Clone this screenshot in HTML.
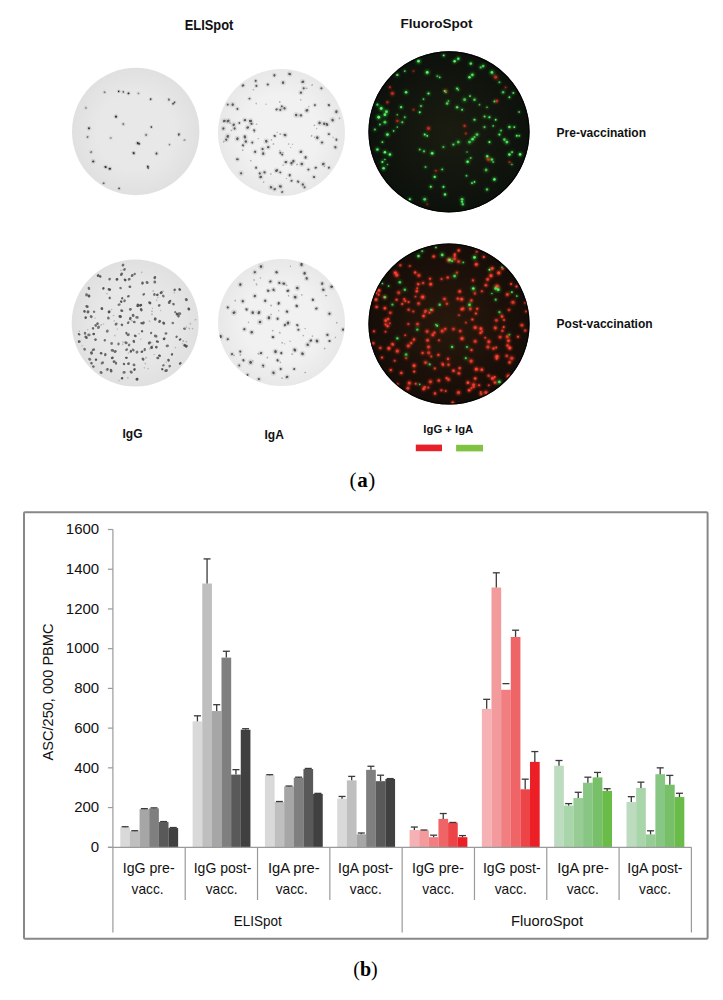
<!DOCTYPE html>
<html><head><meta charset="utf-8">
<style>
html,body{margin:0;padding:0;background:#fff;width:723px;height:1000px;overflow:hidden}
svg{position:absolute;left:0;top:0}
.t{font-family:"Liberation Sans",sans-serif;font-size:14px;fill:#111}
.b{font-family:"Liberation Sans",sans-serif;font-size:12px;font-weight:bold;fill:#111}
.s{font-family:"Liberation Serif",serif;font-size:20px;fill:#000}
</style></head><body>
<svg width="723" height="1000" viewBox="0 0 723 1000">
<defs>
<filter id="soft" x="-5%" y="-5%" width="110%" height="110%"><feGaussianBlur stdDeviation="0.5"/></filter>
<filter id="blur1" x="-5%" y="-5%" width="110%" height="110%"><feGaussianBlur stdDeviation="0.7"/></filter>
<filter id="blur2" x="-5%" y="-5%" width="110%" height="110%"><feGaussianBlur stdDeviation="0.8"/></filter>
</defs>
<clipPath id="c1"><circle cx="135.7" cy="131.5" r="63.7"/></clipPath>
<radialGradient id="g1"><stop offset="0" stop-color="#e8e8e8"/><stop offset="0.6" stop-color="#e8e8e8"/><stop offset="1" stop-color="#e0e0e0"/></radialGradient>
<circle cx="135.7" cy="131.5" r="63.7" fill="url(#g1)" filter="url(#soft)"/>
<g clip-path="url(#c1)"><g filter="url(#blur1)">
<circle cx="104.6" cy="92.3" r="2.03" fill="#2e2e2e" opacity="0.07"/>
<ellipse cx="104.6" cy="92.3" rx="1.04" ry="0.85" transform="rotate(27 104.6 92.3)" fill="#2e2e2e" opacity="0.55"/>
<circle cx="118.7" cy="91.3" r="1.85" fill="#2e2e2e" opacity="0.14"/>
<ellipse cx="118.7" cy="91.3" rx="0.87" ry="0.77" transform="rotate(96 118.7 91.3)" fill="#2e2e2e" opacity="1.00"/>
<circle cx="123.3" cy="91.9" r="1.84" fill="#2e2e2e" opacity="0.11"/>
<ellipse cx="123.3" cy="91.9" rx="0.78" ry="0.77" transform="rotate(91 123.3 91.9)" fill="#2e2e2e" opacity="0.82"/>
<circle cx="128.5" cy="93.4" r="2.11" fill="#2e2e2e" opacity="0.14"/>
<ellipse cx="128.5" cy="93.4" rx="0.91" ry="0.88" transform="rotate(13 128.5 93.4)" fill="#2e2e2e" opacity="1.00"/>
<circle cx="138.4" cy="93.4" r="2.11" fill="#2e2e2e" opacity="0.06"/>
<ellipse cx="138.4" cy="93.4" rx="0.92" ry="0.88" transform="rotate(149 138.4 93.4)" fill="#2e2e2e" opacity="0.46"/>
<circle cx="150.7" cy="99.2" r="1.96" fill="#2e2e2e" opacity="0.11"/>
<ellipse cx="150.7" cy="99.2" rx="1.09" ry="0.82" transform="rotate(113 150.7 99.2)" fill="#2e2e2e" opacity="0.82"/>
<circle cx="168.9" cy="99.6" r="2.22" fill="#2e2e2e" opacity="0.08"/>
<ellipse cx="168.9" cy="99.6" rx="1.24" ry="0.92" transform="rotate(71 168.9 99.6)" fill="#2e2e2e" opacity="0.64"/>
<circle cx="173.1" cy="103.8" r="1.83" fill="#2e2e2e" opacity="0.14"/>
<ellipse cx="173.1" cy="103.8" rx="0.84" ry="0.76" transform="rotate(155 173.1 103.8)" fill="#2e2e2e" opacity="1.00"/>
<circle cx="174.5" cy="102.3" r="1.90" fill="#2e2e2e" opacity="0.11"/>
<ellipse cx="174.5" cy="102.3" rx="0.88" ry="0.79" transform="rotate(21 174.5 102.3)" fill="#2e2e2e" opacity="0.82"/>
<circle cx="116.0" cy="116.6" r="2.39" fill="#2e2e2e" opacity="0.14"/>
<ellipse cx="116.0" cy="116.6" rx="1.20" ry="0.99" transform="rotate(33 116.0 116.6)" fill="#2e2e2e" opacity="1.00"/>
<circle cx="123.3" cy="124.1" r="2.26" fill="#2e2e2e" opacity="0.07"/>
<ellipse cx="123.3" cy="124.1" rx="1.12" ry="0.94" transform="rotate(67 123.3 124.1)" fill="#2e2e2e" opacity="0.55"/>
<circle cx="151.3" cy="127.0" r="1.85" fill="#2e2e2e" opacity="0.14"/>
<ellipse cx="151.3" cy="127.0" rx="0.82" ry="0.77" transform="rotate(11 151.3 127.0)" fill="#2e2e2e" opacity="1.00"/>
<circle cx="89.0" cy="128.2" r="2.29" fill="#2e2e2e" opacity="0.14"/>
<ellipse cx="89.0" cy="128.2" rx="1.06" ry="0.95" transform="rotate(77 89.0 128.2)" fill="#2e2e2e" opacity="1.00"/>
<circle cx="87.6" cy="137.0" r="2.22" fill="#2e2e2e" opacity="0.07"/>
<ellipse cx="87.6" cy="137.0" rx="1.02" ry="0.93" transform="rotate(82 87.6 137.0)" fill="#2e2e2e" opacity="0.55"/>
<circle cx="146.1" cy="134.9" r="2.37" fill="#2e2e2e" opacity="0.07"/>
<ellipse cx="146.1" cy="134.9" rx="1.07" ry="0.99" transform="rotate(126 146.1 134.9)" fill="#2e2e2e" opacity="0.55"/>
<circle cx="178.9" cy="134.5" r="2.21" fill="#2e2e2e" opacity="0.11"/>
<ellipse cx="178.9" cy="134.5" rx="1.20" ry="0.92" transform="rotate(95 178.9 134.5)" fill="#2e2e2e" opacity="0.82"/>
<circle cx="137.8" cy="143.2" r="2.33" fill="#2e2e2e" opacity="0.14"/>
<ellipse cx="137.8" cy="143.2" rx="1.30" ry="0.97" transform="rotate(52 137.8 143.2)" fill="#2e2e2e" opacity="1.00"/>
<circle cx="139.3" cy="143.8" r="1.89" fill="#2e2e2e" opacity="0.11"/>
<ellipse cx="139.3" cy="143.8" rx="0.99" ry="0.79" transform="rotate(75 139.3 143.8)" fill="#2e2e2e" opacity="0.82"/>
<circle cx="169.5" cy="144.6" r="1.91" fill="#2e2e2e" opacity="0.07"/>
<ellipse cx="169.5" cy="144.6" rx="0.81" ry="0.80" transform="rotate(88 169.5 144.6)" fill="#2e2e2e" opacity="0.55"/>
<circle cx="91.1" cy="152.1" r="2.28" fill="#2e2e2e" opacity="0.07"/>
<ellipse cx="91.1" cy="152.1" rx="1.14" ry="0.95" transform="rotate(138 91.1 152.1)" fill="#2e2e2e" opacity="0.55"/>
<circle cx="133.7" cy="153.1" r="2.43" fill="#2e2e2e" opacity="0.13"/>
<ellipse cx="133.7" cy="153.1" rx="1.26" ry="1.01" transform="rotate(56 133.7 153.1)" fill="#2e2e2e" opacity="0.91"/>
<circle cx="156.5" cy="153.5" r="2.23" fill="#2e2e2e" opacity="0.13"/>
<ellipse cx="156.5" cy="153.5" rx="1.08" ry="0.93" transform="rotate(104 156.5 153.5)" fill="#2e2e2e" opacity="0.91"/>
<circle cx="93.2" cy="161.4" r="2.40" fill="#2e2e2e" opacity="0.13"/>
<ellipse cx="93.2" cy="161.4" rx="1.17" ry="1.00" transform="rotate(170 93.2 161.4)" fill="#2e2e2e" opacity="0.91"/>
<circle cx="105.6" cy="167.0" r="2.28" fill="#2e2e2e" opacity="0.14"/>
<ellipse cx="105.6" cy="167.0" rx="1.18" ry="0.95" transform="rotate(11 105.6 167.0)" fill="#2e2e2e" opacity="1.00"/>
<circle cx="109.8" cy="168.7" r="2.27" fill="#2e2e2e" opacity="0.14"/>
<ellipse cx="109.8" cy="168.7" rx="1.22" ry="0.94" transform="rotate(179 109.8 168.7)" fill="#2e2e2e" opacity="1.00"/>
<circle cx="147.8" cy="166.6" r="2.00" fill="#2e2e2e" opacity="0.14"/>
<ellipse cx="147.8" cy="166.6" rx="1.03" ry="0.84" transform="rotate(69 147.8 166.6)" fill="#2e2e2e" opacity="1.00"/>
<circle cx="148.2" cy="168.1" r="1.82" fill="#2e2e2e" opacity="0.11"/>
<ellipse cx="148.2" cy="168.1" rx="0.80" ry="0.76" transform="rotate(83 148.2 168.1)" fill="#2e2e2e" opacity="0.82"/>
<circle cx="103.6" cy="183.2" r="1.88" fill="#2e2e2e" opacity="0.10"/>
<ellipse cx="103.6" cy="183.2" rx="1.00" ry="0.79" transform="rotate(11 103.6 183.2)" fill="#2e2e2e" opacity="0.73"/>
<circle cx="119.1" cy="188.4" r="1.89" fill="#2e2e2e" opacity="0.11"/>
<ellipse cx="119.1" cy="188.4" rx="0.90" ry="0.79" transform="rotate(45 119.1 188.4)" fill="#2e2e2e" opacity="0.82"/>
<circle cx="110.8" cy="138.0" r="2.43" fill="#2e2e2e" opacity="0.04"/>
<ellipse cx="110.8" cy="138.0" rx="1.17" ry="1.01" transform="rotate(15 110.8 138.0)" fill="#2e2e2e" opacity="0.37"/>
<circle cx="184.5" cy="140.1" r="2.20" fill="#2e2e2e" opacity="0.04"/>
<ellipse cx="184.5" cy="140.1" rx="1.18" ry="0.91" transform="rotate(159 184.5 140.1)" fill="#2e2e2e" opacity="0.37"/>
<circle cx="85.9" cy="107.9" r="2.42" fill="#2e2e2e" opacity="0.04"/>
<ellipse cx="85.9" cy="107.9" rx="1.16" ry="1.01" transform="rotate(50 85.9 107.9)" fill="#2e2e2e" opacity="0.37"/>
</g></g>
<clipPath id="c2"><circle cx="281.5" cy="132.5" r="63.5"/></clipPath>
<radialGradient id="g2"><stop offset="0" stop-color="#f1f1f1"/><stop offset="0.6" stop-color="#f1f1f1"/><stop offset="1" stop-color="#e8e8e8"/></radialGradient>
<circle cx="281.5" cy="132.5" r="63.5" fill="url(#g2)" filter="url(#soft)"/>
<g clip-path="url(#c2)"><g filter="url(#blur1)">
<circle cx="243.0" cy="85.5" r="2.46" fill="#5a5a5a" opacity="0.14"/>
<ellipse cx="243.0" cy="85.5" rx="1.37" ry="1.03" transform="rotate(159 243.0 85.5)" fill="#5a5a5a" opacity="1.00"/>
<circle cx="255.7" cy="80.9" r="2.29" fill="#5a5a5a" opacity="0.14"/>
<ellipse cx="255.7" cy="80.9" rx="1.03" ry="0.95" transform="rotate(32 255.7 80.9)" fill="#5a5a5a" opacity="1.00"/>
<circle cx="256.4" cy="85.9" r="2.36" fill="#5a5a5a" opacity="0.14"/>
<ellipse cx="256.4" cy="85.9" rx="1.18" ry="0.98" transform="rotate(87 256.4 85.9)" fill="#5a5a5a" opacity="1.00"/>
<circle cx="267.8" cy="84.6" r="2.38" fill="#5a5a5a" opacity="0.14"/>
<ellipse cx="267.8" cy="84.6" rx="1.14" ry="0.99" transform="rotate(1 267.8 84.6)" fill="#5a5a5a" opacity="1.00"/>
<circle cx="274.4" cy="75.3" r="2.47" fill="#5a5a5a" opacity="0.14"/>
<ellipse cx="274.4" cy="75.3" rx="1.37" ry="1.03" transform="rotate(102 274.4 75.3)" fill="#5a5a5a" opacity="1.00"/>
<circle cx="283.1" cy="82.7" r="2.74" fill="#5a5a5a" opacity="0.14"/>
<ellipse cx="283.1" cy="82.7" rx="1.39" ry="1.14" transform="rotate(93 283.1 82.7)" fill="#5a5a5a" opacity="1.00"/>
<circle cx="289.7" cy="74.0" r="2.73" fill="#5a5a5a" opacity="0.14"/>
<ellipse cx="289.7" cy="74.0" rx="1.49" ry="1.14" transform="rotate(10 289.7 74.0)" fill="#5a5a5a" opacity="1.00"/>
<circle cx="302.8" cy="81.8" r="2.82" fill="#5a5a5a" opacity="0.14"/>
<ellipse cx="302.8" cy="81.8" rx="1.50" ry="1.17" transform="rotate(157 302.8 81.8)" fill="#5a5a5a" opacity="1.00"/>
<circle cx="303.7" cy="88.3" r="2.49" fill="#5a5a5a" opacity="0.14"/>
<ellipse cx="303.7" cy="88.3" rx="1.07" ry="1.04" transform="rotate(72 303.7 88.3)" fill="#5a5a5a" opacity="1.00"/>
<circle cx="300.9" cy="92.6" r="2.69" fill="#5a5a5a" opacity="0.14"/>
<ellipse cx="300.9" cy="92.6" rx="1.15" ry="1.12" transform="rotate(11 300.9 92.6)" fill="#5a5a5a" opacity="1.00"/>
<circle cx="321.4" cy="88.3" r="2.34" fill="#5a5a5a" opacity="0.14"/>
<ellipse cx="321.4" cy="88.3" rx="1.09" ry="0.97" transform="rotate(29 321.4 88.3)" fill="#5a5a5a" opacity="1.00"/>
<circle cx="249.5" cy="98.6" r="2.20" fill="#5a5a5a" opacity="0.14"/>
<ellipse cx="249.5" cy="98.6" rx="0.97" ry="0.92" transform="rotate(0 249.5 98.6)" fill="#5a5a5a" opacity="1.00"/>
<circle cx="227.7" cy="104.6" r="2.25" fill="#5a5a5a" opacity="0.14"/>
<ellipse cx="227.7" cy="104.6" rx="0.94" ry="0.94" transform="rotate(65 227.7 104.6)" fill="#5a5a5a" opacity="1.00"/>
<circle cx="232.7" cy="104.6" r="2.89" fill="#5a5a5a" opacity="0.14"/>
<ellipse cx="232.7" cy="104.6" rx="1.27" ry="1.21" transform="rotate(111 232.7 104.6)" fill="#5a5a5a" opacity="1.00"/>
<circle cx="237.4" cy="108.9" r="2.37" fill="#5a5a5a" opacity="0.14"/>
<ellipse cx="237.4" cy="108.9" rx="1.11" ry="0.99" transform="rotate(63 237.4 108.9)" fill="#5a5a5a" opacity="1.00"/>
<circle cx="276.6" cy="109.4" r="2.26" fill="#5a5a5a" opacity="0.14"/>
<ellipse cx="276.6" cy="109.4" rx="1.27" ry="0.94" transform="rotate(153 276.6 109.4)" fill="#5a5a5a" opacity="1.00"/>
<circle cx="280.3" cy="109.8" r="2.55" fill="#5a5a5a" opacity="0.14"/>
<ellipse cx="280.3" cy="109.8" rx="1.10" ry="1.06" transform="rotate(87 280.3 109.8)" fill="#5a5a5a" opacity="1.00"/>
<circle cx="281.8" cy="106.4" r="2.25" fill="#5a5a5a" opacity="0.14"/>
<ellipse cx="281.8" cy="106.4" rx="1.02" ry="0.94" transform="rotate(62 281.8 106.4)" fill="#5a5a5a" opacity="1.00"/>
<circle cx="284.5" cy="108.3" r="2.86" fill="#5a5a5a" opacity="0.14"/>
<ellipse cx="284.5" cy="108.3" rx="1.20" ry="1.19" transform="rotate(29 284.5 108.3)" fill="#5a5a5a" opacity="1.00"/>
<circle cx="296.2" cy="115.0" r="2.96" fill="#5a5a5a" opacity="0.14"/>
<ellipse cx="296.2" cy="115.0" rx="1.30" ry="1.23" transform="rotate(95 296.2 115.0)" fill="#5a5a5a" opacity="1.00"/>
<circle cx="300.9" cy="115.4" r="2.62" fill="#5a5a5a" opacity="0.14"/>
<ellipse cx="300.9" cy="115.4" rx="1.29" ry="1.09" transform="rotate(5 300.9 115.4)" fill="#5a5a5a" opacity="1.00"/>
<circle cx="306.9" cy="110.4" r="2.98" fill="#5a5a5a" opacity="0.14"/>
<ellipse cx="306.9" cy="110.4" rx="1.55" ry="1.24" transform="rotate(155 306.9 110.4)" fill="#5a5a5a" opacity="1.00"/>
<circle cx="314.9" cy="105.1" r="2.38" fill="#5a5a5a" opacity="0.14"/>
<ellipse cx="314.9" cy="105.1" rx="1.05" ry="0.99" transform="rotate(66 314.9 105.1)" fill="#5a5a5a" opacity="1.00"/>
<circle cx="336.4" cy="111.7" r="2.81" fill="#5a5a5a" opacity="0.14"/>
<ellipse cx="336.4" cy="111.7" rx="1.49" ry="1.17" transform="rotate(96 336.4 111.7)" fill="#5a5a5a" opacity="1.00"/>
<circle cx="328.9" cy="105.1" r="2.44" fill="#5a5a5a" opacity="0.14"/>
<ellipse cx="328.9" cy="105.1" rx="1.30" ry="1.02" transform="rotate(40 328.9 105.1)" fill="#5a5a5a" opacity="1.00"/>
<circle cx="228.1" cy="121.0" r="2.99" fill="#5a5a5a" opacity="0.14"/>
<ellipse cx="228.1" cy="121.0" rx="1.60" ry="1.24" transform="rotate(153 228.1 121.0)" fill="#5a5a5a" opacity="1.00"/>
<circle cx="233.7" cy="124.7" r="2.85" fill="#5a5a5a" opacity="0.14"/>
<ellipse cx="233.7" cy="124.7" rx="1.28" ry="1.19" transform="rotate(133 233.7 124.7)" fill="#5a5a5a" opacity="1.00"/>
<circle cx="234.6" cy="128.5" r="2.59" fill="#5a5a5a" opacity="0.14"/>
<ellipse cx="234.6" cy="128.5" rx="1.09" ry="1.08" transform="rotate(64 234.6 128.5)" fill="#5a5a5a" opacity="1.00"/>
<circle cx="239.3" cy="122.9" r="2.18" fill="#5a5a5a" opacity="0.14"/>
<ellipse cx="239.3" cy="122.9" rx="0.99" ry="0.91" transform="rotate(50 239.3 122.9)" fill="#5a5a5a" opacity="1.00"/>
<circle cx="244.9" cy="120.1" r="2.74" fill="#5a5a5a" opacity="0.14"/>
<ellipse cx="244.9" cy="120.1" rx="1.32" ry="1.14" transform="rotate(172 244.9 120.1)" fill="#5a5a5a" opacity="1.00"/>
<circle cx="250.5" cy="121.0" r="2.95" fill="#5a5a5a" opacity="0.14"/>
<ellipse cx="250.5" cy="121.0" rx="1.64" ry="1.23" transform="rotate(178 250.5 121.0)" fill="#5a5a5a" opacity="1.00"/>
<circle cx="251.4" cy="123.8" r="2.47" fill="#5a5a5a" opacity="0.14"/>
<ellipse cx="251.4" cy="123.8" rx="1.11" ry="1.03" transform="rotate(40 251.4 123.8)" fill="#5a5a5a" opacity="1.00"/>
<circle cx="254.2" cy="130.3" r="2.33" fill="#5a5a5a" opacity="0.14"/>
<ellipse cx="254.2" cy="130.3" rx="1.18" ry="0.97" transform="rotate(37 254.2 130.3)" fill="#5a5a5a" opacity="1.00"/>
<circle cx="247.7" cy="127.5" r="2.92" fill="#5a5a5a" opacity="0.14"/>
<ellipse cx="247.7" cy="127.5" rx="1.42" ry="1.22" transform="rotate(151 247.7 127.5)" fill="#5a5a5a" opacity="1.00"/>
<circle cx="223.4" cy="128.5" r="2.71" fill="#5a5a5a" opacity="0.14"/>
<ellipse cx="223.4" cy="128.5" rx="1.16" ry="1.13" transform="rotate(144 223.4 128.5)" fill="#5a5a5a" opacity="1.00"/>
<circle cx="224.3" cy="121.0" r="2.71" fill="#5a5a5a" opacity="0.14"/>
<ellipse cx="224.3" cy="121.0" rx="1.44" ry="1.13" transform="rotate(164 224.3 121.0)" fill="#5a5a5a" opacity="1.00"/>
<circle cx="324.2" cy="123.8" r="2.79" fill="#5a5a5a" opacity="0.14"/>
<ellipse cx="324.2" cy="123.8" rx="1.24" ry="1.16" transform="rotate(86 324.2 123.8)" fill="#5a5a5a" opacity="1.00"/>
<circle cx="327.0" cy="124.4" r="2.82" fill="#5a5a5a" opacity="0.14"/>
<ellipse cx="327.0" cy="124.4" rx="1.51" ry="1.18" transform="rotate(60 327.0 124.4)" fill="#5a5a5a" opacity="1.00"/>
<circle cx="332.6" cy="120.1" r="2.98" fill="#5a5a5a" opacity="0.14"/>
<ellipse cx="332.6" cy="120.1" rx="1.41" ry="1.24" transform="rotate(71 332.6 120.1)" fill="#5a5a5a" opacity="1.00"/>
<circle cx="319.6" cy="122.9" r="2.96" fill="#5a5a5a" opacity="0.14"/>
<ellipse cx="319.6" cy="122.9" rx="1.30" ry="1.23" transform="rotate(130 319.6 122.9)" fill="#5a5a5a" opacity="1.00"/>
<circle cx="274.7" cy="135.9" r="2.27" fill="#5a5a5a" opacity="0.14"/>
<ellipse cx="274.7" cy="135.9" rx="1.24" ry="0.94" transform="rotate(27 274.7 135.9)" fill="#5a5a5a" opacity="1.00"/>
<circle cx="285.0" cy="135.0" r="2.84" fill="#5a5a5a" opacity="0.14"/>
<ellipse cx="285.0" cy="135.0" rx="1.52" ry="1.18" transform="rotate(26 285.0 135.0)" fill="#5a5a5a" opacity="1.00"/>
<circle cx="227.7" cy="136.3" r="2.98" fill="#5a5a5a" opacity="0.14"/>
<ellipse cx="227.7" cy="136.3" rx="1.40" ry="1.24" transform="rotate(118 227.7 136.3)" fill="#5a5a5a" opacity="1.00"/>
<circle cx="226.2" cy="139.7" r="2.62" fill="#5a5a5a" opacity="0.14"/>
<ellipse cx="226.2" cy="139.7" rx="1.10" ry="1.09" transform="rotate(24 226.2 139.7)" fill="#5a5a5a" opacity="1.00"/>
<circle cx="237.4" cy="138.7" r="2.98" fill="#5a5a5a" opacity="0.14"/>
<ellipse cx="237.4" cy="138.7" rx="1.47" ry="1.24" transform="rotate(117 237.4 138.7)" fill="#5a5a5a" opacity="1.00"/>
<circle cx="244.9" cy="136.9" r="2.94" fill="#5a5a5a" opacity="0.14"/>
<ellipse cx="244.9" cy="136.9" rx="1.60" ry="1.23" transform="rotate(78 244.9 136.9)" fill="#5a5a5a" opacity="1.00"/>
<circle cx="245.8" cy="141.5" r="2.85" fill="#5a5a5a" opacity="0.14"/>
<ellipse cx="245.8" cy="141.5" rx="1.29" ry="1.19" transform="rotate(38 245.8 141.5)" fill="#5a5a5a" opacity="1.00"/>
<circle cx="243.0" cy="145.3" r="2.41" fill="#5a5a5a" opacity="0.14"/>
<ellipse cx="243.0" cy="145.3" rx="1.21" ry="1.00" transform="rotate(43 243.0 145.3)" fill="#5a5a5a" opacity="1.00"/>
<circle cx="252.3" cy="142.5" r="2.38" fill="#5a5a5a" opacity="0.14"/>
<ellipse cx="252.3" cy="142.5" rx="1.04" ry="0.99" transform="rotate(75 252.3 142.5)" fill="#5a5a5a" opacity="1.00"/>
<circle cx="266.3" cy="141.2" r="2.92" fill="#5a5a5a" opacity="0.14"/>
<ellipse cx="266.3" cy="141.2" rx="1.41" ry="1.22" transform="rotate(64 266.3 141.2)" fill="#5a5a5a" opacity="1.00"/>
<circle cx="268.2" cy="147.2" r="2.65" fill="#5a5a5a" opacity="0.14"/>
<ellipse cx="268.2" cy="147.2" rx="1.27" ry="1.10" transform="rotate(163 268.2 147.2)" fill="#5a5a5a" opacity="1.00"/>
<circle cx="317.3" cy="137.8" r="2.93" fill="#5a5a5a" opacity="0.14"/>
<ellipse cx="317.3" cy="137.8" rx="1.45" ry="1.22" transform="rotate(90 317.3 137.8)" fill="#5a5a5a" opacity="1.00"/>
<circle cx="322.0" cy="142.5" r="2.60" fill="#5a5a5a" opacity="0.14"/>
<ellipse cx="322.0" cy="142.5" rx="1.25" ry="1.08" transform="rotate(3 322.0 142.5)" fill="#5a5a5a" opacity="1.00"/>
<circle cx="328.9" cy="134.1" r="2.31" fill="#5a5a5a" opacity="0.14"/>
<ellipse cx="328.9" cy="134.1" rx="1.23" ry="0.96" transform="rotate(1 328.9 134.1)" fill="#5a5a5a" opacity="1.00"/>
<circle cx="336.4" cy="139.7" r="2.30" fill="#5a5a5a" opacity="0.14"/>
<ellipse cx="336.4" cy="139.7" rx="1.20" ry="0.96" transform="rotate(85 336.4 139.7)" fill="#5a5a5a" opacity="1.00"/>
<circle cx="335.4" cy="147.2" r="2.63" fill="#5a5a5a" opacity="0.14"/>
<ellipse cx="335.4" cy="147.2" rx="1.29" ry="1.09" transform="rotate(59 335.4 147.2)" fill="#5a5a5a" opacity="1.00"/>
<circle cx="255.1" cy="151.8" r="2.63" fill="#5a5a5a" opacity="0.14"/>
<ellipse cx="255.1" cy="151.8" rx="1.14" ry="1.09" transform="rotate(141 255.1 151.8)" fill="#5a5a5a" opacity="1.00"/>
<circle cx="262.6" cy="149.0" r="2.63" fill="#5a5a5a" opacity="0.14"/>
<ellipse cx="262.6" cy="149.0" rx="1.20" ry="1.10" transform="rotate(45 262.6 149.0)" fill="#5a5a5a" opacity="1.00"/>
<circle cx="263.2" cy="153.7" r="2.81" fill="#5a5a5a" opacity="0.14"/>
<ellipse cx="263.2" cy="153.7" rx="1.40" ry="1.17" transform="rotate(91 263.2 153.7)" fill="#5a5a5a" opacity="1.00"/>
<circle cx="300.9" cy="151.8" r="2.80" fill="#5a5a5a" opacity="0.14"/>
<ellipse cx="300.9" cy="151.8" rx="1.35" ry="1.17" transform="rotate(164 300.9 151.8)" fill="#5a5a5a" opacity="1.00"/>
<circle cx="305.6" cy="157.4" r="2.67" fill="#5a5a5a" opacity="0.14"/>
<ellipse cx="305.6" cy="157.4" rx="1.31" ry="1.11" transform="rotate(91 305.6 157.4)" fill="#5a5a5a" opacity="1.00"/>
<circle cx="293.4" cy="161.2" r="2.74" fill="#5a5a5a" opacity="0.14"/>
<ellipse cx="293.4" cy="161.2" rx="1.36" ry="1.14" transform="rotate(81 293.4 161.2)" fill="#5a5a5a" opacity="1.00"/>
<circle cx="291.5" cy="163.0" r="2.56" fill="#5a5a5a" opacity="0.14"/>
<ellipse cx="291.5" cy="163.0" rx="1.33" ry="1.07" transform="rotate(169 291.5 163.0)" fill="#5a5a5a" opacity="1.00"/>
<circle cx="301.8" cy="164.0" r="2.90" fill="#5a5a5a" opacity="0.14"/>
<ellipse cx="301.8" cy="164.0" rx="1.32" ry="1.21" transform="rotate(170 301.8 164.0)" fill="#5a5a5a" opacity="1.00"/>
<circle cx="285.9" cy="162.1" r="2.63" fill="#5a5a5a" opacity="0.14"/>
<ellipse cx="285.9" cy="162.1" rx="1.42" ry="1.10" transform="rotate(170 285.9 162.1)" fill="#5a5a5a" opacity="1.00"/>
<circle cx="282.2" cy="154.6" r="2.28" fill="#5a5a5a" opacity="0.14"/>
<ellipse cx="282.2" cy="154.6" rx="1.09" ry="0.95" transform="rotate(22 282.2 154.6)" fill="#5a5a5a" opacity="1.00"/>
<circle cx="280.3" cy="152.8" r="2.22" fill="#5a5a5a" opacity="0.14"/>
<ellipse cx="280.3" cy="152.8" rx="0.95" ry="0.93" transform="rotate(43 280.3 152.8)" fill="#5a5a5a" opacity="1.00"/>
<circle cx="323.3" cy="164.0" r="2.72" fill="#5a5a5a" opacity="0.14"/>
<ellipse cx="323.3" cy="164.0" rx="1.49" ry="1.13" transform="rotate(141 323.3 164.0)" fill="#5a5a5a" opacity="1.00"/>
<circle cx="328.9" cy="167.7" r="2.29" fill="#5a5a5a" opacity="0.14"/>
<ellipse cx="328.9" cy="167.7" rx="1.17" ry="0.95" transform="rotate(129 328.9 167.7)" fill="#5a5a5a" opacity="1.00"/>
<circle cx="315.8" cy="167.7" r="2.28" fill="#5a5a5a" opacity="0.14"/>
<ellipse cx="315.8" cy="167.7" rx="1.27" ry="0.95" transform="rotate(159 315.8 167.7)" fill="#5a5a5a" opacity="1.00"/>
<circle cx="308.4" cy="169.6" r="2.34" fill="#5a5a5a" opacity="0.14"/>
<ellipse cx="308.4" cy="169.6" rx="1.11" ry="0.98" transform="rotate(171 308.4 169.6)" fill="#5a5a5a" opacity="1.00"/>
<circle cx="237.4" cy="159.3" r="2.57" fill="#5a5a5a" opacity="0.14"/>
<ellipse cx="237.4" cy="159.3" rx="1.38" ry="1.07" transform="rotate(178 237.4 159.3)" fill="#5a5a5a" opacity="1.00"/>
<circle cx="256.1" cy="167.7" r="2.30" fill="#5a5a5a" opacity="0.14"/>
<ellipse cx="256.1" cy="167.7" rx="1.13" ry="0.96" transform="rotate(78 256.1 167.7)" fill="#5a5a5a" opacity="1.00"/>
<circle cx="259.8" cy="173.3" r="2.44" fill="#5a5a5a" opacity="0.14"/>
<ellipse cx="259.8" cy="173.3" rx="1.13" ry="1.02" transform="rotate(35 259.8 173.3)" fill="#5a5a5a" opacity="1.00"/>
<circle cx="260.7" cy="177.0" r="2.77" fill="#5a5a5a" opacity="0.14"/>
<ellipse cx="260.7" cy="177.0" rx="1.38" ry="1.15" transform="rotate(4 260.7 177.0)" fill="#5a5a5a" opacity="1.00"/>
<circle cx="264.5" cy="172.4" r="2.53" fill="#5a5a5a" opacity="0.14"/>
<ellipse cx="264.5" cy="172.4" rx="1.18" ry="1.05" transform="rotate(3 264.5 172.4)" fill="#5a5a5a" opacity="1.00"/>
<circle cx="241.1" cy="173.3" r="2.68" fill="#5a5a5a" opacity="0.14"/>
<ellipse cx="241.1" cy="173.3" rx="1.14" ry="1.12" transform="rotate(92 241.1 173.3)" fill="#5a5a5a" opacity="1.00"/>
<circle cx="276.6" cy="170.5" r="2.99" fill="#5a5a5a" opacity="0.14"/>
<ellipse cx="276.6" cy="170.5" rx="1.67" ry="1.24" transform="rotate(142 276.6 170.5)" fill="#5a5a5a" opacity="1.00"/>
<circle cx="280.3" cy="172.4" r="2.25" fill="#5a5a5a" opacity="0.14"/>
<ellipse cx="280.3" cy="172.4" rx="0.95" ry="0.94" transform="rotate(48 280.3 172.4)" fill="#5a5a5a" opacity="1.00"/>
<circle cx="271.0" cy="187.3" r="2.81" fill="#5a5a5a" opacity="0.14"/>
<ellipse cx="271.0" cy="187.3" rx="1.23" ry="1.17" transform="rotate(49 271.0 187.3)" fill="#5a5a5a" opacity="1.00"/>
<circle cx="274.7" cy="189.2" r="2.51" fill="#5a5a5a" opacity="0.14"/>
<ellipse cx="274.7" cy="189.2" rx="1.35" ry="1.05" transform="rotate(164 274.7 189.2)" fill="#5a5a5a" opacity="1.00"/>
<circle cx="298.1" cy="181.7" r="2.38" fill="#5a5a5a" opacity="0.14"/>
<ellipse cx="298.1" cy="181.7" rx="1.31" ry="0.99" transform="rotate(27 298.1 181.7)" fill="#5a5a5a" opacity="1.00"/>
<circle cx="302.8" cy="184.5" r="2.64" fill="#5a5a5a" opacity="0.14"/>
<ellipse cx="302.8" cy="184.5" rx="1.13" ry="1.10" transform="rotate(126 302.8 184.5)" fill="#5a5a5a" opacity="1.00"/>
<circle cx="304.6" cy="187.3" r="2.21" fill="#5a5a5a" opacity="0.14"/>
<ellipse cx="304.6" cy="187.3" rx="1.06" ry="0.92" transform="rotate(124 304.6 187.3)" fill="#5a5a5a" opacity="1.00"/>
<circle cx="291.5" cy="180.8" r="2.22" fill="#5a5a5a" opacity="0.14"/>
<ellipse cx="291.5" cy="180.8" rx="1.13" ry="0.93" transform="rotate(169 291.5 180.8)" fill="#5a5a5a" opacity="1.00"/>
<circle cx="280.3" cy="186.4" r="2.83" fill="#5a5a5a" opacity="0.14"/>
<ellipse cx="280.3" cy="186.4" rx="1.53" ry="1.18" transform="rotate(15 280.3 186.4)" fill="#5a5a5a" opacity="1.00"/>
<circle cx="282.2" cy="192.0" r="2.22" fill="#5a5a5a" opacity="0.14"/>
<ellipse cx="282.2" cy="192.0" rx="1.07" ry="0.92" transform="rotate(155 282.2 192.0)" fill="#5a5a5a" opacity="1.00"/>
<circle cx="289.7" cy="175.2" r="2.44" fill="#5a5a5a" opacity="0.14"/>
<ellipse cx="289.7" cy="175.2" rx="1.35" ry="1.02" transform="rotate(100 289.7 175.2)" fill="#5a5a5a" opacity="1.00"/>
<circle cx="314.0" cy="177.0" r="2.39" fill="#5a5a5a" opacity="0.14"/>
<ellipse cx="314.0" cy="177.0" rx="1.18" ry="0.99" transform="rotate(23 314.0 177.0)" fill="#5a5a5a" opacity="1.00"/>
</g></g>
<g clip-path="url(#c2)"><g filter="url(#blur1)">
<ellipse cx="283.0" cy="152.5" rx="0.73" ry="0.70" transform="rotate(177 283.0 152.5)" fill="#555" opacity="0.42"/>
<ellipse cx="288.7" cy="144.0" rx="0.83" ry="0.82" transform="rotate(116 288.7 144.0)" fill="#555" opacity="0.42"/>
<ellipse cx="291.6" cy="164.8" rx="1.04" ry="0.85" transform="rotate(161 291.6 164.8)" fill="#555" opacity="0.42"/>
<ellipse cx="263.6" cy="182.1" rx="0.86" ry="0.82" transform="rotate(146 263.6 182.1)" fill="#555" opacity="0.42"/>
<ellipse cx="270.9" cy="173.9" rx="0.98" ry="0.76" transform="rotate(91 270.9 173.9)" fill="#555" opacity="0.42"/>
<ellipse cx="297.1" cy="164.5" rx="1.01" ry="0.84" transform="rotate(149 297.1 164.5)" fill="#555" opacity="0.42"/>
<ellipse cx="311.6" cy="135.9" rx="1.08" ry="0.87" transform="rotate(123 311.6 135.9)" fill="#555" opacity="0.42"/>
<ellipse cx="333.1" cy="137.5" rx="0.70" ry="0.67" transform="rotate(6 333.1 137.5)" fill="#555" opacity="0.42"/>
<ellipse cx="256.5" cy="124.2" rx="0.92" ry="0.71" transform="rotate(19 256.5 124.2)" fill="#555" opacity="0.42"/>
<ellipse cx="223.7" cy="141.7" rx="0.94" ry="0.77" transform="rotate(113 223.7 141.7)" fill="#555" opacity="0.42"/>
<ellipse cx="324.5" cy="166.4" rx="0.81" ry="0.80" transform="rotate(88 324.5 166.4)" fill="#555" opacity="0.42"/>
<ellipse cx="242.7" cy="150.1" rx="0.99" ry="0.84" transform="rotate(135 242.7 150.1)" fill="#555" opacity="0.42"/>
<ellipse cx="300.7" cy="99.8" rx="0.78" ry="0.76" transform="rotate(119 300.7 99.8)" fill="#555" opacity="0.42"/>
<ellipse cx="231.4" cy="130.4" rx="0.84" ry="0.82" transform="rotate(45 231.4 130.4)" fill="#555" opacity="0.42"/>
<ellipse cx="316.7" cy="128.6" rx="0.73" ry="0.68" transform="rotate(131 316.7 128.6)" fill="#555" opacity="0.42"/>
<ellipse cx="306.6" cy="88.3" rx="0.96" ry="0.82" transform="rotate(176 306.6 88.3)" fill="#555" opacity="0.42"/>
<ellipse cx="256.2" cy="103.5" rx="0.89" ry="0.71" transform="rotate(86 256.2 103.5)" fill="#555" opacity="0.42"/>
<ellipse cx="273.4" cy="144.0" rx="1.02" ry="0.83" transform="rotate(111 273.4 144.0)" fill="#555" opacity="0.42"/>
<ellipse cx="292.5" cy="144.2" rx="0.68" ry="0.62" transform="rotate(27 292.5 144.2)" fill="#555" opacity="0.42"/>
<ellipse cx="279.8" cy="102.0" rx="0.99" ry="0.82" transform="rotate(55 279.8 102.0)" fill="#555" opacity="0.42"/>
<ellipse cx="290.6" cy="147.5" rx="0.66" ry="0.60" transform="rotate(11 290.6 147.5)" fill="#555" opacity="0.42"/>
<ellipse cx="312.1" cy="85.1" rx="0.99" ry="0.80" transform="rotate(125 312.1 85.1)" fill="#555" opacity="0.42"/>
<ellipse cx="266.1" cy="104.3" rx="0.80" ry="0.69" transform="rotate(93 266.1 104.3)" fill="#555" opacity="0.42"/>
<ellipse cx="283.1" cy="165.2" rx="0.97" ry="0.74" transform="rotate(21 283.1 165.2)" fill="#555" opacity="0.42"/>
<ellipse cx="258.3" cy="138.6" rx="0.88" ry="0.66" transform="rotate(176 258.3 138.6)" fill="#555" opacity="0.42"/>
<ellipse cx="252.2" cy="142.9" rx="0.78" ry="0.61" transform="rotate(83 252.2 142.9)" fill="#555" opacity="0.42"/>
<ellipse cx="339.5" cy="118.3" rx="0.97" ry="0.89" transform="rotate(81 339.5 118.3)" fill="#555" opacity="0.42"/>
<ellipse cx="252.9" cy="123.8" rx="0.71" ry="0.66" transform="rotate(170 252.9 123.8)" fill="#555" opacity="0.42"/>
<ellipse cx="314.4" cy="125.3" rx="0.92" ry="0.77" transform="rotate(26 314.4 125.3)" fill="#555" opacity="0.42"/>
<ellipse cx="280.3" cy="134.1" rx="1.14" ry="0.89" transform="rotate(24 280.3 134.1)" fill="#555" opacity="0.42"/>
<ellipse cx="250.8" cy="160.7" rx="0.94" ry="0.75" transform="rotate(160 250.8 160.7)" fill="#555" opacity="0.42"/>
<ellipse cx="254.4" cy="132.0" rx="0.78" ry="0.67" transform="rotate(162 254.4 132.0)" fill="#555" opacity="0.42"/>
<ellipse cx="277.2" cy="132.4" rx="0.71" ry="0.61" transform="rotate(1 277.2 132.4)" fill="#555" opacity="0.42"/>
<ellipse cx="279.9" cy="150.6" rx="0.77" ry="0.74" transform="rotate(54 279.9 150.6)" fill="#555" opacity="0.42"/>
<ellipse cx="271.5" cy="139.8" rx="0.91" ry="0.70" transform="rotate(57 271.5 139.8)" fill="#555" opacity="0.42"/>
<ellipse cx="314.5" cy="137.2" rx="0.78" ry="0.60" transform="rotate(135 314.5 137.2)" fill="#555" opacity="0.42"/>
<ellipse cx="286.5" cy="178.5" rx="0.79" ry="0.64" transform="rotate(167 286.5 178.5)" fill="#555" opacity="0.42"/>
<ellipse cx="230.0" cy="122.9" rx="0.98" ry="0.87" transform="rotate(52 230.0 122.9)" fill="#555" opacity="0.42"/>
<ellipse cx="253.4" cy="89.7" rx="0.87" ry="0.72" transform="rotate(180 253.4 89.7)" fill="#555" opacity="0.42"/>
<ellipse cx="308.9" cy="106.5" rx="0.78" ry="0.71" transform="rotate(77 308.9 106.5)" fill="#555" opacity="0.42"/>
</g></g>
<clipPath id="c3"><circle cx="449" cy="131.8" r="80.5"/></clipPath>
<radialGradient id="h3"><stop offset="0" stop-color="#1a1c10"/><stop offset="1" stop-color="#0d110c"/></radialGradient>
<circle cx="449" cy="131.8" r="80.5" fill="url(#h3)"/>
<g clip-path="url(#c3)"><g filter="url(#blur2)">
<circle cx="413.5" cy="71.1" r="1.60" fill="#c02818" opacity="0.44"/>
<circle cx="389.9" cy="87.3" r="1.78" fill="#c02818" opacity="0.54"/>
<circle cx="392.4" cy="93.5" r="2.48" fill="#c02818" opacity="0.60"/>
<circle cx="387.4" cy="102.2" r="1.95" fill="#c02818" opacity="0.49"/>
<circle cx="397.3" cy="120.9" r="2.08" fill="#c02818" opacity="0.48"/>
<circle cx="413.5" cy="109.7" r="1.87" fill="#c02818" opacity="0.38"/>
<circle cx="464.6" cy="125.9" r="1.81" fill="#c02818" opacity="0.67"/>
<circle cx="465.8" cy="133.4" r="1.64" fill="#c02818" opacity="0.52"/>
<circle cx="488.2" cy="159.5" r="2.19" fill="#c02818" opacity="0.64"/>
<circle cx="509.4" cy="162.0" r="1.74" fill="#c02818" opacity="0.45"/>
<circle cx="435.9" cy="170.7" r="1.77" fill="#c02818" opacity="0.49"/>
<circle cx="496.9" cy="101.0" r="1.99" fill="#c02818" opacity="0.67"/>
<circle cx="495.7" cy="77.3" r="2.43" fill="#c02818" opacity="0.64"/>
<circle cx="427.2" cy="204.3" r="1.52" fill="#c02818" opacity="0.37"/>
<circle cx="428.5" cy="128.4" r="2.28" fill="#c02818" opacity="0.65"/>
<circle cx="445.9" cy="91.0" r="2.02" fill="#c02818" opacity="0.55"/>
<circle cx="505.6" cy="87.3" r="1.50" fill="#c02818" opacity="0.49"/>
<circle cx="418.5" cy="61.2" r="2.61" fill="#30e040" opacity="0.42"/>
<circle cx="427.2" cy="72.4" r="2.53" fill="#30e040" opacity="0.45"/>
<circle cx="437.2" cy="76.1" r="1.80" fill="#30e040" opacity="0.29"/>
<circle cx="439.7" cy="77.3" r="1.69" fill="#30e040" opacity="0.36"/>
<circle cx="454.6" cy="61.2" r="2.32" fill="#30e040" opacity="0.44"/>
<circle cx="458.3" cy="58.7" r="2.37" fill="#30e040" opacity="0.39"/>
<circle cx="470.8" cy="63.6" r="2.42" fill="#30e040" opacity="0.35"/>
<circle cx="480.7" cy="67.4" r="2.16" fill="#30e040" opacity="0.28"/>
<circle cx="483.2" cy="66.1" r="2.44" fill="#30e040" opacity="0.31"/>
<circle cx="491.9" cy="72.4" r="2.60" fill="#30e040" opacity="0.39"/>
<circle cx="499.4" cy="82.3" r="1.86" fill="#30e040" opacity="0.29"/>
<circle cx="509.4" cy="97.3" r="1.80" fill="#30e040" opacity="0.38"/>
<circle cx="503.1" cy="92.3" r="2.34" fill="#30e040" opacity="0.29"/>
<circle cx="404.8" cy="71.1" r="1.58" fill="#30e040" opacity="0.36"/>
<circle cx="397.3" cy="74.9" r="2.20" fill="#30e040" opacity="0.34"/>
<circle cx="444.6" cy="91.0" r="1.77" fill="#30e040" opacity="0.38"/>
<circle cx="445.9" cy="92.3" r="1.51" fill="#30e040" opacity="0.32"/>
<circle cx="428.5" cy="93.5" r="2.05" fill="#30e040" opacity="0.44"/>
<circle cx="406.1" cy="92.3" r="2.27" fill="#30e040" opacity="0.43"/>
<circle cx="421.0" cy="106.0" r="2.07" fill="#30e040" opacity="0.31"/>
<circle cx="419.7" cy="112.2" r="1.80" fill="#30e040" opacity="0.44"/>
<circle cx="447.1" cy="103.5" r="2.35" fill="#30e040" opacity="0.33"/>
<circle cx="448.4" cy="101.0" r="1.53" fill="#30e040" opacity="0.36"/>
<circle cx="457.1" cy="107.2" r="2.31" fill="#30e040" opacity="0.35"/>
<circle cx="462.1" cy="109.7" r="1.81" fill="#30e040" opacity="0.39"/>
<circle cx="464.6" cy="99.7" r="2.61" fill="#30e040" opacity="0.31"/>
<circle cx="487.0" cy="107.2" r="1.54" fill="#30e040" opacity="0.33"/>
<circle cx="489.4" cy="117.2" r="2.00" fill="#30e040" opacity="0.39"/>
<circle cx="495.7" cy="119.7" r="1.74" fill="#30e040" opacity="0.41"/>
<circle cx="509.4" cy="127.1" r="2.39" fill="#30e040" opacity="0.36"/>
<circle cx="514.3" cy="127.1" r="1.75" fill="#30e040" opacity="0.44"/>
<circle cx="516.8" cy="135.8" r="1.87" fill="#30e040" opacity="0.42"/>
<circle cx="519.3" cy="135.8" r="1.78" fill="#30e040" opacity="0.31"/>
<circle cx="504.4" cy="139.6" r="2.41" fill="#30e040" opacity="0.32"/>
<circle cx="506.9" cy="142.1" r="2.64" fill="#30e040" opacity="0.36"/>
<circle cx="493.2" cy="125.9" r="1.72" fill="#30e040" opacity="0.31"/>
<circle cx="474.5" cy="119.7" r="2.00" fill="#30e040" opacity="0.39"/>
<circle cx="477.0" cy="134.6" r="2.64" fill="#30e040" opacity="0.30"/>
<circle cx="474.5" cy="137.1" r="1.97" fill="#30e040" opacity="0.31"/>
<circle cx="469.5" cy="142.1" r="2.67" fill="#30e040" opacity="0.30"/>
<circle cx="467.0" cy="152.0" r="1.56" fill="#30e040" opacity="0.28"/>
<circle cx="489.4" cy="142.1" r="1.97" fill="#30e040" opacity="0.43"/>
<circle cx="384.9" cy="114.7" r="2.56" fill="#30e040" opacity="0.40"/>
<circle cx="378.7" cy="117.2" r="2.70" fill="#30e040" opacity="0.44"/>
<circle cx="379.9" cy="124.6" r="1.90" fill="#30e040" opacity="0.30"/>
<circle cx="387.4" cy="134.6" r="2.62" fill="#30e040" opacity="0.40"/>
<circle cx="393.6" cy="130.9" r="1.54" fill="#30e040" opacity="0.39"/>
<circle cx="402.3" cy="122.2" r="1.95" fill="#30e040" opacity="0.34"/>
<circle cx="404.8" cy="117.2" r="1.90" fill="#30e040" opacity="0.30"/>
<circle cx="397.3" cy="114.7" r="1.50" fill="#30e040" opacity="0.32"/>
<circle cx="424.7" cy="134.6" r="1.92" fill="#30e040" opacity="0.44"/>
<circle cx="427.2" cy="135.8" r="1.65" fill="#30e040" opacity="0.44"/>
<circle cx="419.7" cy="149.5" r="1.75" fill="#30e040" opacity="0.33"/>
<circle cx="432.2" cy="153.3" r="2.49" fill="#30e040" opacity="0.42"/>
<circle cx="443.4" cy="147.0" r="2.02" fill="#30e040" opacity="0.28"/>
<circle cx="453.4" cy="144.6" r="2.07" fill="#30e040" opacity="0.34"/>
<circle cx="458.3" cy="142.1" r="2.60" fill="#30e040" opacity="0.30"/>
<circle cx="382.4" cy="162.0" r="1.94" fill="#30e040" opacity="0.43"/>
<circle cx="384.9" cy="159.5" r="1.54" fill="#30e040" opacity="0.34"/>
<circle cx="383.6" cy="168.2" r="2.47" fill="#30e040" opacity="0.41"/>
<circle cx="387.4" cy="164.5" r="1.55" fill="#30e040" opacity="0.28"/>
<circle cx="474.5" cy="181.9" r="1.58" fill="#30e040" opacity="0.44"/>
<circle cx="472.0" cy="183.1" r="1.81" fill="#30e040" opacity="0.40"/>
<circle cx="462.1" cy="199.3" r="2.58" fill="#30e040" opacity="0.33"/>
<circle cx="462.1" cy="201.8" r="1.83" fill="#30e040" opacity="0.44"/>
<circle cx="487.0" cy="189.4" r="2.24" fill="#30e040" opacity="0.32"/>
<circle cx="491.9" cy="159.5" r="2.36" fill="#30e040" opacity="0.33"/>
<circle cx="493.2" cy="162.0" r="1.83" fill="#30e040" opacity="0.27"/>
<circle cx="494.4" cy="179.4" r="2.41" fill="#30e040" opacity="0.43"/>
<circle cx="509.4" cy="154.5" r="2.26" fill="#30e040" opacity="0.44"/>
<circle cx="511.9" cy="164.5" r="1.53" fill="#30e040" opacity="0.31"/>
<circle cx="409.8" cy="199.3" r="2.07" fill="#30e040" opacity="0.44"/>
<circle cx="424.7" cy="199.3" r="2.64" fill="#30e040" opacity="0.34"/>
<circle cx="442.2" cy="169.4" r="1.80" fill="#30e040" opacity="0.35"/>
<circle cx="434.7" cy="176.9" r="2.09" fill="#30e040" opacity="0.44"/>
<circle cx="382.4" cy="142.1" r="1.72" fill="#30e040" opacity="0.41"/>
<circle cx="389.9" cy="154.5" r="2.39" fill="#30e040" opacity="0.42"/>
<circle cx="377.4" cy="149.5" r="2.43" fill="#30e040" opacity="0.38"/>
<circle cx="374.9" cy="129.6" r="1.89" fill="#30e040" opacity="0.33"/>
<circle cx="457.1" cy="88.5" r="1.93" fill="#30e040" opacity="0.41"/>
<circle cx="458.3" cy="89.8" r="1.59" fill="#30e040" opacity="0.31"/>
<circle cx="474.5" cy="99.7" r="2.40" fill="#30e040" opacity="0.31"/>
<circle cx="479.5" cy="104.7" r="1.58" fill="#30e040" opacity="0.28"/>
<circle cx="377.4" cy="104.7" r="2.16" fill="#30e040" opacity="0.33"/>
<circle cx="381.2" cy="108.5" r="2.68" fill="#30e040" opacity="0.43"/>
<circle cx="384.9" cy="122.2" r="2.69" fill="#30e040" opacity="0.32"/>
<circle cx="397.3" cy="127.1" r="1.60" fill="#30e040" opacity="0.29"/>
<circle cx="401.1" cy="107.2" r="2.10" fill="#30e040" opacity="0.40"/>
<circle cx="484.5" cy="127.1" r="2.04" fill="#30e040" opacity="0.31"/>
<circle cx="499.4" cy="134.6" r="2.00" fill="#30e040" opacity="0.38"/>
<circle cx="469.5" cy="77.3" r="2.31" fill="#30e040" opacity="0.40"/>
<circle cx="472.6" cy="139.2" r="2.52" fill="#30e040" opacity="0.39"/>
<circle cx="470.0" cy="96.1" r="1.65" fill="#30e040" opacity="0.42"/>
<circle cx="484.6" cy="116.6" r="1.85" fill="#30e040" opacity="0.37"/>
<circle cx="443.5" cy="186.9" r="1.95" fill="#30e040" opacity="0.40"/>
<circle cx="466.5" cy="175.8" r="1.74" fill="#30e040" opacity="0.31"/>
<circle cx="519.1" cy="112.0" r="1.79" fill="#30e040" opacity="0.30"/>
<circle cx="472.4" cy="74.8" r="2.56" fill="#30e040" opacity="0.37"/>
<circle cx="513.3" cy="92.9" r="1.89" fill="#30e040" opacity="0.34"/>
<circle cx="386.4" cy="111.8" r="2.69" fill="#30e040" opacity="0.36"/>
<circle cx="512.1" cy="152.1" r="1.78" fill="#30e040" opacity="0.42"/>
<circle cx="384.9" cy="152.2" r="2.28" fill="#30e040" opacity="0.45"/>
<circle cx="423.5" cy="99.1" r="1.62" fill="#30e040" opacity="0.36"/>
<circle cx="520.1" cy="154.4" r="2.48" fill="#30e040" opacity="0.42"/>
<circle cx="486.1" cy="170.0" r="2.60" fill="#30e040" opacity="0.28"/>
<circle cx="425.5" cy="167.0" r="1.85" fill="#30e040" opacity="0.29"/>
<circle cx="443.7" cy="55.4" r="1.73" fill="#30e040" opacity="0.45"/>
<circle cx="445.0" cy="194.4" r="2.20" fill="#30e040" opacity="0.44"/>
<circle cx="430.8" cy="186.7" r="1.95" fill="#30e040" opacity="0.43"/>
<circle cx="424.0" cy="151.3" r="2.04" fill="#30e040" opacity="0.32"/>
<circle cx="467.6" cy="161.8" r="2.43" fill="#30e040" opacity="0.44"/>
<circle cx="494.4" cy="101.4" r="1.63" fill="#30e040" opacity="0.38"/>
<circle cx="462.8" cy="204.3" r="2.24" fill="#30e040" opacity="0.31"/>
<circle cx="501.0" cy="130.6" r="1.94" fill="#30e040" opacity="0.30"/>
<circle cx="470.7" cy="157.9" r="1.74" fill="#30e040" opacity="0.32"/>
<circle cx="487.2" cy="156.3" r="2.22" fill="#30e040" opacity="0.39"/>
</g><g filter="url(#blur1)">
<circle cx="413.5" cy="71.1" r="0.96" fill="#d83020" opacity="0.55"/>
<circle cx="389.9" cy="87.3" r="1.07" fill="#d83020" opacity="0.68"/>
<circle cx="392.4" cy="93.5" r="1.49" fill="#d83020" opacity="0.75"/>
<circle cx="387.4" cy="102.2" r="1.17" fill="#d83020" opacity="0.62"/>
<circle cx="397.3" cy="120.9" r="1.25" fill="#d83020" opacity="0.60"/>
<circle cx="413.5" cy="109.7" r="1.12" fill="#d83020" opacity="0.47"/>
<circle cx="464.6" cy="125.9" r="1.08" fill="#d83020" opacity="0.84"/>
<circle cx="465.8" cy="133.4" r="0.98" fill="#d83020" opacity="0.65"/>
<circle cx="488.2" cy="159.5" r="1.32" fill="#d83020" opacity="0.80"/>
<circle cx="509.4" cy="162.0" r="1.04" fill="#d83020" opacity="0.56"/>
<circle cx="435.9" cy="170.7" r="1.06" fill="#d83020" opacity="0.61"/>
<circle cx="496.9" cy="101.0" r="1.19" fill="#d83020" opacity="0.83"/>
<circle cx="495.7" cy="77.3" r="1.46" fill="#d83020" opacity="0.80"/>
<circle cx="427.2" cy="204.3" r="0.91" fill="#d83020" opacity="0.46"/>
<circle cx="428.5" cy="128.4" r="1.37" fill="#d83020" opacity="0.81"/>
<circle cx="445.9" cy="91.0" r="1.21" fill="#d83020" opacity="0.68"/>
<circle cx="505.6" cy="87.3" r="0.90" fill="#d83020" opacity="0.61"/>
<circle cx="418.5" cy="61.2" r="1.39" fill="#5aff6a" opacity="0.93"/>
<circle cx="427.2" cy="72.4" r="1.35" fill="#5aff6a" opacity="0.99"/>
<circle cx="437.2" cy="76.1" r="0.96" fill="#5aff6a" opacity="0.64"/>
<circle cx="439.7" cy="77.3" r="0.90" fill="#5aff6a" opacity="0.81"/>
<circle cx="454.6" cy="61.2" r="1.24" fill="#5aff6a" opacity="0.98"/>
<circle cx="458.3" cy="58.7" r="1.26" fill="#5aff6a" opacity="0.86"/>
<circle cx="470.8" cy="63.6" r="1.29" fill="#5aff6a" opacity="0.78"/>
<circle cx="480.7" cy="67.4" r="1.15" fill="#5aff6a" opacity="0.62"/>
<circle cx="483.2" cy="66.1" r="1.30" fill="#5aff6a" opacity="0.69"/>
<circle cx="491.9" cy="72.4" r="1.39" fill="#5aff6a" opacity="0.86"/>
<circle cx="499.4" cy="82.3" r="0.99" fill="#5aff6a" opacity="0.65"/>
<circle cx="509.4" cy="97.3" r="0.96" fill="#5aff6a" opacity="0.85"/>
<circle cx="503.1" cy="92.3" r="1.25" fill="#5aff6a" opacity="0.64"/>
<circle cx="404.8" cy="71.1" r="0.85" fill="#5aff6a" opacity="0.81"/>
<circle cx="397.3" cy="74.9" r="1.17" fill="#5aff6a" opacity="0.76"/>
<circle cx="444.6" cy="91.0" r="0.94" fill="#5aff6a" opacity="0.84"/>
<circle cx="445.9" cy="92.3" r="0.81" fill="#5aff6a" opacity="0.72"/>
<circle cx="428.5" cy="93.5" r="1.09" fill="#5aff6a" opacity="0.98"/>
<circle cx="406.1" cy="92.3" r="1.21" fill="#5aff6a" opacity="0.95"/>
<circle cx="421.0" cy="106.0" r="1.10" fill="#5aff6a" opacity="0.69"/>
<circle cx="419.7" cy="112.2" r="0.96" fill="#5aff6a" opacity="0.98"/>
<circle cx="447.1" cy="103.5" r="1.25" fill="#5aff6a" opacity="0.72"/>
<circle cx="448.4" cy="101.0" r="0.81" fill="#5aff6a" opacity="0.80"/>
<circle cx="457.1" cy="107.2" r="1.23" fill="#5aff6a" opacity="0.77"/>
<circle cx="462.1" cy="109.7" r="0.96" fill="#5aff6a" opacity="0.87"/>
<circle cx="464.6" cy="99.7" r="1.39" fill="#5aff6a" opacity="0.69"/>
<circle cx="487.0" cy="107.2" r="0.82" fill="#5aff6a" opacity="0.74"/>
<circle cx="489.4" cy="117.2" r="1.07" fill="#5aff6a" opacity="0.87"/>
<circle cx="495.7" cy="119.7" r="0.93" fill="#5aff6a" opacity="0.92"/>
<circle cx="509.4" cy="127.1" r="1.27" fill="#5aff6a" opacity="0.80"/>
<circle cx="514.3" cy="127.1" r="0.93" fill="#5aff6a" opacity="0.99"/>
<circle cx="516.8" cy="135.8" r="1.00" fill="#5aff6a" opacity="0.93"/>
<circle cx="519.3" cy="135.8" r="0.95" fill="#5aff6a" opacity="0.69"/>
<circle cx="504.4" cy="139.6" r="1.29" fill="#5aff6a" opacity="0.72"/>
<circle cx="506.9" cy="142.1" r="1.41" fill="#5aff6a" opacity="0.80"/>
<circle cx="493.2" cy="125.9" r="0.92" fill="#5aff6a" opacity="0.69"/>
<circle cx="474.5" cy="119.7" r="1.07" fill="#5aff6a" opacity="0.87"/>
<circle cx="477.0" cy="134.6" r="1.41" fill="#5aff6a" opacity="0.66"/>
<circle cx="474.5" cy="137.1" r="1.05" fill="#5aff6a" opacity="0.69"/>
<circle cx="469.5" cy="142.1" r="1.42" fill="#5aff6a" opacity="0.66"/>
<circle cx="467.0" cy="152.0" r="0.83" fill="#5aff6a" opacity="0.62"/>
<circle cx="489.4" cy="142.1" r="1.05" fill="#5aff6a" opacity="0.96"/>
<circle cx="384.9" cy="114.7" r="1.37" fill="#5aff6a" opacity="0.89"/>
<circle cx="378.7" cy="117.2" r="1.44" fill="#5aff6a" opacity="0.97"/>
<circle cx="379.9" cy="124.6" r="1.01" fill="#5aff6a" opacity="0.67"/>
<circle cx="387.4" cy="134.6" r="1.40" fill="#5aff6a" opacity="0.90"/>
<circle cx="393.6" cy="130.9" r="0.82" fill="#5aff6a" opacity="0.87"/>
<circle cx="402.3" cy="122.2" r="1.04" fill="#5aff6a" opacity="0.75"/>
<circle cx="404.8" cy="117.2" r="1.01" fill="#5aff6a" opacity="0.67"/>
<circle cx="397.3" cy="114.7" r="0.80" fill="#5aff6a" opacity="0.71"/>
<circle cx="424.7" cy="134.6" r="1.02" fill="#5aff6a" opacity="0.98"/>
<circle cx="427.2" cy="135.8" r="0.88" fill="#5aff6a" opacity="0.99"/>
<circle cx="419.7" cy="149.5" r="0.93" fill="#5aff6a" opacity="0.74"/>
<circle cx="432.2" cy="153.3" r="1.33" fill="#5aff6a" opacity="0.93"/>
<circle cx="443.4" cy="147.0" r="1.08" fill="#5aff6a" opacity="0.62"/>
<circle cx="453.4" cy="144.6" r="1.10" fill="#5aff6a" opacity="0.75"/>
<circle cx="458.3" cy="142.1" r="1.39" fill="#5aff6a" opacity="0.68"/>
<circle cx="382.4" cy="162.0" r="1.03" fill="#5aff6a" opacity="0.96"/>
<circle cx="384.9" cy="159.5" r="0.82" fill="#5aff6a" opacity="0.76"/>
<circle cx="383.6" cy="168.2" r="1.32" fill="#5aff6a" opacity="0.91"/>
<circle cx="387.4" cy="164.5" r="0.83" fill="#5aff6a" opacity="0.61"/>
<circle cx="474.5" cy="181.9" r="0.84" fill="#5aff6a" opacity="0.97"/>
<circle cx="472.0" cy="183.1" r="0.96" fill="#5aff6a" opacity="0.90"/>
<circle cx="462.1" cy="199.3" r="1.38" fill="#5aff6a" opacity="0.74"/>
<circle cx="462.1" cy="201.8" r="0.97" fill="#5aff6a" opacity="0.98"/>
<circle cx="487.0" cy="189.4" r="1.19" fill="#5aff6a" opacity="0.70"/>
<circle cx="491.9" cy="159.5" r="1.26" fill="#5aff6a" opacity="0.73"/>
<circle cx="493.2" cy="162.0" r="0.98" fill="#5aff6a" opacity="0.60"/>
<circle cx="494.4" cy="179.4" r="1.28" fill="#5aff6a" opacity="0.97"/>
<circle cx="509.4" cy="154.5" r="1.21" fill="#5aff6a" opacity="0.98"/>
<circle cx="511.9" cy="164.5" r="0.82" fill="#5aff6a" opacity="0.69"/>
<circle cx="409.8" cy="199.3" r="1.10" fill="#5aff6a" opacity="0.98"/>
<circle cx="424.7" cy="199.3" r="1.41" fill="#5aff6a" opacity="0.75"/>
<circle cx="442.2" cy="169.4" r="0.96" fill="#5aff6a" opacity="0.77"/>
<circle cx="434.7" cy="176.9" r="1.12" fill="#5aff6a" opacity="0.97"/>
<circle cx="382.4" cy="142.1" r="0.92" fill="#5aff6a" opacity="0.92"/>
<circle cx="389.9" cy="154.5" r="1.27" fill="#5aff6a" opacity="0.93"/>
<circle cx="377.4" cy="149.5" r="1.29" fill="#5aff6a" opacity="0.84"/>
<circle cx="374.9" cy="129.6" r="1.01" fill="#5aff6a" opacity="0.73"/>
<circle cx="457.1" cy="88.5" r="1.03" fill="#5aff6a" opacity="0.91"/>
<circle cx="458.3" cy="89.8" r="0.85" fill="#5aff6a" opacity="0.68"/>
<circle cx="474.5" cy="99.7" r="1.28" fill="#5aff6a" opacity="0.70"/>
<circle cx="479.5" cy="104.7" r="0.84" fill="#5aff6a" opacity="0.61"/>
<circle cx="377.4" cy="104.7" r="1.15" fill="#5aff6a" opacity="0.73"/>
<circle cx="381.2" cy="108.5" r="1.43" fill="#5aff6a" opacity="0.95"/>
<circle cx="384.9" cy="122.2" r="1.43" fill="#5aff6a" opacity="0.71"/>
<circle cx="397.3" cy="127.1" r="0.85" fill="#5aff6a" opacity="0.64"/>
<circle cx="401.1" cy="107.2" r="1.12" fill="#5aff6a" opacity="0.88"/>
<circle cx="484.5" cy="127.1" r="1.09" fill="#5aff6a" opacity="0.69"/>
<circle cx="499.4" cy="134.6" r="1.07" fill="#5aff6a" opacity="0.85"/>
<circle cx="469.5" cy="77.3" r="1.23" fill="#5aff6a" opacity="0.90"/>
<circle cx="472.6" cy="139.2" r="1.34" fill="#5aff6a" opacity="0.87"/>
<circle cx="470.0" cy="96.1" r="0.88" fill="#5aff6a" opacity="0.94"/>
<circle cx="484.6" cy="116.6" r="0.99" fill="#5aff6a" opacity="0.83"/>
<circle cx="443.5" cy="186.9" r="1.04" fill="#5aff6a" opacity="0.90"/>
<circle cx="466.5" cy="175.8" r="0.93" fill="#5aff6a" opacity="0.70"/>
<circle cx="519.1" cy="112.0" r="0.96" fill="#5aff6a" opacity="0.66"/>
<circle cx="472.4" cy="74.8" r="1.37" fill="#5aff6a" opacity="0.83"/>
<circle cx="513.3" cy="92.9" r="1.01" fill="#5aff6a" opacity="0.76"/>
<circle cx="386.4" cy="111.8" r="1.44" fill="#5aff6a" opacity="0.80"/>
<circle cx="512.1" cy="152.1" r="0.95" fill="#5aff6a" opacity="0.92"/>
<circle cx="384.9" cy="152.2" r="1.22" fill="#5aff6a" opacity="1.00"/>
<circle cx="423.5" cy="99.1" r="0.87" fill="#5aff6a" opacity="0.79"/>
<circle cx="520.1" cy="154.4" r="1.32" fill="#5aff6a" opacity="0.94"/>
<circle cx="486.1" cy="170.0" r="1.39" fill="#5aff6a" opacity="0.62"/>
<circle cx="425.5" cy="167.0" r="0.99" fill="#5aff6a" opacity="0.65"/>
<circle cx="443.7" cy="55.4" r="0.92" fill="#5aff6a" opacity="0.99"/>
<circle cx="445.0" cy="194.4" r="1.17" fill="#5aff6a" opacity="0.97"/>
<circle cx="430.8" cy="186.7" r="1.04" fill="#5aff6a" opacity="0.95"/>
<circle cx="424.0" cy="151.3" r="1.09" fill="#5aff6a" opacity="0.70"/>
<circle cx="467.6" cy="161.8" r="1.30" fill="#5aff6a" opacity="0.98"/>
<circle cx="494.4" cy="101.4" r="0.87" fill="#5aff6a" opacity="0.84"/>
<circle cx="462.8" cy="204.3" r="1.20" fill="#5aff6a" opacity="0.69"/>
<circle cx="501.0" cy="130.6" r="1.04" fill="#5aff6a" opacity="0.66"/>
<circle cx="470.7" cy="157.9" r="0.93" fill="#5aff6a" opacity="0.70"/>
<circle cx="487.2" cy="156.3" r="1.18" fill="#5aff6a" opacity="0.86"/>
</g></g>
<circle cx="449" cy="131.8" r="80.0" fill="none" stroke="#050505" stroke-width="1.2"/>
<clipPath id="c4"><circle cx="135.2" cy="323" r="63.5"/></clipPath>
<radialGradient id="g4"><stop offset="0" stop-color="#e7e7e7"/><stop offset="0.6" stop-color="#e7e7e7"/><stop offset="1" stop-color="#e0e0e0"/></radialGradient>
<circle cx="135.2" cy="323" r="63.5" fill="url(#g4)" filter="url(#soft)"/>
<g clip-path="url(#c4)"><g filter="url(#blur1)">
<ellipse cx="123.0" cy="265.1" rx="1.49" ry="1.30" transform="rotate(135 123.0 265.1)" fill="#505050" opacity="0.82"/>
<ellipse cx="124.5" cy="269.4" rx="1.54" ry="1.18" transform="rotate(130 124.5 269.4)" fill="#505050" opacity="0.81"/>
<ellipse cx="121.5" cy="274.2" rx="1.78" ry="1.37" transform="rotate(126 121.5 274.2)" fill="#505050" opacity="0.88"/>
<ellipse cx="132.2" cy="275.5" rx="1.55" ry="1.34" transform="rotate(115 132.2 275.5)" fill="#505050" opacity="0.84"/>
<ellipse cx="134.7" cy="274.0" rx="1.25" ry="1.21" transform="rotate(113 134.7 274.0)" fill="#505050" opacity="0.75"/>
<ellipse cx="129.2" cy="279.2" rx="1.56" ry="1.25" transform="rotate(141 129.2 279.2)" fill="#505050" opacity="0.84"/>
<ellipse cx="125.1" cy="279.9" rx="1.52" ry="1.32" transform="rotate(45 125.1 279.9)" fill="#505050" opacity="0.99"/>
<ellipse cx="109.6" cy="279.1" rx="1.44" ry="1.26" transform="rotate(112 109.6 279.1)" fill="#505050" opacity="0.83"/>
<ellipse cx="117.0" cy="279.4" rx="1.42" ry="1.34" transform="rotate(167 117.0 279.4)" fill="#505050" opacity="1.00"/>
<ellipse cx="98.2" cy="275.6" rx="1.51" ry="1.33" transform="rotate(140 98.2 275.6)" fill="#505050" opacity="0.93"/>
<ellipse cx="100.2" cy="276.5" rx="1.29" ry="1.27" transform="rotate(175 100.2 276.5)" fill="#505050" opacity="0.97"/>
<ellipse cx="147.1" cy="282.5" rx="1.64" ry="1.29" transform="rotate(29 147.1 282.5)" fill="#505050" opacity="0.84"/>
<ellipse cx="154.8" cy="282.1" rx="1.48" ry="1.43" transform="rotate(93 154.8 282.1)" fill="#505050" opacity="0.77"/>
<ellipse cx="142.5" cy="283.2" rx="1.63" ry="1.30" transform="rotate(97 142.5 283.2)" fill="#505050" opacity="0.90"/>
<ellipse cx="154.8" cy="277.6" rx="1.65" ry="1.28" transform="rotate(115 154.8 277.6)" fill="#505050" opacity="0.90"/>
<ellipse cx="88.9" cy="288.4" rx="1.71" ry="1.28" transform="rotate(74 88.9 288.4)" fill="#505050" opacity="0.77"/>
<ellipse cx="103.4" cy="288.4" rx="1.33" ry="1.17" transform="rotate(123 103.4 288.4)" fill="#505050" opacity="0.98"/>
<ellipse cx="109.4" cy="289.4" rx="1.84" ry="1.37" transform="rotate(22 109.4 289.4)" fill="#505050" opacity="0.95"/>
<ellipse cx="120.6" cy="288.1" rx="1.34" ry="1.22" transform="rotate(10 120.6 288.1)" fill="#505050" opacity="0.76"/>
<ellipse cx="129.9" cy="286.8" rx="1.42" ry="1.24" transform="rotate(2 129.9 286.8)" fill="#505050" opacity="0.86"/>
<ellipse cx="174.7" cy="289.8" rx="1.40" ry="1.25" transform="rotate(126 174.7 289.8)" fill="#505050" opacity="0.83"/>
<ellipse cx="179.7" cy="289.5" rx="1.50" ry="1.19" transform="rotate(40 179.7 289.5)" fill="#505050" opacity="0.95"/>
<ellipse cx="86.6" cy="294.9" rx="1.54" ry="1.43" transform="rotate(95 86.6 294.9)" fill="#505050" opacity="0.79"/>
<ellipse cx="89.0" cy="296.0" rx="1.48" ry="1.38" transform="rotate(71 89.0 296.0)" fill="#505050" opacity="0.95"/>
<ellipse cx="143.7" cy="294.3" rx="1.47" ry="1.15" transform="rotate(140 143.7 294.3)" fill="#505050" opacity="0.84"/>
<ellipse cx="154.4" cy="294.5" rx="1.58" ry="1.32" transform="rotate(84 154.4 294.5)" fill="#505050" opacity="0.76"/>
<ellipse cx="157.3" cy="294.8" rx="1.32" ry="1.18" transform="rotate(173 157.3 294.8)" fill="#505050" opacity="0.97"/>
<ellipse cx="161.2" cy="292.6" rx="1.70" ry="1.32" transform="rotate(147 161.2 292.6)" fill="#505050" opacity="0.93"/>
<ellipse cx="163.3" cy="296.0" rx="1.51" ry="1.26" transform="rotate(53 163.3 296.0)" fill="#505050" opacity="0.76"/>
<ellipse cx="170.1" cy="300.9" rx="1.29" ry="1.14" transform="rotate(150 170.1 300.9)" fill="#505050" opacity="0.90"/>
<ellipse cx="186.4" cy="299.7" rx="1.58" ry="1.40" transform="rotate(48 186.4 299.7)" fill="#505050" opacity="0.89"/>
<ellipse cx="109.7" cy="297.9" rx="1.27" ry="1.19" transform="rotate(77 109.7 297.9)" fill="#505050" opacity="0.85"/>
<ellipse cx="122.2" cy="298.3" rx="1.21" ry="1.10" transform="rotate(130 122.2 298.3)" fill="#505050" opacity="0.90"/>
<ellipse cx="121.2" cy="301.6" rx="1.38" ry="1.19" transform="rotate(54 121.2 301.6)" fill="#505050" opacity="0.94"/>
<ellipse cx="124.6" cy="300.8" rx="1.54" ry="1.25" transform="rotate(115 124.6 300.8)" fill="#505050" opacity="0.78"/>
<ellipse cx="119.1" cy="304.6" rx="1.59" ry="1.23" transform="rotate(167 119.1 304.6)" fill="#505050" opacity="0.76"/>
<ellipse cx="128.4" cy="296.3" rx="1.48" ry="1.12" transform="rotate(149 128.4 296.3)" fill="#505050" opacity="0.85"/>
<ellipse cx="87.0" cy="306.6" rx="1.77" ry="1.37" transform="rotate(25 87.0 306.6)" fill="#505050" opacity="0.90"/>
<ellipse cx="84.5" cy="311.4" rx="1.33" ry="1.32" transform="rotate(3 84.5 311.4)" fill="#505050" opacity="0.94"/>
<ellipse cx="88.0" cy="311.8" rx="1.56" ry="1.43" transform="rotate(118 88.0 311.8)" fill="#505050" opacity="0.87"/>
<ellipse cx="94.1" cy="311.7" rx="1.23" ry="1.14" transform="rotate(26 94.1 311.7)" fill="#505050" opacity="0.77"/>
<ellipse cx="101.9" cy="308.6" rx="1.45" ry="1.37" transform="rotate(62 101.9 308.6)" fill="#505050" opacity="0.93"/>
<ellipse cx="109.1" cy="311.9" rx="1.50" ry="1.42" transform="rotate(143 109.1 311.9)" fill="#505050" opacity="1.00"/>
<ellipse cx="137.8" cy="305.4" rx="1.80" ry="1.41" transform="rotate(110 137.8 305.4)" fill="#505050" opacity="0.98"/>
<ellipse cx="140.6" cy="305.3" rx="1.70" ry="1.33" transform="rotate(161 140.6 305.3)" fill="#505050" opacity="0.98"/>
<ellipse cx="149.8" cy="302.8" rx="1.73" ry="1.39" transform="rotate(36 149.8 302.8)" fill="#505050" opacity="0.93"/>
<ellipse cx="159.2" cy="305.4" rx="1.48" ry="1.29" transform="rotate(134 159.2 305.4)" fill="#505050" opacity="0.80"/>
<ellipse cx="169.2" cy="302.5" rx="1.54" ry="1.41" transform="rotate(100 169.2 302.5)" fill="#505050" opacity="0.87"/>
<ellipse cx="173.5" cy="304.1" rx="1.39" ry="1.18" transform="rotate(25 173.5 304.1)" fill="#505050" opacity="0.80"/>
<ellipse cx="175.2" cy="312.1" rx="1.18" ry="1.12" transform="rotate(84 175.2 312.1)" fill="#505050" opacity="0.74"/>
<ellipse cx="176.9" cy="314.0" rx="1.51" ry="1.27" transform="rotate(90 176.9 314.0)" fill="#505050" opacity="0.98"/>
<ellipse cx="179.5" cy="313.7" rx="1.81" ry="1.40" transform="rotate(1 179.5 313.7)" fill="#505050" opacity="0.78"/>
<ellipse cx="178.5" cy="316.0" rx="1.56" ry="1.26" transform="rotate(101 178.5 316.0)" fill="#505050" opacity="0.87"/>
<ellipse cx="188.8" cy="309.0" rx="1.60" ry="1.39" transform="rotate(67 188.8 309.0)" fill="#505050" opacity="0.97"/>
<ellipse cx="120.2" cy="316.5" rx="1.76" ry="1.44" transform="rotate(14 120.2 316.5)" fill="#505050" opacity="0.97"/>
<ellipse cx="121.8" cy="310.7" rx="1.60" ry="1.32" transform="rotate(5 121.8 310.7)" fill="#505050" opacity="0.90"/>
<ellipse cx="130.4" cy="309.4" rx="1.49" ry="1.34" transform="rotate(168 130.4 309.4)" fill="#505050" opacity="0.80"/>
<ellipse cx="133.1" cy="315.4" rx="1.69" ry="1.44" transform="rotate(92 133.1 315.4)" fill="#505050" opacity="0.83"/>
<ellipse cx="137.0" cy="317.4" rx="1.77" ry="1.41" transform="rotate(6 137.0 317.4)" fill="#505050" opacity="0.78"/>
<ellipse cx="141.2" cy="309.7" rx="1.72" ry="1.32" transform="rotate(61 141.2 309.7)" fill="#505050" opacity="0.95"/>
<ellipse cx="85.7" cy="317.6" rx="1.45" ry="1.23" transform="rotate(85 85.7 317.6)" fill="#505050" opacity="1.00"/>
<ellipse cx="91.2" cy="316.6" rx="1.58" ry="1.37" transform="rotate(38 91.2 316.6)" fill="#505050" opacity="0.81"/>
<ellipse cx="108.3" cy="318.0" rx="1.61" ry="1.25" transform="rotate(100 108.3 318.0)" fill="#505050" opacity="0.77"/>
<ellipse cx="97.5" cy="323.6" rx="1.37" ry="1.20" transform="rotate(149 97.5 323.6)" fill="#505050" opacity="0.87"/>
<ellipse cx="95.7" cy="325.4" rx="1.50" ry="1.28" transform="rotate(49 95.7 325.4)" fill="#505050" opacity="0.79"/>
<ellipse cx="98.5" cy="327.3" rx="1.84" ry="1.44" transform="rotate(118 98.5 327.3)" fill="#505050" opacity="0.73"/>
<ellipse cx="93.0" cy="328.4" rx="1.34" ry="1.22" transform="rotate(57 93.0 328.4)" fill="#505050" opacity="0.83"/>
<ellipse cx="130.3" cy="318.5" rx="1.66" ry="1.31" transform="rotate(114 130.3 318.5)" fill="#505050" opacity="0.89"/>
<ellipse cx="128.2" cy="322.7" rx="1.46" ry="1.11" transform="rotate(130 128.2 322.7)" fill="#505050" opacity="0.86"/>
<ellipse cx="134.3" cy="322.0" rx="1.43" ry="1.29" transform="rotate(9 134.3 322.0)" fill="#505050" opacity="0.80"/>
<ellipse cx="141.6" cy="323.2" rx="1.46" ry="1.10" transform="rotate(34 141.6 323.2)" fill="#505050" opacity="0.90"/>
<ellipse cx="143.4" cy="322.9" rx="1.68" ry="1.31" transform="rotate(118 143.4 322.9)" fill="#505050" opacity="0.84"/>
<ellipse cx="155.2" cy="319.0" rx="1.72" ry="1.42" transform="rotate(110 155.2 319.0)" fill="#505050" opacity="0.90"/>
<ellipse cx="159.6" cy="321.4" rx="1.59" ry="1.32" transform="rotate(125 159.6 321.4)" fill="#505050" opacity="0.90"/>
<ellipse cx="163.7" cy="323.1" rx="1.65" ry="1.34" transform="rotate(38 163.7 323.1)" fill="#505050" opacity="0.93"/>
<ellipse cx="172.8" cy="323.0" rx="1.30" ry="1.26" transform="rotate(137 172.8 323.0)" fill="#505050" opacity="0.74"/>
<ellipse cx="184.5" cy="328.7" rx="1.48" ry="1.16" transform="rotate(7 184.5 328.7)" fill="#505050" opacity="0.79"/>
<ellipse cx="107.3" cy="331.2" rx="1.60" ry="1.42" transform="rotate(118 107.3 331.2)" fill="#505050" opacity="0.73"/>
<ellipse cx="116.1" cy="324.1" rx="1.66" ry="1.39" transform="rotate(142 116.1 324.1)" fill="#505050" opacity="0.77"/>
<ellipse cx="121.9" cy="324.8" rx="1.37" ry="1.19" transform="rotate(54 121.9 324.8)" fill="#505050" opacity="0.87"/>
<ellipse cx="85.0" cy="333.3" rx="1.48" ry="1.21" transform="rotate(78 85.0 333.3)" fill="#505050" opacity="0.78"/>
<ellipse cx="88.9" cy="334.9" rx="1.71" ry="1.43" transform="rotate(10 88.9 334.9)" fill="#505050" opacity="0.74"/>
<ellipse cx="79.1" cy="334.3" rx="1.43" ry="1.11" transform="rotate(21 79.1 334.3)" fill="#505050" opacity="0.92"/>
<ellipse cx="79.2" cy="341.6" rx="1.50" ry="1.30" transform="rotate(165 79.2 341.6)" fill="#505050" opacity="0.93"/>
<ellipse cx="126.4" cy="333.2" rx="1.33" ry="1.10" transform="rotate(70 126.4 333.2)" fill="#505050" opacity="0.85"/>
<ellipse cx="128.2" cy="334.7" rx="1.67" ry="1.43" transform="rotate(177 128.2 334.7)" fill="#505050" opacity="0.79"/>
<ellipse cx="135.3" cy="335.9" rx="1.53" ry="1.24" transform="rotate(18 135.3 335.9)" fill="#505050" opacity="0.93"/>
<ellipse cx="142.1" cy="331.3" rx="1.18" ry="1.17" transform="rotate(27 142.1 331.3)" fill="#505050" opacity="0.92"/>
<ellipse cx="151.1" cy="333.0" rx="1.15" ry="1.10" transform="rotate(123 151.1 333.0)" fill="#505050" opacity="0.85"/>
<ellipse cx="155.7" cy="336.1" rx="1.88" ry="1.44" transform="rotate(16 155.7 336.1)" fill="#505050" opacity="0.80"/>
<ellipse cx="166.0" cy="333.5" rx="1.43" ry="1.15" transform="rotate(3 166.0 333.5)" fill="#505050" opacity="0.79"/>
<ellipse cx="176.6" cy="336.7" rx="1.26" ry="1.18" transform="rotate(132 176.6 336.7)" fill="#505050" opacity="0.80"/>
<ellipse cx="180.1" cy="339.5" rx="1.40" ry="1.12" transform="rotate(139 180.1 339.5)" fill="#505050" opacity="0.99"/>
<ellipse cx="184.7" cy="345.3" rx="1.44" ry="1.40" transform="rotate(131 184.7 345.3)" fill="#505050" opacity="0.97"/>
<ellipse cx="186.4" cy="346.2" rx="1.53" ry="1.32" transform="rotate(128 186.4 346.2)" fill="#505050" opacity="0.98"/>
<ellipse cx="86.1" cy="337.3" rx="1.91" ry="1.43" transform="rotate(46 86.1 337.3)" fill="#505050" opacity="0.91"/>
<ellipse cx="93.7" cy="334.0" rx="1.36" ry="1.35" transform="rotate(2 93.7 334.0)" fill="#505050" opacity="0.96"/>
<ellipse cx="95.5" cy="339.6" rx="1.36" ry="1.33" transform="rotate(147 95.5 339.6)" fill="#505050" opacity="0.85"/>
<ellipse cx="104.8" cy="340.3" rx="1.28" ry="1.21" transform="rotate(131 104.8 340.3)" fill="#505050" opacity="0.81"/>
<ellipse cx="111.6" cy="343.5" rx="1.43" ry="1.40" transform="rotate(88 111.6 343.5)" fill="#505050" opacity="0.75"/>
<ellipse cx="118.5" cy="344.0" rx="1.42" ry="1.23" transform="rotate(103 118.5 344.0)" fill="#505050" opacity="0.74"/>
<ellipse cx="126.0" cy="342.8" rx="1.71" ry="1.34" transform="rotate(26 126.0 342.8)" fill="#505050" opacity="0.82"/>
<ellipse cx="129.1" cy="345.0" rx="1.50" ry="1.23" transform="rotate(116 129.1 345.0)" fill="#505050" opacity="0.74"/>
<ellipse cx="133.8" cy="341.4" rx="1.59" ry="1.25" transform="rotate(69 133.8 341.4)" fill="#505050" opacity="0.92"/>
<ellipse cx="149.4" cy="342.9" rx="1.71" ry="1.43" transform="rotate(141 149.4 342.9)" fill="#505050" opacity="0.89"/>
<ellipse cx="157.4" cy="341.6" rx="1.61" ry="1.20" transform="rotate(11 157.4 341.6)" fill="#505050" opacity="0.95"/>
<ellipse cx="164.1" cy="338.8" rx="1.50" ry="1.35" transform="rotate(149 164.1 338.8)" fill="#505050" opacity="0.96"/>
<ellipse cx="167.3" cy="345.9" rx="1.69" ry="1.31" transform="rotate(176 167.3 345.9)" fill="#505050" opacity="0.76"/>
<ellipse cx="84.6" cy="349.2" rx="1.51" ry="1.31" transform="rotate(56 84.6 349.2)" fill="#505050" opacity="0.74"/>
<ellipse cx="91.5" cy="353.0" rx="1.75" ry="1.41" transform="rotate(68 91.5 353.0)" fill="#505050" opacity="0.90"/>
<ellipse cx="93.5" cy="349.7" rx="1.68" ry="1.31" transform="rotate(161 93.5 349.7)" fill="#505050" opacity="0.81"/>
<ellipse cx="101.1" cy="353.3" rx="1.31" ry="1.20" transform="rotate(0 101.1 353.3)" fill="#505050" opacity="0.93"/>
<ellipse cx="105.3" cy="354.6" rx="1.60" ry="1.25" transform="rotate(106 105.3 354.6)" fill="#505050" opacity="0.84"/>
<ellipse cx="112.4" cy="350.4" rx="1.82" ry="1.41" transform="rotate(8 112.4 350.4)" fill="#505050" opacity="0.81"/>
<ellipse cx="115.2" cy="351.5" rx="1.66" ry="1.38" transform="rotate(156 115.2 351.5)" fill="#505050" opacity="0.82"/>
<ellipse cx="112.3" cy="357.9" rx="1.53" ry="1.20" transform="rotate(153 112.3 357.9)" fill="#505050" opacity="0.96"/>
<ellipse cx="114.1" cy="361.6" rx="1.50" ry="1.34" transform="rotate(164 114.1 361.6)" fill="#505050" opacity="0.84"/>
<ellipse cx="116.0" cy="363.3" rx="1.45" ry="1.13" transform="rotate(100 116.0 363.3)" fill="#505050" opacity="0.82"/>
<ellipse cx="126.6" cy="349.6" rx="1.55" ry="1.17" transform="rotate(135 126.6 349.6)" fill="#505050" opacity="0.79"/>
<ellipse cx="130.9" cy="351.3" rx="1.46" ry="1.18" transform="rotate(109 130.9 351.3)" fill="#505050" opacity="0.95"/>
<ellipse cx="133.3" cy="350.1" rx="1.38" ry="1.26" transform="rotate(37 133.3 350.1)" fill="#505050" opacity="0.78"/>
<ellipse cx="137.0" cy="352.1" rx="1.58" ry="1.36" transform="rotate(142 137.0 352.1)" fill="#505050" opacity="0.73"/>
<ellipse cx="141.9" cy="351.7" rx="1.44" ry="1.13" transform="rotate(145 141.9 351.7)" fill="#505050" opacity="0.95"/>
<ellipse cx="144.7" cy="349.6" rx="1.55" ry="1.18" transform="rotate(104 144.7 349.6)" fill="#505050" opacity="0.82"/>
<ellipse cx="151.6" cy="347.3" rx="1.64" ry="1.41" transform="rotate(94 151.6 347.3)" fill="#505050" opacity="0.98"/>
<ellipse cx="156.3" cy="347.2" rx="1.39" ry="1.31" transform="rotate(34 156.3 347.2)" fill="#505050" opacity="0.92"/>
<ellipse cx="172.0" cy="354.4" rx="1.31" ry="1.16" transform="rotate(126 172.0 354.4)" fill="#505050" opacity="0.90"/>
<ellipse cx="168.5" cy="360.2" rx="1.53" ry="1.30" transform="rotate(72 168.5 360.2)" fill="#505050" opacity="0.92"/>
<ellipse cx="157.8" cy="358.0" rx="1.55" ry="1.15" transform="rotate(8 157.8 358.0)" fill="#505050" opacity="0.83"/>
<ellipse cx="159.5" cy="355.7" rx="1.50" ry="1.23" transform="rotate(19 159.5 355.7)" fill="#505050" opacity="0.97"/>
<ellipse cx="89.7" cy="359.3" rx="1.66" ry="1.38" transform="rotate(28 89.7 359.3)" fill="#505050" opacity="0.74"/>
<ellipse cx="96.0" cy="359.7" rx="1.23" ry="1.22" transform="rotate(94 96.0 359.7)" fill="#505050" opacity="0.97"/>
<ellipse cx="126.4" cy="357.8" rx="1.45" ry="1.11" transform="rotate(178 126.4 357.8)" fill="#505050" opacity="0.97"/>
<ellipse cx="107.5" cy="369.3" rx="1.39" ry="1.27" transform="rotate(102 107.5 369.3)" fill="#505050" opacity="0.87"/>
<ellipse cx="111.1" cy="370.6" rx="1.83" ry="1.37" transform="rotate(77 111.1 370.6)" fill="#505050" opacity="0.90"/>
<ellipse cx="102.4" cy="362.9" rx="1.83" ry="1.37" transform="rotate(147 102.4 362.9)" fill="#505050" opacity="0.77"/>
<ellipse cx="91.5" cy="363.2" rx="1.27" ry="1.19" transform="rotate(7 91.5 363.2)" fill="#505050" opacity="0.93"/>
<ellipse cx="124.0" cy="364.0" rx="1.18" ry="1.16" transform="rotate(15 124.0 364.0)" fill="#505050" opacity="0.94"/>
<ellipse cx="128.5" cy="363.7" rx="1.50" ry="1.30" transform="rotate(157 128.5 363.7)" fill="#505050" opacity="0.85"/>
<ellipse cx="134.0" cy="364.9" rx="1.46" ry="1.43" transform="rotate(164 134.0 364.9)" fill="#505050" opacity="0.78"/>
<ellipse cx="134.5" cy="369.5" rx="1.36" ry="1.31" transform="rotate(72 134.5 369.5)" fill="#505050" opacity="0.96"/>
<ellipse cx="131.2" cy="372.1" rx="1.72" ry="1.44" transform="rotate(46 131.2 372.1)" fill="#505050" opacity="0.80"/>
<ellipse cx="124.1" cy="372.4" rx="1.63" ry="1.32" transform="rotate(172 124.1 372.4)" fill="#505050" opacity="0.77"/>
<ellipse cx="122.1" cy="378.3" rx="1.31" ry="1.24" transform="rotate(81 122.1 378.3)" fill="#505050" opacity="0.99"/>
<ellipse cx="137.0" cy="379.3" rx="1.55" ry="1.44" transform="rotate(179 137.0 379.3)" fill="#505050" opacity="0.99"/>
<ellipse cx="162.3" cy="369.2" rx="1.25" ry="1.11" transform="rotate(46 162.3 369.2)" fill="#505050" opacity="1.00"/>
<ellipse cx="166.1" cy="370.6" rx="1.83" ry="1.42" transform="rotate(163 166.1 370.6)" fill="#505050" opacity="0.85"/>
<ellipse cx="163.4" cy="365.3" rx="1.39" ry="1.12" transform="rotate(142 163.4 365.3)" fill="#505050" opacity="0.76"/>
<ellipse cx="169.7" cy="366.1" rx="1.35" ry="1.33" transform="rotate(177 169.7 366.1)" fill="#505050" opacity="0.74"/>
<ellipse cx="180.2" cy="363.4" rx="1.53" ry="1.15" transform="rotate(136 180.2 363.4)" fill="#505050" opacity="0.92"/>
<ellipse cx="143.0" cy="359.1" rx="1.61" ry="1.34" transform="rotate(54 143.0 359.1)" fill="#505050" opacity="0.86"/>
<ellipse cx="101.1" cy="372.5" rx="1.52" ry="1.37" transform="rotate(19 101.1 372.5)" fill="#505050" opacity="0.84"/>
<ellipse cx="93.4" cy="366.6" rx="1.39" ry="1.19" transform="rotate(22 93.4 366.6)" fill="#505050" opacity="0.85"/>
</g></g>
<g clip-path="url(#c4)"><g filter="url(#blur1)">
<ellipse cx="149.7" cy="348.8" rx="1.03" ry="0.81" transform="rotate(69 149.7 348.8)" fill="#666" opacity="0.37"/>
<ellipse cx="166.2" cy="362.0" rx="0.82" ry="0.62" transform="rotate(157 166.2 362.0)" fill="#666" opacity="0.37"/>
<ellipse cx="186.3" cy="327.1" rx="0.89" ry="0.75" transform="rotate(92 186.3 327.1)" fill="#666" opacity="0.37"/>
<ellipse cx="139.1" cy="333.8" rx="1.02" ry="0.76" transform="rotate(4 139.1 333.8)" fill="#666" opacity="0.37"/>
<ellipse cx="160.7" cy="310.5" rx="0.69" ry="0.67" transform="rotate(33 160.7 310.5)" fill="#666" opacity="0.37"/>
<ellipse cx="186.7" cy="300.3" rx="0.68" ry="0.68" transform="rotate(147 186.7 300.3)" fill="#666" opacity="0.37"/>
<ellipse cx="152.5" cy="308.4" rx="0.67" ry="0.63" transform="rotate(126 152.5 308.4)" fill="#666" opacity="0.37"/>
<ellipse cx="117.4" cy="329.1" rx="0.73" ry="0.61" transform="rotate(108 117.4 329.1)" fill="#666" opacity="0.37"/>
<ellipse cx="185.3" cy="299.0" rx="0.78" ry="0.76" transform="rotate(126 185.3 299.0)" fill="#666" opacity="0.37"/>
<ellipse cx="107.0" cy="293.6" rx="0.87" ry="0.86" transform="rotate(129 107.0 293.6)" fill="#666" opacity="0.37"/>
<ellipse cx="105.9" cy="369.4" rx="0.75" ry="0.64" transform="rotate(89 105.9 369.4)" fill="#666" opacity="0.37"/>
<ellipse cx="87.7" cy="329.7" rx="0.78" ry="0.68" transform="rotate(22 87.7 329.7)" fill="#666" opacity="0.37"/>
<ellipse cx="153.0" cy="345.3" rx="0.83" ry="0.64" transform="rotate(107 153.0 345.3)" fill="#666" opacity="0.37"/>
<ellipse cx="183.1" cy="340.8" rx="0.81" ry="0.64" transform="rotate(103 183.1 340.8)" fill="#666" opacity="0.37"/>
<ellipse cx="113.5" cy="315.4" rx="0.86" ry="0.65" transform="rotate(149 113.5 315.4)" fill="#666" opacity="0.37"/>
<ellipse cx="156.7" cy="300.3" rx="0.93" ry="0.72" transform="rotate(76 156.7 300.3)" fill="#666" opacity="0.37"/>
<ellipse cx="114.9" cy="335.6" rx="1.01" ry="0.76" transform="rotate(71 114.9 335.6)" fill="#666" opacity="0.37"/>
<ellipse cx="127.9" cy="377.9" rx="0.90" ry="0.83" transform="rotate(61 127.9 377.9)" fill="#666" opacity="0.37"/>
<ellipse cx="122.7" cy="344.4" rx="0.94" ry="0.70" transform="rotate(78 122.7 344.4)" fill="#666" opacity="0.37"/>
<ellipse cx="101.1" cy="324.9" rx="1.08" ry="0.84" transform="rotate(164 101.1 324.9)" fill="#666" opacity="0.37"/>
<ellipse cx="152.0" cy="311.3" rx="1.01" ry="0.85" transform="rotate(10 152.0 311.3)" fill="#666" opacity="0.37"/>
<ellipse cx="149.5" cy="321.1" rx="0.96" ry="0.89" transform="rotate(168 149.5 321.1)" fill="#666" opacity="0.37"/>
<ellipse cx="174.3" cy="292.7" rx="0.82" ry="0.73" transform="rotate(114 174.3 292.7)" fill="#666" opacity="0.37"/>
<ellipse cx="145.3" cy="363.6" rx="0.87" ry="0.76" transform="rotate(12 145.3 363.6)" fill="#666" opacity="0.37"/>
<ellipse cx="128.3" cy="352.9" rx="0.79" ry="0.75" transform="rotate(4 128.3 352.9)" fill="#666" opacity="0.37"/>
<ellipse cx="146.1" cy="357.8" rx="1.18" ry="0.89" transform="rotate(140 146.1 357.8)" fill="#666" opacity="0.37"/>
<ellipse cx="195.5" cy="319.6" rx="1.03" ry="0.79" transform="rotate(146 195.5 319.6)" fill="#666" opacity="0.37"/>
<ellipse cx="152.0" cy="314.4" rx="1.06" ry="0.87" transform="rotate(6 152.0 314.4)" fill="#666" opacity="0.37"/>
<ellipse cx="121.2" cy="378.5" rx="0.74" ry="0.68" transform="rotate(122 121.2 378.5)" fill="#666" opacity="0.37"/>
<ellipse cx="183.4" cy="341.2" rx="0.93" ry="0.76" transform="rotate(166 183.4 341.2)" fill="#666" opacity="0.37"/>
<ellipse cx="119.0" cy="380.6" rx="0.78" ry="0.68" transform="rotate(94 119.0 380.6)" fill="#666" opacity="0.37"/>
<ellipse cx="189.3" cy="328.5" rx="0.98" ry="0.89" transform="rotate(52 189.3 328.5)" fill="#666" opacity="0.37"/>
<ellipse cx="123.0" cy="342.1" rx="0.96" ry="0.79" transform="rotate(22 123.0 342.1)" fill="#666" opacity="0.37"/>
<ellipse cx="190.4" cy="323.7" rx="0.97" ry="0.89" transform="rotate(92 190.4 323.7)" fill="#666" opacity="0.37"/>
<ellipse cx="109.5" cy="318.7" rx="0.78" ry="0.74" transform="rotate(96 109.5 318.7)" fill="#666" opacity="0.37"/>
<ellipse cx="82.1" cy="345.9" rx="0.70" ry="0.64" transform="rotate(24 82.1 345.9)" fill="#666" opacity="0.37"/>
<ellipse cx="144.3" cy="367.8" rx="0.78" ry="0.72" transform="rotate(52 144.3 367.8)" fill="#666" opacity="0.37"/>
<ellipse cx="151.8" cy="342.6" rx="0.81" ry="0.63" transform="rotate(98 151.8 342.6)" fill="#666" opacity="0.37"/>
<ellipse cx="141.7" cy="272.4" rx="0.96" ry="0.78" transform="rotate(103 141.7 272.4)" fill="#666" opacity="0.37"/>
<ellipse cx="140.8" cy="339.1" rx="0.77" ry="0.66" transform="rotate(128 140.8 339.1)" fill="#666" opacity="0.37"/>
<ellipse cx="175.5" cy="347.6" rx="0.89" ry="0.76" transform="rotate(110 175.5 347.6)" fill="#666" opacity="0.37"/>
<ellipse cx="103.6" cy="323.9" rx="0.75" ry="0.69" transform="rotate(44 103.6 323.9)" fill="#666" opacity="0.37"/>
<ellipse cx="148.1" cy="368.6" rx="0.91" ry="0.75" transform="rotate(69 148.1 368.6)" fill="#666" opacity="0.37"/>
<ellipse cx="120.9" cy="270.4" rx="0.79" ry="0.60" transform="rotate(63 120.9 270.4)" fill="#666" opacity="0.37"/>
<ellipse cx="111.6" cy="309.5" rx="0.79" ry="0.67" transform="rotate(100 111.6 309.5)" fill="#666" opacity="0.37"/>
<ellipse cx="182.6" cy="343.8" rx="0.76" ry="0.69" transform="rotate(178 182.6 343.8)" fill="#666" opacity="0.37"/>
<ellipse cx="92.1" cy="351.0" rx="0.85" ry="0.83" transform="rotate(29 92.1 351.0)" fill="#666" opacity="0.37"/>
<ellipse cx="186.4" cy="341.6" rx="0.88" ry="0.86" transform="rotate(79 186.4 341.6)" fill="#666" opacity="0.37"/>
<ellipse cx="106.9" cy="370.7" rx="0.90" ry="0.72" transform="rotate(79 106.9 370.7)" fill="#666" opacity="0.37"/>
<ellipse cx="163.2" cy="291.0" rx="0.85" ry="0.63" transform="rotate(41 163.2 291.0)" fill="#666" opacity="0.37"/>
<ellipse cx="192.6" cy="328.6" rx="0.92" ry="0.82" transform="rotate(28 192.6 328.6)" fill="#666" opacity="0.37"/>
<ellipse cx="79.3" cy="331.3" rx="0.86" ry="0.71" transform="rotate(122 79.3 331.3)" fill="#666" opacity="0.37"/>
<ellipse cx="132.5" cy="349.0" rx="1.01" ry="0.85" transform="rotate(148 132.5 349.0)" fill="#666" opacity="0.37"/>
<ellipse cx="153.2" cy="291.1" rx="1.04" ry="0.82" transform="rotate(134 153.2 291.1)" fill="#666" opacity="0.37"/>
<ellipse cx="154.3" cy="354.5" rx="0.93" ry="0.74" transform="rotate(141 154.3 354.5)" fill="#666" opacity="0.37"/>
<ellipse cx="131.8" cy="320.7" rx="1.14" ry="0.87" transform="rotate(23 131.8 320.7)" fill="#666" opacity="0.37"/>
<ellipse cx="95.1" cy="318.0" rx="0.72" ry="0.60" transform="rotate(138 95.1 318.0)" fill="#666" opacity="0.37"/>
<ellipse cx="114.3" cy="320.9" rx="0.90" ry="0.75" transform="rotate(173 114.3 320.9)" fill="#666" opacity="0.37"/>
<ellipse cx="123.1" cy="269.7" rx="0.95" ry="0.73" transform="rotate(141 123.1 269.7)" fill="#666" opacity="0.37"/>
<ellipse cx="157.9" cy="297.4" rx="0.91" ry="0.78" transform="rotate(68 157.9 297.4)" fill="#666" opacity="0.37"/>
</g></g>
<clipPath id="c5"><circle cx="281.5" cy="322.5" r="63.5"/></clipPath>
<radialGradient id="g5"><stop offset="0" stop-color="#f1f1f1"/><stop offset="0.6" stop-color="#f1f1f1"/><stop offset="1" stop-color="#e8e8e8"/></radialGradient>
<circle cx="281.5" cy="322.5" r="63.5" fill="url(#g5)" filter="url(#soft)"/>
<g clip-path="url(#c5)"><g filter="url(#blur1)">
<circle cx="254.8" cy="296.0" r="2.66" fill="#555555" opacity="0.14"/>
<ellipse cx="254.8" cy="296.0" rx="1.22" ry="1.11" transform="rotate(130 254.8 296.0)" fill="#555555" opacity="1.00"/>
<circle cx="265.2" cy="300.8" r="2.61" fill="#555555" opacity="0.14"/>
<ellipse cx="265.2" cy="300.8" rx="1.23" ry="1.09" transform="rotate(100 265.2 300.8)" fill="#555555" opacity="1.00"/>
<circle cx="270.4" cy="281.5" r="2.55" fill="#555555" opacity="0.14"/>
<ellipse cx="270.4" cy="281.5" rx="1.38" ry="1.06" transform="rotate(142 270.4 281.5)" fill="#555555" opacity="1.00"/>
<circle cx="273.5" cy="289.8" r="2.70" fill="#555555" opacity="0.14"/>
<ellipse cx="273.5" cy="289.8" rx="1.20" ry="1.12" transform="rotate(80 273.5 289.8)" fill="#555555" opacity="1.00"/>
<circle cx="279.3" cy="282.9" r="2.54" fill="#555555" opacity="0.14"/>
<ellipse cx="279.3" cy="282.9" rx="1.27" ry="1.06" transform="rotate(26 279.3 282.9)" fill="#555555" opacity="1.00"/>
<circle cx="283.8" cy="283.6" r="2.77" fill="#555555" opacity="0.14"/>
<ellipse cx="283.8" cy="283.6" rx="1.53" ry="1.15" transform="rotate(16 283.8 283.6)" fill="#555555" opacity="1.00"/>
<circle cx="288.0" cy="290.8" r="2.55" fill="#555555" opacity="0.14"/>
<ellipse cx="288.0" cy="290.8" rx="1.38" ry="1.06" transform="rotate(152 288.0 290.8)" fill="#555555" opacity="1.00"/>
<circle cx="295.2" cy="297.1" r="3.09" fill="#555555" opacity="0.14"/>
<ellipse cx="295.2" cy="297.1" rx="1.48" ry="1.29" transform="rotate(37 295.2 297.1)" fill="#555555" opacity="1.00"/>
<circle cx="297.3" cy="288.1" r="3.04" fill="#555555" opacity="0.14"/>
<ellipse cx="297.3" cy="288.1" rx="1.29" ry="1.27" transform="rotate(2 297.3 288.1)" fill="#555555" opacity="1.00"/>
<circle cx="304.6" cy="273.2" r="2.75" fill="#555555" opacity="0.14"/>
<ellipse cx="304.6" cy="273.2" rx="1.52" ry="1.15" transform="rotate(90 304.6 273.2)" fill="#555555" opacity="1.00"/>
<circle cx="301.5" cy="264.5" r="2.93" fill="#555555" opacity="0.14"/>
<ellipse cx="301.5" cy="264.5" rx="1.65" ry="1.22" transform="rotate(97 301.5 264.5)" fill="#555555" opacity="1.00"/>
<circle cx="306.7" cy="278.4" r="2.71" fill="#555555" opacity="0.14"/>
<ellipse cx="306.7" cy="278.4" rx="1.40" ry="1.13" transform="rotate(93 306.7 278.4)" fill="#555555" opacity="1.00"/>
<circle cx="312.9" cy="299.8" r="2.61" fill="#555555" opacity="0.14"/>
<ellipse cx="312.9" cy="299.8" rx="1.31" ry="1.09" transform="rotate(64 312.9 299.8)" fill="#555555" opacity="1.00"/>
<circle cx="316.4" cy="308.5" r="2.57" fill="#555555" opacity="0.14"/>
<ellipse cx="316.4" cy="308.5" rx="1.33" ry="1.07" transform="rotate(171 316.4 308.5)" fill="#555555" opacity="1.00"/>
<circle cx="323.3" cy="289.8" r="2.72" fill="#555555" opacity="0.14"/>
<ellipse cx="323.3" cy="289.8" rx="1.28" ry="1.13" transform="rotate(18 323.3 289.8)" fill="#555555" opacity="1.00"/>
<circle cx="322.2" cy="283.6" r="2.62" fill="#555555" opacity="0.14"/>
<ellipse cx="322.2" cy="283.6" rx="1.31" ry="1.09" transform="rotate(101 322.2 283.6)" fill="#555555" opacity="1.00"/>
<circle cx="331.6" cy="286.7" r="3.02" fill="#555555" opacity="0.14"/>
<ellipse cx="331.6" cy="286.7" rx="1.47" ry="1.26" transform="rotate(174 331.6 286.7)" fill="#555555" opacity="1.00"/>
<circle cx="278.7" cy="303.3" r="2.65" fill="#555555" opacity="0.14"/>
<ellipse cx="278.7" cy="303.3" rx="1.49" ry="1.10" transform="rotate(112 278.7 303.3)" fill="#555555" opacity="1.00"/>
<circle cx="296.9" cy="306.0" r="2.57" fill="#555555" opacity="0.14"/>
<ellipse cx="296.9" cy="306.0" rx="1.38" ry="1.07" transform="rotate(95 296.9 306.0)" fill="#555555" opacity="1.00"/>
<circle cx="246.5" cy="309.5" r="2.42" fill="#555555" opacity="0.14"/>
<ellipse cx="246.5" cy="309.5" rx="1.36" ry="1.01" transform="rotate(57 246.5 309.5)" fill="#555555" opacity="1.00"/>
<circle cx="252.7" cy="312.6" r="2.97" fill="#555555" opacity="0.14"/>
<ellipse cx="252.7" cy="312.6" rx="1.29" ry="1.24" transform="rotate(92 252.7 312.6)" fill="#555555" opacity="1.00"/>
<circle cx="258.9" cy="312.6" r="3.03" fill="#555555" opacity="0.14"/>
<ellipse cx="258.9" cy="312.6" rx="1.63" ry="1.26" transform="rotate(124 258.9 312.6)" fill="#555555" opacity="1.00"/>
<circle cx="234.0" cy="312.6" r="3.11" fill="#555555" opacity="0.14"/>
<ellipse cx="234.0" cy="312.6" rx="1.49" ry="1.30" transform="rotate(160 234.0 312.6)" fill="#555555" opacity="1.00"/>
<circle cx="227.8" cy="307.4" r="2.41" fill="#555555" opacity="0.14"/>
<ellipse cx="227.8" cy="307.4" rx="1.18" ry="1.00" transform="rotate(52 227.8 307.4)" fill="#555555" opacity="1.00"/>
<circle cx="242.8" cy="301.2" r="2.70" fill="#555555" opacity="0.14"/>
<ellipse cx="242.8" cy="301.2" rx="1.20" ry="1.13" transform="rotate(34 242.8 301.2)" fill="#555555" opacity="1.00"/>
<circle cx="240.3" cy="284.6" r="2.81" fill="#555555" opacity="0.14"/>
<ellipse cx="240.3" cy="284.6" rx="1.32" ry="1.17" transform="rotate(109 240.3 284.6)" fill="#555555" opacity="1.00"/>
<circle cx="260.0" cy="322.0" r="3.11" fill="#555555" opacity="0.14"/>
<ellipse cx="260.0" cy="322.0" rx="1.32" ry="1.30" transform="rotate(115 260.0 322.0)" fill="#555555" opacity="1.00"/>
<circle cx="244.4" cy="329.2" r="2.63" fill="#555555" opacity="0.14"/>
<ellipse cx="244.4" cy="329.2" rx="1.21" ry="1.09" transform="rotate(142 244.4 329.2)" fill="#555555" opacity="1.00"/>
<circle cx="251.7" cy="332.3" r="2.86" fill="#555555" opacity="0.14"/>
<ellipse cx="251.7" cy="332.3" rx="1.32" ry="1.19" transform="rotate(1 251.7 332.3)" fill="#555555" opacity="1.00"/>
<circle cx="268.9" cy="317.8" r="2.99" fill="#555555" opacity="0.14"/>
<ellipse cx="268.9" cy="317.8" rx="1.54" ry="1.24" transform="rotate(106 268.9 317.8)" fill="#555555" opacity="1.00"/>
<circle cx="277.6" cy="318.8" r="2.45" fill="#555555" opacity="0.14"/>
<ellipse cx="277.6" cy="318.8" rx="1.22" ry="1.02" transform="rotate(90 277.6 318.8)" fill="#555555" opacity="1.00"/>
<circle cx="284.9" cy="325.1" r="2.50" fill="#555555" opacity="0.14"/>
<ellipse cx="284.9" cy="325.1" rx="1.24" ry="1.04" transform="rotate(116 284.9 325.1)" fill="#555555" opacity="1.00"/>
<circle cx="288.0" cy="323.0" r="3.12" fill="#555555" opacity="0.14"/>
<ellipse cx="288.0" cy="323.0" rx="1.49" ry="1.30" transform="rotate(103 288.0 323.0)" fill="#555555" opacity="1.00"/>
<circle cx="297.3" cy="325.1" r="2.38" fill="#555555" opacity="0.14"/>
<ellipse cx="297.3" cy="325.1" rx="1.26" ry="0.99" transform="rotate(28 297.3 325.1)" fill="#555555" opacity="1.00"/>
<circle cx="298.4" cy="329.8" r="2.37" fill="#555555" opacity="0.14"/>
<ellipse cx="298.4" cy="329.8" rx="1.05" ry="0.99" transform="rotate(18 298.4 329.8)" fill="#555555" opacity="1.00"/>
<circle cx="310.8" cy="340.6" r="2.72" fill="#555555" opacity="0.14"/>
<ellipse cx="310.8" cy="340.6" rx="1.38" ry="1.13" transform="rotate(148 310.8 340.6)" fill="#555555" opacity="1.00"/>
<circle cx="307.7" cy="344.8" r="2.96" fill="#555555" opacity="0.14"/>
<ellipse cx="307.7" cy="344.8" rx="1.24" ry="1.23" transform="rotate(11 307.7 344.8)" fill="#555555" opacity="1.00"/>
<circle cx="317.0" cy="341.0" r="2.93" fill="#555555" opacity="0.14"/>
<ellipse cx="317.0" cy="341.0" rx="1.53" ry="1.22" transform="rotate(58 317.0 341.0)" fill="#555555" opacity="1.00"/>
<circle cx="327.4" cy="334.8" r="2.58" fill="#555555" opacity="0.14"/>
<ellipse cx="327.4" cy="334.8" rx="1.17" ry="1.07" transform="rotate(30 327.4 334.8)" fill="#555555" opacity="1.00"/>
<circle cx="329.5" cy="341.0" r="2.36" fill="#555555" opacity="0.14"/>
<ellipse cx="329.5" cy="341.0" rx="1.19" ry="0.98" transform="rotate(163 329.5 341.0)" fill="#555555" opacity="1.00"/>
<circle cx="343.0" cy="329.6" r="2.57" fill="#555555" opacity="0.14"/>
<ellipse cx="343.0" cy="329.6" rx="1.22" ry="1.07" transform="rotate(81 343.0 329.6)" fill="#555555" opacity="1.00"/>
<circle cx="227.8" cy="339.2" r="2.33" fill="#555555" opacity="0.14"/>
<ellipse cx="227.8" cy="339.2" rx="1.17" ry="0.97" transform="rotate(160 227.8 339.2)" fill="#555555" opacity="1.00"/>
<circle cx="220.6" cy="336.5" r="3.09" fill="#555555" opacity="0.14"/>
<ellipse cx="220.6" cy="336.5" rx="1.56" ry="1.29" transform="rotate(79 220.6 336.5)" fill="#555555" opacity="1.00"/>
<circle cx="273.0" cy="337.1" r="2.49" fill="#555555" opacity="0.14"/>
<ellipse cx="273.0" cy="337.1" rx="1.38" ry="1.04" transform="rotate(8 273.0 337.1)" fill="#555555" opacity="1.00"/>
<circle cx="294.8" cy="350.0" r="3.00" fill="#555555" opacity="0.14"/>
<ellipse cx="294.8" cy="350.0" rx="1.64" ry="1.25" transform="rotate(57 294.8 350.0)" fill="#555555" opacity="1.00"/>
<circle cx="302.5" cy="353.7" r="2.97" fill="#555555" opacity="0.14"/>
<ellipse cx="302.5" cy="353.7" rx="1.50" ry="1.24" transform="rotate(55 302.5 353.7)" fill="#555555" opacity="1.00"/>
<circle cx="275.5" cy="351.6" r="3.09" fill="#555555" opacity="0.14"/>
<ellipse cx="275.5" cy="351.6" rx="1.71" ry="1.29" transform="rotate(89 275.5 351.6)" fill="#555555" opacity="1.00"/>
<circle cx="281.3" cy="353.1" r="2.48" fill="#555555" opacity="0.14"/>
<ellipse cx="281.3" cy="353.1" rx="1.30" ry="1.04" transform="rotate(70 281.3 353.1)" fill="#555555" opacity="1.00"/>
<circle cx="277.6" cy="360.3" r="2.47" fill="#555555" opacity="0.14"/>
<ellipse cx="277.6" cy="360.3" rx="1.34" ry="1.03" transform="rotate(56 277.6 360.3)" fill="#555555" opacity="1.00"/>
<circle cx="261.0" cy="353.1" r="2.69" fill="#555555" opacity="0.14"/>
<ellipse cx="261.0" cy="353.1" rx="1.21" ry="1.12" transform="rotate(143 261.0 353.1)" fill="#555555" opacity="1.00"/>
<circle cx="240.3" cy="351.6" r="2.43" fill="#555555" opacity="0.14"/>
<ellipse cx="240.3" cy="351.6" rx="1.08" ry="1.01" transform="rotate(65 240.3 351.6)" fill="#555555" opacity="1.00"/>
<circle cx="250.6" cy="362.4" r="3.10" fill="#555555" opacity="0.14"/>
<ellipse cx="250.6" cy="362.4" rx="1.54" ry="1.29" transform="rotate(52 250.6 362.4)" fill="#555555" opacity="1.00"/>
<circle cx="239.2" cy="365.5" r="2.38" fill="#555555" opacity="0.14"/>
<ellipse cx="239.2" cy="365.5" rx="1.12" ry="0.99" transform="rotate(96 239.2 365.5)" fill="#555555" opacity="1.00"/>
<circle cx="263.1" cy="365.5" r="2.62" fill="#555555" opacity="0.14"/>
<ellipse cx="263.1" cy="365.5" rx="1.14" ry="1.09" transform="rotate(12 263.1 365.5)" fill="#555555" opacity="1.00"/>
<circle cx="273.5" cy="372.8" r="2.97" fill="#555555" opacity="0.14"/>
<ellipse cx="273.5" cy="372.8" rx="1.35" ry="1.24" transform="rotate(63 273.5 372.8)" fill="#555555" opacity="1.00"/>
<circle cx="280.7" cy="369.0" r="2.44" fill="#555555" opacity="0.14"/>
<ellipse cx="280.7" cy="369.0" rx="1.10" ry="1.02" transform="rotate(51 280.7 369.0)" fill="#555555" opacity="1.00"/>
<circle cx="294.2" cy="369.0" r="2.31" fill="#555555" opacity="0.14"/>
<ellipse cx="294.2" cy="369.0" rx="1.08" ry="0.96" transform="rotate(120 294.2 369.0)" fill="#555555" opacity="1.00"/>
<circle cx="247.5" cy="374.9" r="2.41" fill="#555555" opacity="0.14"/>
<ellipse cx="247.5" cy="374.9" rx="1.04" ry="1.00" transform="rotate(127 247.5 374.9)" fill="#555555" opacity="1.00"/>
<circle cx="258.9" cy="379.0" r="2.51" fill="#555555" opacity="0.14"/>
<ellipse cx="258.9" cy="379.0" rx="1.09" ry="1.04" transform="rotate(150 258.9 379.0)" fill="#555555" opacity="1.00"/>
<circle cx="287.0" cy="376.9" r="2.65" fill="#555555" opacity="0.14"/>
<ellipse cx="287.0" cy="376.9" rx="1.42" ry="1.11" transform="rotate(151 287.0 376.9)" fill="#555555" opacity="1.00"/>
<circle cx="243.4" cy="360.3" r="2.41" fill="#555555" opacity="0.14"/>
<ellipse cx="243.4" cy="360.3" rx="1.26" ry="1.01" transform="rotate(64 243.4 360.3)" fill="#555555" opacity="1.00"/>
<circle cx="254.8" cy="272.2" r="2.60" fill="#555555" opacity="0.14"/>
<ellipse cx="254.8" cy="272.2" rx="1.16" ry="1.08" transform="rotate(173 254.8 272.2)" fill="#555555" opacity="1.00"/>
<circle cx="261.0" cy="266.6" r="3.08" fill="#555555" opacity="0.14"/>
<ellipse cx="261.0" cy="266.6" rx="1.38" ry="1.28" transform="rotate(91 261.0 266.6)" fill="#555555" opacity="1.00"/>
<circle cx="276.6" cy="272.2" r="2.66" fill="#555555" opacity="0.14"/>
<ellipse cx="276.6" cy="272.2" rx="1.38" ry="1.11" transform="rotate(24 276.6 272.2)" fill="#555555" opacity="1.00"/>
<circle cx="268.3" cy="290.8" r="2.50" fill="#555555" opacity="0.14"/>
<ellipse cx="268.3" cy="290.8" rx="1.26" ry="1.04" transform="rotate(162 268.3 290.8)" fill="#555555" opacity="1.00"/>
<circle cx="287.0" cy="311.6" r="2.59" fill="#555555" opacity="0.14"/>
<ellipse cx="287.0" cy="311.6" rx="1.31" ry="1.08" transform="rotate(44 287.0 311.6)" fill="#555555" opacity="1.00"/>
<circle cx="232.0" cy="354.1" r="2.46" fill="#555555" opacity="0.14"/>
<ellipse cx="232.0" cy="354.1" rx="1.07" ry="1.02" transform="rotate(157 232.0 354.1)" fill="#555555" opacity="1.00"/>
<circle cx="329.5" cy="313.7" r="2.71" fill="#555555" opacity="0.14"/>
<ellipse cx="329.5" cy="313.7" rx="1.24" ry="1.13" transform="rotate(98 329.5 313.7)" fill="#555555" opacity="1.00"/>
</g></g>
<g clip-path="url(#c5)"><g filter="url(#blur1)">
<ellipse cx="286.6" cy="285.3" rx="0.88" ry="0.85" transform="rotate(51 286.6 285.3)" fill="#555" opacity="0.42"/>
<ellipse cx="256.5" cy="284.4" rx="1.17" ry="0.88" transform="rotate(76 256.5 284.4)" fill="#555" opacity="0.42"/>
<ellipse cx="267.4" cy="357.6" rx="1.04" ry="0.81" transform="rotate(133 267.4 357.6)" fill="#555" opacity="0.42"/>
<ellipse cx="303.3" cy="335.6" rx="0.80" ry="0.79" transform="rotate(82 303.3 335.6)" fill="#555" opacity="0.42"/>
<ellipse cx="301.8" cy="294.9" rx="0.95" ry="0.81" transform="rotate(77 301.8 294.9)" fill="#555" opacity="0.42"/>
<ellipse cx="271.1" cy="305.5" rx="1.11" ry="0.88" transform="rotate(23 271.1 305.5)" fill="#555" opacity="0.42"/>
<ellipse cx="247.8" cy="308.7" rx="0.79" ry="0.61" transform="rotate(126 247.8 308.7)" fill="#555" opacity="0.42"/>
<ellipse cx="248.5" cy="322.4" rx="0.91" ry="0.68" transform="rotate(98 248.5 322.4)" fill="#555" opacity="0.42"/>
<ellipse cx="312.4" cy="336.1" rx="0.86" ry="0.79" transform="rotate(98 312.4 336.1)" fill="#555" opacity="0.42"/>
<ellipse cx="284.7" cy="343.8" rx="0.71" ry="0.62" transform="rotate(64 284.7 343.8)" fill="#555" opacity="0.42"/>
<ellipse cx="274.8" cy="291.1" rx="0.69" ry="0.66" transform="rotate(56 274.8 291.1)" fill="#555" opacity="0.42"/>
<ellipse cx="234.1" cy="355.4" rx="0.88" ry="0.81" transform="rotate(121 234.1 355.4)" fill="#555" opacity="0.42"/>
<ellipse cx="290.4" cy="266.4" rx="0.78" ry="0.67" transform="rotate(93 290.4 266.4)" fill="#555" opacity="0.42"/>
<ellipse cx="295.7" cy="305.7" rx="0.97" ry="0.88" transform="rotate(63 295.7 305.7)" fill="#555" opacity="0.42"/>
<ellipse cx="279.8" cy="332.8" rx="1.04" ry="0.87" transform="rotate(26 279.8 332.8)" fill="#555" opacity="0.42"/>
<ellipse cx="260.4" cy="278.0" rx="0.83" ry="0.70" transform="rotate(147 260.4 278.0)" fill="#555" opacity="0.42"/>
<ellipse cx="258.4" cy="353.7" rx="1.02" ry="0.83" transform="rotate(30 258.4 353.7)" fill="#555" opacity="0.42"/>
<ellipse cx="254.1" cy="279.9" rx="0.99" ry="0.78" transform="rotate(83 254.1 279.9)" fill="#555" opacity="0.42"/>
<ellipse cx="282.1" cy="378.2" rx="0.94" ry="0.85" transform="rotate(21 282.1 378.2)" fill="#555" opacity="0.42"/>
<ellipse cx="252.8" cy="360.9" rx="0.72" ry="0.71" transform="rotate(37 252.8 360.9)" fill="#555" opacity="0.42"/>
<ellipse cx="290.1" cy="341.2" rx="0.85" ry="0.68" transform="rotate(35 290.1 341.2)" fill="#555" opacity="0.42"/>
<ellipse cx="325.7" cy="295.5" rx="0.82" ry="0.73" transform="rotate(20 325.7 295.5)" fill="#555" opacity="0.42"/>
<ellipse cx="278.7" cy="310.7" rx="0.78" ry="0.74" transform="rotate(65 278.7 310.7)" fill="#555" opacity="0.42"/>
<ellipse cx="305.1" cy="328.6" rx="0.84" ry="0.62" transform="rotate(2 305.1 328.6)" fill="#555" opacity="0.42"/>
<ellipse cx="292.2" cy="354.1" rx="1.03" ry="0.83" transform="rotate(15 292.2 354.1)" fill="#555" opacity="0.42"/>
<ellipse cx="272.7" cy="330.7" rx="0.93" ry="0.89" transform="rotate(101 272.7 330.7)" fill="#555" opacity="0.42"/>
<ellipse cx="263.4" cy="367.3" rx="0.80" ry="0.75" transform="rotate(78 263.4 367.3)" fill="#555" opacity="0.42"/>
<ellipse cx="305.2" cy="372.6" rx="1.01" ry="0.76" transform="rotate(1 305.2 372.6)" fill="#555" opacity="0.42"/>
<ellipse cx="235.2" cy="300.6" rx="1.05" ry="0.79" transform="rotate(113 235.2 300.6)" fill="#555" opacity="0.42"/>
<ellipse cx="280.3" cy="362.4" rx="0.86" ry="0.80" transform="rotate(45 280.3 362.4)" fill="#555" opacity="0.42"/>
<ellipse cx="267.2" cy="289.8" rx="0.82" ry="0.64" transform="rotate(5 267.2 289.8)" fill="#555" opacity="0.42"/>
<ellipse cx="336.8" cy="322.8" rx="0.91" ry="0.85" transform="rotate(53 336.8 322.8)" fill="#555" opacity="0.42"/>
<ellipse cx="286.9" cy="290.6" rx="1.05" ry="0.79" transform="rotate(152 286.9 290.6)" fill="#555" opacity="0.42"/>
<ellipse cx="335.4" cy="337.4" rx="0.84" ry="0.65" transform="rotate(141 335.4 337.4)" fill="#555" opacity="0.42"/>
<ellipse cx="271.2" cy="314.3" rx="0.88" ry="0.82" transform="rotate(59 271.2 314.3)" fill="#555" opacity="0.42"/>
<ellipse cx="282.2" cy="342.7" rx="0.96" ry="0.85" transform="rotate(58 282.2 342.7)" fill="#555" opacity="0.42"/>
<ellipse cx="288.6" cy="295.7" rx="0.99" ry="0.77" transform="rotate(66 288.6 295.7)" fill="#555" opacity="0.42"/>
<ellipse cx="326.5" cy="295.7" rx="0.81" ry="0.67" transform="rotate(7 326.5 295.7)" fill="#555" opacity="0.42"/>
<ellipse cx="324.7" cy="348.5" rx="0.98" ry="0.79" transform="rotate(148 324.7 348.5)" fill="#555" opacity="0.42"/>
<ellipse cx="240.4" cy="354.9" rx="1.02" ry="0.87" transform="rotate(170 240.4 354.9)" fill="#555" opacity="0.42"/>
</g></g>
<clipPath id="c6"><circle cx="449" cy="324" r="80.5"/></clipPath>
<radialGradient id="h6"><stop offset="0" stop-color="#28180c"/><stop offset="1" stop-color="#150d08"/></radialGradient>
<circle cx="449" cy="324" r="80.5" fill="url(#h6)"/>
<g clip-path="url(#c6)"><g filter="url(#blur2)">
<circle cx="417.5" cy="324.1" r="2.21" fill="#f03020" opacity="0.58"/>
<circle cx="430.4" cy="381.7" r="2.59" fill="#f03020" opacity="0.55"/>
<circle cx="506.7" cy="355.9" r="2.13" fill="#f03020" opacity="0.53"/>
<circle cx="476.3" cy="369.3" r="2.45" fill="#f03020" opacity="0.76"/>
<circle cx="472.4" cy="319.5" r="1.79" fill="#f03020" opacity="0.72"/>
<circle cx="500.1" cy="337.1" r="2.41" fill="#f03020" opacity="0.57"/>
<circle cx="473.6" cy="387.0" r="1.86" fill="#f03020" opacity="0.64"/>
<circle cx="521.9" cy="325.3" r="2.48" fill="#f03020" opacity="0.53"/>
<circle cx="492.3" cy="268.4" r="2.25" fill="#f03020" opacity="0.67"/>
<circle cx="411.2" cy="343.1" r="2.00" fill="#f03020" opacity="0.67"/>
<circle cx="418.9" cy="275.5" r="2.47" fill="#f03020" opacity="0.55"/>
<circle cx="408.3" cy="346.0" r="2.47" fill="#f03020" opacity="0.60"/>
<circle cx="388.9" cy="348.4" r="2.36" fill="#f03020" opacity="0.76"/>
<circle cx="483.8" cy="256.9" r="1.70" fill="#f03020" opacity="0.76"/>
<circle cx="471.1" cy="361.1" r="2.59" fill="#f03020" opacity="0.58"/>
<circle cx="393.1" cy="344.9" r="1.53" fill="#f03020" opacity="0.52"/>
<circle cx="428.7" cy="352.7" r="2.57" fill="#f03020" opacity="0.48"/>
<circle cx="487.9" cy="347.0" r="2.50" fill="#f03020" opacity="0.53"/>
<circle cx="373.1" cy="343.3" r="2.31" fill="#f03020" opacity="0.51"/>
<circle cx="511.1" cy="283.9" r="1.69" fill="#f03020" opacity="0.70"/>
<circle cx="526.0" cy="311.5" r="1.60" fill="#f03020" opacity="0.59"/>
<circle cx="396.8" cy="275.0" r="2.51" fill="#f03020" opacity="0.71"/>
<circle cx="509.8" cy="348.1" r="2.47" fill="#f03020" opacity="0.79"/>
<circle cx="415.5" cy="296.6" r="1.54" fill="#f03020" opacity="0.56"/>
<circle cx="379.0" cy="290.5" r="2.37" fill="#f03020" opacity="0.70"/>
<circle cx="385.5" cy="331.7" r="1.54" fill="#f03020" opacity="0.64"/>
<circle cx="434.8" cy="368.4" r="1.75" fill="#f03020" opacity="0.62"/>
<circle cx="459.0" cy="315.2" r="1.62" fill="#f03020" opacity="0.49"/>
<circle cx="473.6" cy="384.7" r="2.59" fill="#f03020" opacity="0.58"/>
<circle cx="427.1" cy="331.5" r="2.47" fill="#f03020" opacity="0.52"/>
<circle cx="423.1" cy="283.0" r="2.04" fill="#f03020" opacity="0.52"/>
<circle cx="404.2" cy="299.1" r="1.97" fill="#f03020" opacity="0.54"/>
<circle cx="390.3" cy="312.8" r="2.25" fill="#f03020" opacity="0.53"/>
<circle cx="427.6" cy="340.3" r="2.31" fill="#f03020" opacity="0.64"/>
<circle cx="480.7" cy="392.0" r="1.62" fill="#f03020" opacity="0.59"/>
<circle cx="423.6" cy="316.1" r="2.05" fill="#f03020" opacity="0.77"/>
<circle cx="474.9" cy="293.5" r="1.88" fill="#f03020" opacity="0.55"/>
<circle cx="496.9" cy="356.5" r="2.56" fill="#f03020" opacity="0.76"/>
<circle cx="448.5" cy="379.6" r="2.30" fill="#f03020" opacity="0.57"/>
<circle cx="413.3" cy="311.4" r="1.69" fill="#f03020" opacity="0.56"/>
<circle cx="425.0" cy="312.2" r="1.58" fill="#f03020" opacity="0.49"/>
<circle cx="388.2" cy="319.0" r="2.06" fill="#f03020" opacity="0.61"/>
<circle cx="493.5" cy="348.5" r="2.11" fill="#f03020" opacity="0.60"/>
<circle cx="496.2" cy="347.5" r="1.51" fill="#f03020" opacity="0.70"/>
<circle cx="487.6" cy="279.4" r="2.22" fill="#f03020" opacity="0.65"/>
<circle cx="433.7" cy="256.5" r="2.10" fill="#f03020" opacity="0.70"/>
<circle cx="508.5" cy="376.2" r="2.58" fill="#f03020" opacity="0.76"/>
<circle cx="444.5" cy="299.0" r="2.29" fill="#f03020" opacity="0.61"/>
<circle cx="473.0" cy="280.4" r="1.85" fill="#f03020" opacity="0.61"/>
<circle cx="486.0" cy="392.6" r="2.57" fill="#f03020" opacity="0.60"/>
<circle cx="384.4" cy="297.0" r="1.92" fill="#f03020" opacity="0.61"/>
<circle cx="494.7" cy="377.1" r="1.66" fill="#f03020" opacity="0.80"/>
<circle cx="485.2" cy="337.7" r="1.51" fill="#f03020" opacity="0.67"/>
<circle cx="442.2" cy="331.0" r="2.52" fill="#f03020" opacity="0.56"/>
<circle cx="418.6" cy="303.5" r="2.17" fill="#f03020" opacity="0.60"/>
<circle cx="428.4" cy="387.6" r="1.76" fill="#f03020" opacity="0.54"/>
<circle cx="382.0" cy="357.6" r="1.63" fill="#f03020" opacity="0.75"/>
<circle cx="395.3" cy="272.8" r="2.36" fill="#f03020" opacity="0.77"/>
<circle cx="378.7" cy="294.7" r="1.55" fill="#f03020" opacity="0.70"/>
<circle cx="471.4" cy="300.4" r="1.86" fill="#f03020" opacity="0.69"/>
<circle cx="447.7" cy="277.6" r="2.10" fill="#f03020" opacity="0.58"/>
<circle cx="454.6" cy="258.7" r="2.57" fill="#f03020" opacity="0.48"/>
<circle cx="461.7" cy="299.2" r="2.32" fill="#f03020" opacity="0.75"/>
<circle cx="401.3" cy="372.9" r="2.06" fill="#f03020" opacity="0.67"/>
<circle cx="513.0" cy="302.3" r="2.59" fill="#f03020" opacity="0.56"/>
<circle cx="508.5" cy="340.7" r="2.19" fill="#f03020" opacity="0.72"/>
<circle cx="496.7" cy="358.5" r="1.92" fill="#f03020" opacity="0.71"/>
<circle cx="457.7" cy="298.7" r="1.93" fill="#f03020" opacity="0.65"/>
<circle cx="507.3" cy="294.5" r="2.17" fill="#f03020" opacity="0.70"/>
<circle cx="448.0" cy="358.9" r="1.85" fill="#f03020" opacity="0.68"/>
<circle cx="380.3" cy="347.9" r="2.10" fill="#f03020" opacity="0.55"/>
<circle cx="425.6" cy="310.9" r="2.17" fill="#f03020" opacity="0.56"/>
<circle cx="475.2" cy="327.5" r="2.50" fill="#f03020" opacity="0.63"/>
<circle cx="459.7" cy="291.5" r="2.29" fill="#f03020" opacity="0.65"/>
<circle cx="408.6" cy="309.7" r="2.02" fill="#f03020" opacity="0.55"/>
<circle cx="430.1" cy="278.7" r="1.66" fill="#f03020" opacity="0.78"/>
<circle cx="494.9" cy="382.6" r="2.08" fill="#f03020" opacity="0.65"/>
<circle cx="384.9" cy="308.2" r="2.08" fill="#f03020" opacity="0.74"/>
<circle cx="476.7" cy="251.7" r="1.76" fill="#f03020" opacity="0.54"/>
<circle cx="495.3" cy="328.0" r="2.40" fill="#f03020" opacity="0.63"/>
<circle cx="481.8" cy="369.8" r="2.20" fill="#f03020" opacity="0.74"/>
<circle cx="498.7" cy="273.1" r="2.48" fill="#f03020" opacity="0.76"/>
<circle cx="482.1" cy="331.5" r="1.55" fill="#f03020" opacity="0.60"/>
<circle cx="476.3" cy="264.4" r="2.42" fill="#f03020" opacity="0.74"/>
<circle cx="406.2" cy="358.3" r="1.64" fill="#f03020" opacity="0.53"/>
<circle cx="488.8" cy="385.3" r="1.78" fill="#f03020" opacity="0.51"/>
<circle cx="390.8" cy="370.1" r="1.89" fill="#f03020" opacity="0.74"/>
<circle cx="432.2" cy="310.0" r="2.07" fill="#f03020" opacity="0.62"/>
<circle cx="431.3" cy="356.5" r="1.60" fill="#f03020" opacity="0.61"/>
<circle cx="497.0" cy="286.3" r="2.60" fill="#f03020" opacity="0.70"/>
<circle cx="480.5" cy="332.9" r="1.99" fill="#f03020" opacity="0.63"/>
<circle cx="414.1" cy="365.7" r="2.38" fill="#f03020" opacity="0.72"/>
<circle cx="405.2" cy="301.0" r="1.66" fill="#f03020" opacity="0.70"/>
<circle cx="445.3" cy="328.9" r="1.90" fill="#f03020" opacity="0.65"/>
<circle cx="408.6" cy="302.1" r="1.76" fill="#f03020" opacity="0.60"/>
<circle cx="502.4" cy="330.9" r="1.87" fill="#f03020" opacity="0.60"/>
<circle cx="465.9" cy="322.6" r="1.52" fill="#f03020" opacity="0.54"/>
<circle cx="488.6" cy="375.7" r="2.13" fill="#f03020" opacity="0.50"/>
<circle cx="443.1" cy="365.1" r="1.70" fill="#f03020" opacity="0.71"/>
<circle cx="408.3" cy="324.0" r="1.80" fill="#f03020" opacity="0.58"/>
<circle cx="396.6" cy="299.7" r="1.77" fill="#f03020" opacity="0.75"/>
<circle cx="525.3" cy="302.8" r="1.60" fill="#f03020" opacity="0.68"/>
<circle cx="507.2" cy="336.7" r="2.44" fill="#f03020" opacity="0.54"/>
<circle cx="458.7" cy="250.4" r="1.97" fill="#f03020" opacity="0.73"/>
<circle cx="458.6" cy="261.5" r="2.18" fill="#f03020" opacity="0.60"/>
<circle cx="417.2" cy="288.2" r="1.55" fill="#f03020" opacity="0.62"/>
<circle cx="435.0" cy="393.5" r="1.90" fill="#f03020" opacity="0.71"/>
<circle cx="502.7" cy="268.8" r="1.82" fill="#f03020" opacity="0.61"/>
<circle cx="430.7" cy="284.2" r="2.21" fill="#f03020" opacity="0.74"/>
<circle cx="454.7" cy="255.9" r="1.89" fill="#f03020" opacity="0.60"/>
<circle cx="385.7" cy="320.5" r="2.14" fill="#f03020" opacity="0.78"/>
<circle cx="414.2" cy="371.6" r="1.71" fill="#f03020" opacity="0.79"/>
<circle cx="432.8" cy="334.9" r="2.28" fill="#f03020" opacity="0.60"/>
<circle cx="425.5" cy="362.6" r="2.23" fill="#f03020" opacity="0.59"/>
<circle cx="504.0" cy="320.0" r="1.58" fill="#f03020" opacity="0.72"/>
<circle cx="422.6" cy="353.0" r="1.92" fill="#f03020" opacity="0.65"/>
<circle cx="453.5" cy="370.8" r="2.05" fill="#f03020" opacity="0.77"/>
<circle cx="453.5" cy="329.1" r="2.33" fill="#f03020" opacity="0.49"/>
<circle cx="485.9" cy="285.2" r="2.15" fill="#f03020" opacity="0.63"/>
<circle cx="392.5" cy="344.1" r="2.01" fill="#f03020" opacity="0.75"/>
<circle cx="438.4" cy="354.9" r="1.96" fill="#f03020" opacity="0.63"/>
<circle cx="488.9" cy="341.7" r="2.48" fill="#f03020" opacity="0.62"/>
<circle cx="424.6" cy="387.2" r="2.04" fill="#f03020" opacity="0.64"/>
<circle cx="376.0" cy="299.6" r="2.41" fill="#f03020" opacity="0.69"/>
<circle cx="407.9" cy="388.3" r="2.31" fill="#f03020" opacity="0.61"/>
<circle cx="429.5" cy="312.8" r="1.54" fill="#f03020" opacity="0.70"/>
<circle cx="475.2" cy="378.6" r="2.11" fill="#f03020" opacity="0.73"/>
<circle cx="496.4" cy="320.3" r="2.35" fill="#f03020" opacity="0.52"/>
<circle cx="457.0" cy="272.6" r="1.74" fill="#f03020" opacity="0.50"/>
<circle cx="463.0" cy="308.8" r="2.40" fill="#f03020" opacity="0.51"/>
<circle cx="374.0" cy="331.3" r="1.60" fill="#f03020" opacity="0.72"/>
<circle cx="442.5" cy="363.8" r="2.12" fill="#f03020" opacity="0.50"/>
<circle cx="480.9" cy="328.7" r="2.25" fill="#f03020" opacity="0.71"/>
<circle cx="441.4" cy="390.3" r="2.03" fill="#f03020" opacity="0.50"/>
<circle cx="458.9" cy="373.3" r="2.26" fill="#f03020" opacity="0.61"/>
<circle cx="467.9" cy="382.7" r="2.14" fill="#f03020" opacity="0.80"/>
<circle cx="491.0" cy="275.7" r="2.40" fill="#f03020" opacity="0.76"/>
<circle cx="471.4" cy="388.3" r="1.66" fill="#f03020" opacity="0.59"/>
<circle cx="509.0" cy="309.9" r="2.07" fill="#f03020" opacity="0.48"/>
<circle cx="511.8" cy="358.2" r="2.59" fill="#f03020" opacity="0.57"/>
<circle cx="481.9" cy="291.3" r="1.79" fill="#f03020" opacity="0.58"/>
<circle cx="471.5" cy="350.1" r="1.78" fill="#f03020" opacity="0.75"/>
<circle cx="376.6" cy="306.9" r="2.11" fill="#f03020" opacity="0.64"/>
<circle cx="400.3" cy="265.2" r="1.96" fill="#f03020" opacity="0.50"/>
<circle cx="459.7" cy="368.2" r="1.83" fill="#f03020" opacity="0.76"/>
<circle cx="448.7" cy="260.0" r="2.38" fill="#f03020" opacity="0.75"/>
<circle cx="394.7" cy="360.7" r="1.78" fill="#f03020" opacity="0.54"/>
<circle cx="439.0" cy="340.2" r="1.56" fill="#f03020" opacity="0.65"/>
<circle cx="434.4" cy="332.7" r="1.91" fill="#f03020" opacity="0.63"/>
<circle cx="416.8" cy="291.2" r="2.04" fill="#f03020" opacity="0.67"/>
<circle cx="387.6" cy="326.2" r="1.90" fill="#f03020" opacity="0.74"/>
<circle cx="446.6" cy="378.1" r="1.72" fill="#f03020" opacity="0.77"/>
<circle cx="525.2" cy="330.5" r="2.11" fill="#f03020" opacity="0.50"/>
<circle cx="376.3" cy="293.0" r="1.85" fill="#f03020" opacity="0.65"/>
<circle cx="507.5" cy="345.5" r="1.95" fill="#f03020" opacity="0.66"/>
<circle cx="441.6" cy="279.0" r="1.86" fill="#f03020" opacity="0.57"/>
<circle cx="475.2" cy="341.4" r="2.38" fill="#f03020" opacity="0.57"/>
<circle cx="492.5" cy="378.4" r="2.28" fill="#f03020" opacity="0.74"/>
<circle cx="509.6" cy="362.4" r="2.15" fill="#f03020" opacity="0.63"/>
<circle cx="397.3" cy="351.1" r="2.53" fill="#f03020" opacity="0.62"/>
<circle cx="398.7" cy="292.7" r="2.47" fill="#f03020" opacity="0.50"/>
<circle cx="415.1" cy="272.5" r="1.98" fill="#f03020" opacity="0.68"/>
<circle cx="415.7" cy="383.8" r="1.55" fill="#f03020" opacity="0.76"/>
<circle cx="445.7" cy="391.0" r="1.58" fill="#f03020" opacity="0.67"/>
<circle cx="454.8" cy="254.2" r="1.70" fill="#f03020" opacity="0.78"/>
<circle cx="423.6" cy="389.1" r="2.12" fill="#f03020" opacity="0.74"/>
<circle cx="502.0" cy="316.4" r="2.05" fill="#f03020" opacity="0.70"/>
<circle cx="438.8" cy="380.6" r="2.24" fill="#f03020" opacity="0.57"/>
<circle cx="475.9" cy="313.5" r="1.73" fill="#f03020" opacity="0.75"/>
<circle cx="503.7" cy="327.1" r="1.66" fill="#f03020" opacity="0.77"/>
<circle cx="409.8" cy="266.1" r="1.73" fill="#f03020" opacity="0.51"/>
<circle cx="397.6" cy="384.1" r="1.60" fill="#f03020" opacity="0.73"/>
<circle cx="458.5" cy="392.5" r="2.55" fill="#f03020" opacity="0.61"/>
<circle cx="460.2" cy="331.1" r="2.22" fill="#f03020" opacity="0.56"/>
<circle cx="462.0" cy="338.6" r="2.50" fill="#f03020" opacity="0.70"/>
<circle cx="389.8" cy="323.3" r="1.67" fill="#f03020" opacity="0.50"/>
<circle cx="481.0" cy="394.1" r="2.27" fill="#f03020" opacity="0.49"/>
<circle cx="428.6" cy="347.0" r="2.42" fill="#f03020" opacity="0.57"/>
<circle cx="479.1" cy="385.3" r="1.76" fill="#f03020" opacity="0.67"/>
<circle cx="477.2" cy="308.8" r="1.85" fill="#f03020" opacity="0.66"/>
<circle cx="518.0" cy="336.7" r="1.67" fill="#f03020" opacity="0.77"/>
<circle cx="452.7" cy="402.7" r="1.86" fill="#f03020" opacity="0.75"/>
<circle cx="385.6" cy="324.4" r="1.67" fill="#f03020" opacity="0.74"/>
<circle cx="409.3" cy="383.0" r="2.58" fill="#f03020" opacity="0.61"/>
<circle cx="405.2" cy="335.2" r="1.54" fill="#f03020" opacity="0.60"/>
<circle cx="470.4" cy="309.1" r="2.20" fill="#f03020" opacity="0.55"/>
<circle cx="446.9" cy="303.8" r="2.10" fill="#f03020" opacity="0.51"/>
<circle cx="418.2" cy="284.1" r="2.01" fill="#f03020" opacity="0.71"/>
<circle cx="461.8" cy="309.3" r="1.97" fill="#f03020" opacity="0.70"/>
<circle cx="402.2" cy="304.0" r="1.63" fill="#f03020" opacity="0.75"/>
<circle cx="516.5" cy="286.4" r="1.63" fill="#f03020" opacity="0.78"/>
<circle cx="422.7" cy="297.0" r="2.60" fill="#f03020" opacity="0.78"/>
<circle cx="448.5" cy="364.7" r="2.08" fill="#f03020" opacity="0.57"/>
<circle cx="414.0" cy="339.5" r="1.88" fill="#f03020" opacity="0.72"/>
<circle cx="469.1" cy="390.3" r="2.05" fill="#f03020" opacity="0.78"/>
<circle cx="435.9" cy="247.4" r="1.61" fill="#30e040" opacity="0.36"/>
<circle cx="449.6" cy="259.9" r="2.54" fill="#30e040" opacity="0.38"/>
<circle cx="452.1" cy="261.1" r="2.15" fill="#30e040" opacity="0.29"/>
<circle cx="463.3" cy="262.4" r="1.67" fill="#30e040" opacity="0.32"/>
<circle cx="474.5" cy="257.4" r="2.57" fill="#30e040" opacity="0.42"/>
<circle cx="489.4" cy="269.8" r="1.77" fill="#30e040" opacity="0.44"/>
<circle cx="501.9" cy="267.3" r="1.54" fill="#30e040" opacity="0.38"/>
<circle cx="495.7" cy="288.5" r="2.66" fill="#30e040" opacity="0.33"/>
<circle cx="498.2" cy="289.7" r="2.63" fill="#30e040" opacity="0.39"/>
<circle cx="491.9" cy="293.5" r="1.56" fill="#30e040" opacity="0.33"/>
<circle cx="495.7" cy="299.7" r="2.04" fill="#30e040" opacity="0.31"/>
<circle cx="404.8" cy="289.7" r="2.39" fill="#30e040" opacity="0.30"/>
<circle cx="399.8" cy="282.3" r="2.45" fill="#30e040" opacity="0.32"/>
<circle cx="388.6" cy="286.0" r="1.58" fill="#30e040" opacity="0.37"/>
<circle cx="382.4" cy="283.5" r="1.61" fill="#30e040" opacity="0.37"/>
<circle cx="418.5" cy="256.1" r="2.45" fill="#30e040" opacity="0.38"/>
<circle cx="422.2" cy="251.2" r="2.05" fill="#30e040" opacity="0.28"/>
<circle cx="392.4" cy="304.7" r="2.12" fill="#30e040" opacity="0.29"/>
<circle cx="417.3" cy="329.6" r="2.28" fill="#30e040" opacity="0.29"/>
<circle cx="397.3" cy="338.3" r="2.19" fill="#30e040" opacity="0.33"/>
<circle cx="437.2" cy="325.8" r="1.95" fill="#30e040" opacity="0.39"/>
<circle cx="435.9" cy="324.6" r="1.70" fill="#30e040" opacity="0.30"/>
<circle cx="454.6" cy="276.1" r="2.63" fill="#30e040" opacity="0.33"/>
<circle cx="473.3" cy="288.5" r="2.51" fill="#30e040" opacity="0.43"/>
<circle cx="499.4" cy="312.2" r="2.08" fill="#30e040" opacity="0.30"/>
<circle cx="511.9" cy="292.2" r="1.61" fill="#30e040" opacity="0.43"/>
<circle cx="516.8" cy="296.0" r="1.64" fill="#30e040" opacity="0.36"/>
<circle cx="465.8" cy="358.2" r="2.14" fill="#30e040" opacity="0.29"/>
<circle cx="467.0" cy="347.0" r="2.06" fill="#30e040" opacity="0.30"/>
<circle cx="452.1" cy="347.0" r="2.14" fill="#30e040" opacity="0.36"/>
<circle cx="430.9" cy="309.7" r="1.94" fill="#30e040" opacity="0.31"/>
<circle cx="429.7" cy="364.4" r="1.98" fill="#30e040" opacity="0.31"/>
<circle cx="419.7" cy="384.3" r="1.65" fill="#30e040" opacity="0.31"/>
<circle cx="499.4" cy="381.9" r="2.55" fill="#30e040" opacity="0.36"/>
<circle cx="406.1" cy="354.5" r="2.57" fill="#30e040" opacity="0.27"/>
<circle cx="442.2" cy="254.9" r="2.63" fill="#30e040" opacity="0.36"/>
<circle cx="469.5" cy="304.7" r="2.45" fill="#30e040" opacity="0.37"/>
<circle cx="439.7" cy="304.7" r="2.33" fill="#30e040" opacity="0.31"/>
<circle cx="384.9" cy="297.2" r="2.40" fill="#30e040" opacity="0.30"/>
<circle cx="509.4" cy="334.6" r="1.82" fill="#30e040" opacity="0.28"/>
</g><g filter="url(#blur1)">
<circle cx="417.5" cy="324.1" r="1.32" fill="#ff4434" opacity="0.72"/>
<circle cx="430.4" cy="381.7" r="1.56" fill="#ff4434" opacity="0.69"/>
<circle cx="506.7" cy="355.9" r="1.28" fill="#ff4434" opacity="0.66"/>
<circle cx="476.3" cy="369.3" r="1.47" fill="#ff4434" opacity="0.95"/>
<circle cx="472.4" cy="319.5" r="1.08" fill="#ff4434" opacity="0.90"/>
<circle cx="500.1" cy="337.1" r="1.44" fill="#ff4434" opacity="0.71"/>
<circle cx="473.6" cy="387.0" r="1.12" fill="#ff4434" opacity="0.79"/>
<circle cx="521.9" cy="325.3" r="1.49" fill="#ff4434" opacity="0.66"/>
<circle cx="492.3" cy="268.4" r="1.35" fill="#ff4434" opacity="0.84"/>
<circle cx="411.2" cy="343.1" r="1.20" fill="#ff4434" opacity="0.83"/>
<circle cx="418.9" cy="275.5" r="1.48" fill="#ff4434" opacity="0.68"/>
<circle cx="408.3" cy="346.0" r="1.48" fill="#ff4434" opacity="0.74"/>
<circle cx="388.9" cy="348.4" r="1.41" fill="#ff4434" opacity="0.95"/>
<circle cx="483.8" cy="256.9" r="1.02" fill="#ff4434" opacity="0.95"/>
<circle cx="471.1" cy="361.1" r="1.56" fill="#ff4434" opacity="0.72"/>
<circle cx="393.1" cy="344.9" r="0.92" fill="#ff4434" opacity="0.64"/>
<circle cx="428.7" cy="352.7" r="1.54" fill="#ff4434" opacity="0.60"/>
<circle cx="487.9" cy="347.0" r="1.50" fill="#ff4434" opacity="0.66"/>
<circle cx="373.1" cy="343.3" r="1.39" fill="#ff4434" opacity="0.64"/>
<circle cx="511.1" cy="283.9" r="1.01" fill="#ff4434" opacity="0.87"/>
<circle cx="526.0" cy="311.5" r="0.96" fill="#ff4434" opacity="0.74"/>
<circle cx="396.8" cy="275.0" r="1.51" fill="#ff4434" opacity="0.89"/>
<circle cx="509.8" cy="348.1" r="1.48" fill="#ff4434" opacity="0.99"/>
<circle cx="415.5" cy="296.6" r="0.92" fill="#ff4434" opacity="0.69"/>
<circle cx="379.0" cy="290.5" r="1.42" fill="#ff4434" opacity="0.88"/>
<circle cx="385.5" cy="331.7" r="0.92" fill="#ff4434" opacity="0.80"/>
<circle cx="434.8" cy="368.4" r="1.05" fill="#ff4434" opacity="0.77"/>
<circle cx="459.0" cy="315.2" r="0.97" fill="#ff4434" opacity="0.61"/>
<circle cx="473.6" cy="384.7" r="1.55" fill="#ff4434" opacity="0.73"/>
<circle cx="427.1" cy="331.5" r="1.48" fill="#ff4434" opacity="0.65"/>
<circle cx="423.1" cy="283.0" r="1.22" fill="#ff4434" opacity="0.65"/>
<circle cx="404.2" cy="299.1" r="1.18" fill="#ff4434" opacity="0.67"/>
<circle cx="390.3" cy="312.8" r="1.35" fill="#ff4434" opacity="0.66"/>
<circle cx="427.6" cy="340.3" r="1.39" fill="#ff4434" opacity="0.80"/>
<circle cx="480.7" cy="392.0" r="0.97" fill="#ff4434" opacity="0.74"/>
<circle cx="423.6" cy="316.1" r="1.23" fill="#ff4434" opacity="0.97"/>
<circle cx="474.9" cy="293.5" r="1.13" fill="#ff4434" opacity="0.69"/>
<circle cx="496.9" cy="356.5" r="1.54" fill="#ff4434" opacity="0.95"/>
<circle cx="448.5" cy="379.6" r="1.38" fill="#ff4434" opacity="0.71"/>
<circle cx="413.3" cy="311.4" r="1.02" fill="#ff4434" opacity="0.71"/>
<circle cx="425.0" cy="312.2" r="0.95" fill="#ff4434" opacity="0.62"/>
<circle cx="388.2" cy="319.0" r="1.24" fill="#ff4434" opacity="0.76"/>
<circle cx="493.5" cy="348.5" r="1.27" fill="#ff4434" opacity="0.75"/>
<circle cx="496.2" cy="347.5" r="0.91" fill="#ff4434" opacity="0.88"/>
<circle cx="487.6" cy="279.4" r="1.33" fill="#ff4434" opacity="0.82"/>
<circle cx="433.7" cy="256.5" r="1.26" fill="#ff4434" opacity="0.88"/>
<circle cx="508.5" cy="376.2" r="1.55" fill="#ff4434" opacity="0.95"/>
<circle cx="444.5" cy="299.0" r="1.37" fill="#ff4434" opacity="0.76"/>
<circle cx="473.0" cy="280.4" r="1.11" fill="#ff4434" opacity="0.77"/>
<circle cx="486.0" cy="392.6" r="1.54" fill="#ff4434" opacity="0.75"/>
<circle cx="384.4" cy="297.0" r="1.15" fill="#ff4434" opacity="0.76"/>
<circle cx="494.7" cy="377.1" r="0.99" fill="#ff4434" opacity="1.00"/>
<circle cx="485.2" cy="337.7" r="0.90" fill="#ff4434" opacity="0.84"/>
<circle cx="442.2" cy="331.0" r="1.51" fill="#ff4434" opacity="0.70"/>
<circle cx="418.6" cy="303.5" r="1.30" fill="#ff4434" opacity="0.75"/>
<circle cx="428.4" cy="387.6" r="1.06" fill="#ff4434" opacity="0.68"/>
<circle cx="382.0" cy="357.6" r="0.98" fill="#ff4434" opacity="0.94"/>
<circle cx="395.3" cy="272.8" r="1.42" fill="#ff4434" opacity="0.96"/>
<circle cx="378.7" cy="294.7" r="0.93" fill="#ff4434" opacity="0.88"/>
<circle cx="471.4" cy="300.4" r="1.11" fill="#ff4434" opacity="0.86"/>
<circle cx="447.7" cy="277.6" r="1.26" fill="#ff4434" opacity="0.73"/>
<circle cx="454.6" cy="258.7" r="1.54" fill="#ff4434" opacity="0.60"/>
<circle cx="461.7" cy="299.2" r="1.39" fill="#ff4434" opacity="0.94"/>
<circle cx="401.3" cy="372.9" r="1.24" fill="#ff4434" opacity="0.84"/>
<circle cx="513.0" cy="302.3" r="1.56" fill="#ff4434" opacity="0.69"/>
<circle cx="508.5" cy="340.7" r="1.32" fill="#ff4434" opacity="0.90"/>
<circle cx="496.7" cy="358.5" r="1.15" fill="#ff4434" opacity="0.88"/>
<circle cx="457.7" cy="298.7" r="1.16" fill="#ff4434" opacity="0.81"/>
<circle cx="507.3" cy="294.5" r="1.30" fill="#ff4434" opacity="0.87"/>
<circle cx="448.0" cy="358.9" r="1.11" fill="#ff4434" opacity="0.85"/>
<circle cx="380.3" cy="347.9" r="1.26" fill="#ff4434" opacity="0.69"/>
<circle cx="425.6" cy="310.9" r="1.30" fill="#ff4434" opacity="0.71"/>
<circle cx="475.2" cy="327.5" r="1.50" fill="#ff4434" opacity="0.79"/>
<circle cx="459.7" cy="291.5" r="1.38" fill="#ff4434" opacity="0.81"/>
<circle cx="408.6" cy="309.7" r="1.21" fill="#ff4434" opacity="0.69"/>
<circle cx="430.1" cy="278.7" r="0.99" fill="#ff4434" opacity="0.97"/>
<circle cx="494.9" cy="382.6" r="1.25" fill="#ff4434" opacity="0.81"/>
<circle cx="384.9" cy="308.2" r="1.25" fill="#ff4434" opacity="0.93"/>
<circle cx="476.7" cy="251.7" r="1.06" fill="#ff4434" opacity="0.67"/>
<circle cx="495.3" cy="328.0" r="1.44" fill="#ff4434" opacity="0.78"/>
<circle cx="481.8" cy="369.8" r="1.32" fill="#ff4434" opacity="0.93"/>
<circle cx="498.7" cy="273.1" r="1.49" fill="#ff4434" opacity="0.95"/>
<circle cx="482.1" cy="331.5" r="0.93" fill="#ff4434" opacity="0.75"/>
<circle cx="476.3" cy="264.4" r="1.45" fill="#ff4434" opacity="0.93"/>
<circle cx="406.2" cy="358.3" r="0.98" fill="#ff4434" opacity="0.66"/>
<circle cx="488.8" cy="385.3" r="1.07" fill="#ff4434" opacity="0.64"/>
<circle cx="390.8" cy="370.1" r="1.14" fill="#ff4434" opacity="0.92"/>
<circle cx="432.2" cy="310.0" r="1.24" fill="#ff4434" opacity="0.78"/>
<circle cx="431.3" cy="356.5" r="0.96" fill="#ff4434" opacity="0.76"/>
<circle cx="497.0" cy="286.3" r="1.56" fill="#ff4434" opacity="0.88"/>
<circle cx="480.5" cy="332.9" r="1.20" fill="#ff4434" opacity="0.79"/>
<circle cx="414.1" cy="365.7" r="1.43" fill="#ff4434" opacity="0.90"/>
<circle cx="405.2" cy="301.0" r="1.00" fill="#ff4434" opacity="0.87"/>
<circle cx="445.3" cy="328.9" r="1.14" fill="#ff4434" opacity="0.81"/>
<circle cx="408.6" cy="302.1" r="1.06" fill="#ff4434" opacity="0.75"/>
<circle cx="502.4" cy="330.9" r="1.12" fill="#ff4434" opacity="0.75"/>
<circle cx="465.9" cy="322.6" r="0.91" fill="#ff4434" opacity="0.68"/>
<circle cx="488.6" cy="375.7" r="1.28" fill="#ff4434" opacity="0.62"/>
<circle cx="443.1" cy="365.1" r="1.02" fill="#ff4434" opacity="0.89"/>
<circle cx="408.3" cy="324.0" r="1.08" fill="#ff4434" opacity="0.73"/>
<circle cx="396.6" cy="299.7" r="1.06" fill="#ff4434" opacity="0.93"/>
<circle cx="525.3" cy="302.8" r="0.96" fill="#ff4434" opacity="0.85"/>
<circle cx="507.2" cy="336.7" r="1.47" fill="#ff4434" opacity="0.68"/>
<circle cx="458.7" cy="250.4" r="1.18" fill="#ff4434" opacity="0.92"/>
<circle cx="458.6" cy="261.5" r="1.31" fill="#ff4434" opacity="0.75"/>
<circle cx="417.2" cy="288.2" r="0.93" fill="#ff4434" opacity="0.78"/>
<circle cx="435.0" cy="393.5" r="1.14" fill="#ff4434" opacity="0.89"/>
<circle cx="502.7" cy="268.8" r="1.09" fill="#ff4434" opacity="0.76"/>
<circle cx="430.7" cy="284.2" r="1.33" fill="#ff4434" opacity="0.92"/>
<circle cx="454.7" cy="255.9" r="1.13" fill="#ff4434" opacity="0.75"/>
<circle cx="385.7" cy="320.5" r="1.28" fill="#ff4434" opacity="0.97"/>
<circle cx="414.2" cy="371.6" r="1.03" fill="#ff4434" opacity="0.99"/>
<circle cx="432.8" cy="334.9" r="1.37" fill="#ff4434" opacity="0.75"/>
<circle cx="425.5" cy="362.6" r="1.34" fill="#ff4434" opacity="0.73"/>
<circle cx="504.0" cy="320.0" r="0.95" fill="#ff4434" opacity="0.90"/>
<circle cx="422.6" cy="353.0" r="1.15" fill="#ff4434" opacity="0.81"/>
<circle cx="453.5" cy="370.8" r="1.23" fill="#ff4434" opacity="0.96"/>
<circle cx="453.5" cy="329.1" r="1.40" fill="#ff4434" opacity="0.61"/>
<circle cx="485.9" cy="285.2" r="1.29" fill="#ff4434" opacity="0.79"/>
<circle cx="392.5" cy="344.1" r="1.21" fill="#ff4434" opacity="0.94"/>
<circle cx="438.4" cy="354.9" r="1.17" fill="#ff4434" opacity="0.79"/>
<circle cx="488.9" cy="341.7" r="1.49" fill="#ff4434" opacity="0.78"/>
<circle cx="424.6" cy="387.2" r="1.22" fill="#ff4434" opacity="0.80"/>
<circle cx="376.0" cy="299.6" r="1.44" fill="#ff4434" opacity="0.87"/>
<circle cx="407.9" cy="388.3" r="1.39" fill="#ff4434" opacity="0.76"/>
<circle cx="429.5" cy="312.8" r="0.93" fill="#ff4434" opacity="0.87"/>
<circle cx="475.2" cy="378.6" r="1.27" fill="#ff4434" opacity="0.91"/>
<circle cx="496.4" cy="320.3" r="1.41" fill="#ff4434" opacity="0.65"/>
<circle cx="457.0" cy="272.6" r="1.05" fill="#ff4434" opacity="0.63"/>
<circle cx="463.0" cy="308.8" r="1.44" fill="#ff4434" opacity="0.64"/>
<circle cx="374.0" cy="331.3" r="0.96" fill="#ff4434" opacity="0.90"/>
<circle cx="442.5" cy="363.8" r="1.27" fill="#ff4434" opacity="0.62"/>
<circle cx="480.9" cy="328.7" r="1.35" fill="#ff4434" opacity="0.88"/>
<circle cx="441.4" cy="390.3" r="1.22" fill="#ff4434" opacity="0.62"/>
<circle cx="458.9" cy="373.3" r="1.36" fill="#ff4434" opacity="0.77"/>
<circle cx="467.9" cy="382.7" r="1.29" fill="#ff4434" opacity="1.00"/>
<circle cx="491.0" cy="275.7" r="1.44" fill="#ff4434" opacity="0.95"/>
<circle cx="471.4" cy="388.3" r="1.00" fill="#ff4434" opacity="0.73"/>
<circle cx="509.0" cy="309.9" r="1.24" fill="#ff4434" opacity="0.60"/>
<circle cx="511.8" cy="358.2" r="1.55" fill="#ff4434" opacity="0.71"/>
<circle cx="481.9" cy="291.3" r="1.07" fill="#ff4434" opacity="0.73"/>
<circle cx="471.5" cy="350.1" r="1.07" fill="#ff4434" opacity="0.94"/>
<circle cx="376.6" cy="306.9" r="1.27" fill="#ff4434" opacity="0.80"/>
<circle cx="400.3" cy="265.2" r="1.18" fill="#ff4434" opacity="0.62"/>
<circle cx="459.7" cy="368.2" r="1.10" fill="#ff4434" opacity="0.95"/>
<circle cx="448.7" cy="260.0" r="1.43" fill="#ff4434" opacity="0.94"/>
<circle cx="394.7" cy="360.7" r="1.07" fill="#ff4434" opacity="0.68"/>
<circle cx="439.0" cy="340.2" r="0.93" fill="#ff4434" opacity="0.81"/>
<circle cx="434.4" cy="332.7" r="1.15" fill="#ff4434" opacity="0.79"/>
<circle cx="416.8" cy="291.2" r="1.22" fill="#ff4434" opacity="0.83"/>
<circle cx="387.6" cy="326.2" r="1.14" fill="#ff4434" opacity="0.92"/>
<circle cx="446.6" cy="378.1" r="1.03" fill="#ff4434" opacity="0.97"/>
<circle cx="525.2" cy="330.5" r="1.27" fill="#ff4434" opacity="0.62"/>
<circle cx="376.3" cy="293.0" r="1.11" fill="#ff4434" opacity="0.81"/>
<circle cx="507.5" cy="345.5" r="1.17" fill="#ff4434" opacity="0.83"/>
<circle cx="441.6" cy="279.0" r="1.11" fill="#ff4434" opacity="0.71"/>
<circle cx="475.2" cy="341.4" r="1.43" fill="#ff4434" opacity="0.72"/>
<circle cx="492.5" cy="378.4" r="1.37" fill="#ff4434" opacity="0.92"/>
<circle cx="509.6" cy="362.4" r="1.29" fill="#ff4434" opacity="0.78"/>
<circle cx="397.3" cy="351.1" r="1.52" fill="#ff4434" opacity="0.78"/>
<circle cx="398.7" cy="292.7" r="1.48" fill="#ff4434" opacity="0.62"/>
<circle cx="415.1" cy="272.5" r="1.19" fill="#ff4434" opacity="0.86"/>
<circle cx="415.7" cy="383.8" r="0.93" fill="#ff4434" opacity="0.95"/>
<circle cx="445.7" cy="391.0" r="0.95" fill="#ff4434" opacity="0.84"/>
<circle cx="454.8" cy="254.2" r="1.02" fill="#ff4434" opacity="0.97"/>
<circle cx="423.6" cy="389.1" r="1.27" fill="#ff4434" opacity="0.92"/>
<circle cx="502.0" cy="316.4" r="1.23" fill="#ff4434" opacity="0.87"/>
<circle cx="438.8" cy="380.6" r="1.35" fill="#ff4434" opacity="0.72"/>
<circle cx="475.9" cy="313.5" r="1.04" fill="#ff4434" opacity="0.94"/>
<circle cx="503.7" cy="327.1" r="1.00" fill="#ff4434" opacity="0.97"/>
<circle cx="409.8" cy="266.1" r="1.04" fill="#ff4434" opacity="0.64"/>
<circle cx="397.6" cy="384.1" r="0.96" fill="#ff4434" opacity="0.91"/>
<circle cx="458.5" cy="392.5" r="1.53" fill="#ff4434" opacity="0.77"/>
<circle cx="460.2" cy="331.1" r="1.33" fill="#ff4434" opacity="0.70"/>
<circle cx="462.0" cy="338.6" r="1.50" fill="#ff4434" opacity="0.87"/>
<circle cx="389.8" cy="323.3" r="1.00" fill="#ff4434" opacity="0.62"/>
<circle cx="481.0" cy="394.1" r="1.36" fill="#ff4434" opacity="0.62"/>
<circle cx="428.6" cy="347.0" r="1.45" fill="#ff4434" opacity="0.72"/>
<circle cx="479.1" cy="385.3" r="1.05" fill="#ff4434" opacity="0.83"/>
<circle cx="477.2" cy="308.8" r="1.11" fill="#ff4434" opacity="0.82"/>
<circle cx="518.0" cy="336.7" r="1.00" fill="#ff4434" opacity="0.96"/>
<circle cx="452.7" cy="402.7" r="1.11" fill="#ff4434" opacity="0.94"/>
<circle cx="385.6" cy="324.4" r="1.00" fill="#ff4434" opacity="0.92"/>
<circle cx="409.3" cy="383.0" r="1.55" fill="#ff4434" opacity="0.76"/>
<circle cx="405.2" cy="335.2" r="0.92" fill="#ff4434" opacity="0.75"/>
<circle cx="470.4" cy="309.1" r="1.32" fill="#ff4434" opacity="0.69"/>
<circle cx="446.9" cy="303.8" r="1.26" fill="#ff4434" opacity="0.64"/>
<circle cx="418.2" cy="284.1" r="1.21" fill="#ff4434" opacity="0.89"/>
<circle cx="461.8" cy="309.3" r="1.18" fill="#ff4434" opacity="0.87"/>
<circle cx="402.2" cy="304.0" r="0.98" fill="#ff4434" opacity="0.93"/>
<circle cx="516.5" cy="286.4" r="0.98" fill="#ff4434" opacity="0.97"/>
<circle cx="422.7" cy="297.0" r="1.56" fill="#ff4434" opacity="0.98"/>
<circle cx="448.5" cy="364.7" r="1.25" fill="#ff4434" opacity="0.72"/>
<circle cx="414.0" cy="339.5" r="1.13" fill="#ff4434" opacity="0.90"/>
<circle cx="469.1" cy="390.3" r="1.23" fill="#ff4434" opacity="0.97"/>
<circle cx="435.9" cy="247.4" r="0.86" fill="#5aff6a" opacity="0.79"/>
<circle cx="449.6" cy="259.9" r="1.35" fill="#5aff6a" opacity="0.84"/>
<circle cx="452.1" cy="261.1" r="1.15" fill="#5aff6a" opacity="0.64"/>
<circle cx="463.3" cy="262.4" r="0.89" fill="#5aff6a" opacity="0.71"/>
<circle cx="474.5" cy="257.4" r="1.37" fill="#5aff6a" opacity="0.94"/>
<circle cx="489.4" cy="269.8" r="0.95" fill="#5aff6a" opacity="0.97"/>
<circle cx="501.9" cy="267.3" r="0.82" fill="#5aff6a" opacity="0.84"/>
<circle cx="495.7" cy="288.5" r="1.42" fill="#5aff6a" opacity="0.74"/>
<circle cx="498.2" cy="289.7" r="1.40" fill="#5aff6a" opacity="0.86"/>
<circle cx="491.9" cy="293.5" r="0.83" fill="#5aff6a" opacity="0.73"/>
<circle cx="495.7" cy="299.7" r="1.09" fill="#5aff6a" opacity="0.70"/>
<circle cx="404.8" cy="289.7" r="1.28" fill="#5aff6a" opacity="0.67"/>
<circle cx="399.8" cy="282.3" r="1.30" fill="#5aff6a" opacity="0.72"/>
<circle cx="388.6" cy="286.0" r="0.84" fill="#5aff6a" opacity="0.82"/>
<circle cx="382.4" cy="283.5" r="0.86" fill="#5aff6a" opacity="0.82"/>
<circle cx="418.5" cy="256.1" r="1.30" fill="#5aff6a" opacity="0.84"/>
<circle cx="422.2" cy="251.2" r="1.10" fill="#5aff6a" opacity="0.61"/>
<circle cx="392.4" cy="304.7" r="1.13" fill="#5aff6a" opacity="0.64"/>
<circle cx="417.3" cy="329.6" r="1.21" fill="#5aff6a" opacity="0.65"/>
<circle cx="397.3" cy="338.3" r="1.17" fill="#5aff6a" opacity="0.74"/>
<circle cx="437.2" cy="325.8" r="1.04" fill="#5aff6a" opacity="0.87"/>
<circle cx="435.9" cy="324.6" r="0.90" fill="#5aff6a" opacity="0.67"/>
<circle cx="454.6" cy="276.1" r="1.40" fill="#5aff6a" opacity="0.73"/>
<circle cx="473.3" cy="288.5" r="1.34" fill="#5aff6a" opacity="0.95"/>
<circle cx="499.4" cy="312.2" r="1.11" fill="#5aff6a" opacity="0.66"/>
<circle cx="511.9" cy="292.2" r="0.86" fill="#5aff6a" opacity="0.95"/>
<circle cx="516.8" cy="296.0" r="0.87" fill="#5aff6a" opacity="0.80"/>
<circle cx="465.8" cy="358.2" r="1.14" fill="#5aff6a" opacity="0.65"/>
<circle cx="467.0" cy="347.0" r="1.10" fill="#5aff6a" opacity="0.67"/>
<circle cx="452.1" cy="347.0" r="1.14" fill="#5aff6a" opacity="0.80"/>
<circle cx="430.9" cy="309.7" r="1.03" fill="#5aff6a" opacity="0.68"/>
<circle cx="429.7" cy="364.4" r="1.06" fill="#5aff6a" opacity="0.68"/>
<circle cx="419.7" cy="384.3" r="0.88" fill="#5aff6a" opacity="0.70"/>
<circle cx="499.4" cy="381.9" r="1.36" fill="#5aff6a" opacity="0.80"/>
<circle cx="406.1" cy="354.5" r="1.37" fill="#5aff6a" opacity="0.61"/>
<circle cx="442.2" cy="254.9" r="1.40" fill="#5aff6a" opacity="0.80"/>
<circle cx="469.5" cy="304.7" r="1.31" fill="#5aff6a" opacity="0.83"/>
<circle cx="439.7" cy="304.7" r="1.24" fill="#5aff6a" opacity="0.69"/>
<circle cx="384.9" cy="297.2" r="1.28" fill="#5aff6a" opacity="0.66"/>
<circle cx="509.4" cy="334.6" r="0.97" fill="#5aff6a" opacity="0.61"/>
</g></g>
<circle cx="449" cy="324" r="80.0" fill="none" stroke="#050505" stroke-width="1.2"/>
<text x="0" y="0" text-anchor="middle" class="b" style="font-size:13px" transform="translate(209 30) scale(0.99 1.09)">ELISpot</text>
<text x="436.6" y="27.8" text-anchor="middle" class="b" style="font-size:13.5px">FluoroSpot</text>
<text x="556.6" y="136.9" class="b">Pre-vaccination</text>
<text x="556.6" y="327.9" class="b">Post-vaccination</text>
<text x="132.5" y="438.3" text-anchor="middle" class="b">IgG</text>
<text x="274.2" y="439.4" text-anchor="middle" class="b">IgA</text>
<text x="448.3" y="432.7" text-anchor="middle" class="b" style="font-size:11.3px">IgG + IgA</text>
<rect x="415.8" y="444.6" width="26.2" height="6.6" fill="#e8202a"/>
<rect x="456.1" y="444.8" width="26.9" height="6.6" fill="#80c241"/>
<text x="362.7" y="487.3" text-anchor="middle" class="s" style="font-size:21px;letter-spacing:0.6px">(<tspan font-weight="bold">a</tspan>)</text>
<text x="365.5" y="975.9" text-anchor="middle" class="s">(<tspan font-weight="bold">b</tspan>)</text>
<rect x="24" y="512.3" width="683.6" height="426.5" rx="1" fill="none" stroke="#888" stroke-width="2"/>
<rect x="120.30" y="827.24" width="9.68" height="20.06" fill="#d9d9d9"/>
<rect x="129.93" y="831.21" width="9.68" height="16.09" fill="#bfbfbf"/>
<rect x="139.56" y="809.16" width="9.68" height="38.14" fill="#a6a6a6"/>
<rect x="149.19" y="808.37" width="9.68" height="38.93" fill="#7f7f7f"/>
<rect x="158.82" y="822.07" width="9.68" height="25.23" fill="#595959"/>
<rect x="168.45" y="828.03" width="9.68" height="19.27" fill="#404040"/>
<rect x="192.61" y="721.37" width="9.68" height="125.93" fill="#d9d9d9"/>
<rect x="202.24" y="583.53" width="9.68" height="263.77" fill="#bfbfbf"/>
<rect x="211.87" y="711.04" width="9.68" height="136.26" fill="#a6a6a6"/>
<rect x="221.50" y="657.61" width="9.68" height="189.69" fill="#7f7f7f"/>
<rect x="231.13" y="774.60" width="9.68" height="72.70" fill="#595959"/>
<rect x="240.76" y="729.71" width="9.68" height="117.59" fill="#404040"/>
<rect x="264.92" y="775.20" width="9.68" height="72.10" fill="#d9d9d9"/>
<rect x="274.55" y="802.01" width="9.68" height="45.29" fill="#bfbfbf"/>
<rect x="284.18" y="786.52" width="9.68" height="60.78" fill="#a6a6a6"/>
<rect x="293.81" y="777.78" width="9.68" height="69.52" fill="#7f7f7f"/>
<rect x="303.44" y="769.04" width="9.68" height="78.26" fill="#595959"/>
<rect x="313.07" y="793.87" width="9.68" height="53.43" fill="#404040"/>
<rect x="337.24" y="798.64" width="9.68" height="48.66" fill="#d9d9d9"/>
<rect x="346.87" y="780.36" width="9.68" height="66.94" fill="#bfbfbf"/>
<rect x="356.50" y="834.29" width="9.68" height="13.01" fill="#a6a6a6"/>
<rect x="366.13" y="769.84" width="9.68" height="77.46" fill="#7f7f7f"/>
<rect x="375.76" y="781.16" width="9.68" height="66.14" fill="#595959"/>
<rect x="385.39" y="778.97" width="9.68" height="68.33" fill="#404040"/>
<rect x="409.55" y="830.02" width="9.68" height="17.28" fill="#f5b1b3"/>
<rect x="419.18" y="830.42" width="9.68" height="16.88" fill="#f39a9c"/>
<rect x="428.81" y="837.17" width="9.68" height="10.13" fill="#f17e81"/>
<rect x="438.44" y="818.90" width="9.68" height="28.40" fill="#ef6467"/>
<rect x="448.07" y="822.67" width="9.68" height="24.63" fill="#ed4447"/>
<rect x="457.70" y="837.17" width="9.68" height="10.13" fill="#ec1f26"/>
<rect x="481.86" y="708.86" width="9.68" height="138.44" fill="#f5b1b3"/>
<rect x="491.49" y="587.50" width="9.68" height="259.80" fill="#f39a9c"/>
<rect x="501.12" y="689.79" width="9.68" height="157.51" fill="#f17e81"/>
<rect x="510.75" y="636.96" width="9.68" height="210.34" fill="#ef6467"/>
<rect x="520.38" y="789.30" width="9.68" height="58.00" fill="#ed4447"/>
<rect x="530.01" y="761.89" width="9.68" height="85.41" fill="#ec1f26"/>
<rect x="554.17" y="765.67" width="9.68" height="81.63" fill="#bddcbf"/>
<rect x="563.80" y="805.59" width="9.68" height="41.71" fill="#a9d5aa"/>
<rect x="573.43" y="798.04" width="9.68" height="49.26" fill="#97cc94"/>
<rect x="583.06" y="782.75" width="9.68" height="64.55" fill="#87c683"/>
<rect x="592.69" y="777.38" width="9.68" height="69.92" fill="#77bf69"/>
<rect x="602.32" y="790.89" width="9.68" height="56.41" fill="#6abc48"/>
<rect x="626.49" y="802.01" width="9.68" height="45.29" fill="#bddcbf"/>
<rect x="636.12" y="787.91" width="9.68" height="59.39" fill="#a9d5aa"/>
<rect x="645.75" y="834.39" width="9.68" height="12.91" fill="#97cc94"/>
<rect x="655.38" y="774.21" width="9.68" height="73.09" fill="#87c683"/>
<rect x="665.01" y="784.73" width="9.68" height="62.57" fill="#77bf69"/>
<rect x="674.64" y="797.05" width="9.68" height="50.25" fill="#6abc48"/>
<line x1="125.12" y1="827.24" x2="125.12" y2="826.74" stroke="#3a3a3a" stroke-width="1.3"/>
<line x1="121.62" y1="826.74" x2="128.62" y2="826.74" stroke="#3a3a3a" stroke-width="1.3"/>
<line x1="134.75" y1="831.21" x2="134.75" y2="830.71" stroke="#3a3a3a" stroke-width="1.3"/>
<line x1="131.25" y1="830.71" x2="138.25" y2="830.71" stroke="#3a3a3a" stroke-width="1.3"/>
<line x1="144.38" y1="809.16" x2="144.38" y2="808.67" stroke="#3a3a3a" stroke-width="1.3"/>
<line x1="140.88" y1="808.67" x2="147.88" y2="808.67" stroke="#3a3a3a" stroke-width="1.3"/>
<line x1="154.00" y1="808.37" x2="154.00" y2="807.87" stroke="#3a3a3a" stroke-width="1.3"/>
<line x1="150.50" y1="807.87" x2="157.50" y2="807.87" stroke="#3a3a3a" stroke-width="1.3"/>
<line x1="163.64" y1="822.07" x2="163.64" y2="821.58" stroke="#3a3a3a" stroke-width="1.3"/>
<line x1="160.14" y1="821.58" x2="167.14" y2="821.58" stroke="#3a3a3a" stroke-width="1.3"/>
<line x1="173.27" y1="828.03" x2="173.27" y2="827.54" stroke="#3a3a3a" stroke-width="1.3"/>
<line x1="169.77" y1="827.54" x2="176.77" y2="827.54" stroke="#3a3a3a" stroke-width="1.3"/>
<line x1="197.43" y1="721.37" x2="197.43" y2="715.81" stroke="#3a3a3a" stroke-width="1.3"/>
<line x1="193.93" y1="715.81" x2="200.93" y2="715.81" stroke="#3a3a3a" stroke-width="1.3"/>
<line x1="207.06" y1="583.53" x2="207.06" y2="558.90" stroke="#3a3a3a" stroke-width="1.3"/>
<line x1="203.56" y1="558.90" x2="210.56" y2="558.90" stroke="#3a3a3a" stroke-width="1.3"/>
<line x1="216.69" y1="711.04" x2="216.69" y2="704.69" stroke="#3a3a3a" stroke-width="1.3"/>
<line x1="213.19" y1="704.69" x2="220.19" y2="704.69" stroke="#3a3a3a" stroke-width="1.3"/>
<line x1="226.32" y1="657.61" x2="226.32" y2="651.26" stroke="#3a3a3a" stroke-width="1.3"/>
<line x1="222.82" y1="651.26" x2="229.82" y2="651.26" stroke="#3a3a3a" stroke-width="1.3"/>
<line x1="235.95" y1="774.60" x2="235.95" y2="769.64" stroke="#3a3a3a" stroke-width="1.3"/>
<line x1="232.45" y1="769.64" x2="239.45" y2="769.64" stroke="#3a3a3a" stroke-width="1.3"/>
<line x1="245.58" y1="729.71" x2="245.58" y2="728.72" stroke="#3a3a3a" stroke-width="1.3"/>
<line x1="242.08" y1="728.72" x2="249.08" y2="728.72" stroke="#3a3a3a" stroke-width="1.3"/>
<line x1="269.74" y1="775.20" x2="269.74" y2="774.70" stroke="#3a3a3a" stroke-width="1.3"/>
<line x1="266.24" y1="774.70" x2="273.24" y2="774.70" stroke="#3a3a3a" stroke-width="1.3"/>
<line x1="279.37" y1="802.01" x2="279.37" y2="801.52" stroke="#3a3a3a" stroke-width="1.3"/>
<line x1="275.87" y1="801.52" x2="282.87" y2="801.52" stroke="#3a3a3a" stroke-width="1.3"/>
<line x1="289.00" y1="786.52" x2="289.00" y2="786.02" stroke="#3a3a3a" stroke-width="1.3"/>
<line x1="285.50" y1="786.02" x2="292.50" y2="786.02" stroke="#3a3a3a" stroke-width="1.3"/>
<line x1="298.63" y1="777.78" x2="298.63" y2="777.19" stroke="#3a3a3a" stroke-width="1.3"/>
<line x1="295.13" y1="777.19" x2="302.13" y2="777.19" stroke="#3a3a3a" stroke-width="1.3"/>
<line x1="308.26" y1="769.04" x2="308.26" y2="768.45" stroke="#3a3a3a" stroke-width="1.3"/>
<line x1="304.76" y1="768.45" x2="311.76" y2="768.45" stroke="#3a3a3a" stroke-width="1.3"/>
<line x1="317.89" y1="793.87" x2="317.89" y2="793.37" stroke="#3a3a3a" stroke-width="1.3"/>
<line x1="314.39" y1="793.37" x2="321.39" y2="793.37" stroke="#3a3a3a" stroke-width="1.3"/>
<line x1="342.05" y1="798.64" x2="342.05" y2="796.45" stroke="#3a3a3a" stroke-width="1.3"/>
<line x1="338.55" y1="796.45" x2="345.55" y2="796.45" stroke="#3a3a3a" stroke-width="1.3"/>
<line x1="351.68" y1="780.36" x2="351.68" y2="776.39" stroke="#3a3a3a" stroke-width="1.3"/>
<line x1="348.18" y1="776.39" x2="355.18" y2="776.39" stroke="#3a3a3a" stroke-width="1.3"/>
<line x1="361.31" y1="834.29" x2="361.31" y2="833.00" stroke="#3a3a3a" stroke-width="1.3"/>
<line x1="357.81" y1="833.00" x2="364.81" y2="833.00" stroke="#3a3a3a" stroke-width="1.3"/>
<line x1="370.94" y1="769.84" x2="370.94" y2="766.26" stroke="#3a3a3a" stroke-width="1.3"/>
<line x1="367.44" y1="766.26" x2="374.44" y2="766.26" stroke="#3a3a3a" stroke-width="1.3"/>
<line x1="380.57" y1="781.16" x2="380.57" y2="775.20" stroke="#3a3a3a" stroke-width="1.3"/>
<line x1="377.07" y1="775.20" x2="384.07" y2="775.20" stroke="#3a3a3a" stroke-width="1.3"/>
<line x1="390.20" y1="778.97" x2="390.20" y2="778.58" stroke="#3a3a3a" stroke-width="1.3"/>
<line x1="386.70" y1="778.58" x2="393.70" y2="778.58" stroke="#3a3a3a" stroke-width="1.3"/>
<line x1="414.36" y1="830.02" x2="414.36" y2="827.04" stroke="#3a3a3a" stroke-width="1.3"/>
<line x1="410.86" y1="827.04" x2="417.86" y2="827.04" stroke="#3a3a3a" stroke-width="1.3"/>
<line x1="423.99" y1="830.42" x2="423.99" y2="830.02" stroke="#3a3a3a" stroke-width="1.3"/>
<line x1="420.49" y1="830.02" x2="427.49" y2="830.02" stroke="#3a3a3a" stroke-width="1.3"/>
<line x1="433.62" y1="837.17" x2="433.62" y2="835.18" stroke="#3a3a3a" stroke-width="1.3"/>
<line x1="430.12" y1="835.18" x2="437.12" y2="835.18" stroke="#3a3a3a" stroke-width="1.3"/>
<line x1="443.25" y1="818.90" x2="443.25" y2="813.53" stroke="#3a3a3a" stroke-width="1.3"/>
<line x1="439.75" y1="813.53" x2="446.75" y2="813.53" stroke="#3a3a3a" stroke-width="1.3"/>
<line x1="452.88" y1="822.67" x2="452.88" y2="822.47" stroke="#3a3a3a" stroke-width="1.3"/>
<line x1="449.38" y1="822.47" x2="456.38" y2="822.47" stroke="#3a3a3a" stroke-width="1.3"/>
<line x1="462.51" y1="837.17" x2="462.51" y2="835.58" stroke="#3a3a3a" stroke-width="1.3"/>
<line x1="459.01" y1="835.58" x2="466.01" y2="835.58" stroke="#3a3a3a" stroke-width="1.3"/>
<line x1="486.68" y1="708.86" x2="486.68" y2="699.32" stroke="#3a3a3a" stroke-width="1.3"/>
<line x1="483.18" y1="699.32" x2="490.18" y2="699.32" stroke="#3a3a3a" stroke-width="1.3"/>
<line x1="496.31" y1="587.50" x2="496.31" y2="572.80" stroke="#3a3a3a" stroke-width="1.3"/>
<line x1="492.81" y1="572.80" x2="499.81" y2="572.80" stroke="#3a3a3a" stroke-width="1.3"/>
<line x1="502.44" y1="683.63" x2="509.44" y2="683.63" stroke="#3a3a3a" stroke-width="1.3"/>
<line x1="515.57" y1="636.96" x2="515.57" y2="630.20" stroke="#3a3a3a" stroke-width="1.3"/>
<line x1="512.07" y1="630.20" x2="519.07" y2="630.20" stroke="#3a3a3a" stroke-width="1.3"/>
<line x1="525.20" y1="789.30" x2="525.20" y2="779.17" stroke="#3a3a3a" stroke-width="1.3"/>
<line x1="521.70" y1="779.17" x2="528.70" y2="779.17" stroke="#3a3a3a" stroke-width="1.3"/>
<line x1="534.83" y1="761.89" x2="534.83" y2="751.56" stroke="#3a3a3a" stroke-width="1.3"/>
<line x1="531.33" y1="751.56" x2="538.33" y2="751.56" stroke="#3a3a3a" stroke-width="1.3"/>
<line x1="558.99" y1="765.67" x2="558.99" y2="760.50" stroke="#3a3a3a" stroke-width="1.3"/>
<line x1="555.49" y1="760.50" x2="562.49" y2="760.50" stroke="#3a3a3a" stroke-width="1.3"/>
<line x1="568.62" y1="805.59" x2="568.62" y2="803.60" stroke="#3a3a3a" stroke-width="1.3"/>
<line x1="565.12" y1="803.60" x2="572.12" y2="803.60" stroke="#3a3a3a" stroke-width="1.3"/>
<line x1="578.25" y1="798.04" x2="578.25" y2="792.28" stroke="#3a3a3a" stroke-width="1.3"/>
<line x1="574.75" y1="792.28" x2="581.75" y2="792.28" stroke="#3a3a3a" stroke-width="1.3"/>
<line x1="587.88" y1="782.75" x2="587.88" y2="777.19" stroke="#3a3a3a" stroke-width="1.3"/>
<line x1="584.38" y1="777.19" x2="591.38" y2="777.19" stroke="#3a3a3a" stroke-width="1.3"/>
<line x1="597.51" y1="777.38" x2="597.51" y2="772.42" stroke="#3a3a3a" stroke-width="1.3"/>
<line x1="594.01" y1="772.42" x2="601.01" y2="772.42" stroke="#3a3a3a" stroke-width="1.3"/>
<line x1="607.14" y1="790.89" x2="607.14" y2="788.71" stroke="#3a3a3a" stroke-width="1.3"/>
<line x1="603.64" y1="788.71" x2="610.64" y2="788.71" stroke="#3a3a3a" stroke-width="1.3"/>
<line x1="631.30" y1="802.01" x2="631.30" y2="796.65" stroke="#3a3a3a" stroke-width="1.3"/>
<line x1="627.80" y1="796.65" x2="634.80" y2="796.65" stroke="#3a3a3a" stroke-width="1.3"/>
<line x1="640.93" y1="787.91" x2="640.93" y2="782.15" stroke="#3a3a3a" stroke-width="1.3"/>
<line x1="637.43" y1="782.15" x2="644.43" y2="782.15" stroke="#3a3a3a" stroke-width="1.3"/>
<line x1="650.56" y1="834.39" x2="650.56" y2="830.81" stroke="#3a3a3a" stroke-width="1.3"/>
<line x1="647.06" y1="830.81" x2="654.06" y2="830.81" stroke="#3a3a3a" stroke-width="1.3"/>
<line x1="660.19" y1="774.21" x2="660.19" y2="767.85" stroke="#3a3a3a" stroke-width="1.3"/>
<line x1="656.69" y1="767.85" x2="663.69" y2="767.85" stroke="#3a3a3a" stroke-width="1.3"/>
<line x1="669.82" y1="784.73" x2="669.82" y2="775.40" stroke="#3a3a3a" stroke-width="1.3"/>
<line x1="666.32" y1="775.40" x2="673.32" y2="775.40" stroke="#3a3a3a" stroke-width="1.3"/>
<line x1="679.45" y1="797.05" x2="679.45" y2="793.27" stroke="#3a3a3a" stroke-width="1.3"/>
<line x1="675.95" y1="793.27" x2="682.95" y2="793.27" stroke="#3a3a3a" stroke-width="1.3"/>
<line x1="112.9" y1="529.5" x2="112.9" y2="932.5" stroke="#9a9a9a" stroke-width="1.2"/>
<line x1="107.9" y1="847.3" x2="691.4" y2="847.3" stroke="#9a9a9a" stroke-width="1.2"/>
<line x1="107.9" y1="847.30" x2="112.9" y2="847.30" stroke="#9a9a9a" stroke-width="1.2"/>
<line x1="107.9" y1="807.57" x2="112.9" y2="807.57" stroke="#9a9a9a" stroke-width="1.2"/>
<line x1="107.9" y1="767.85" x2="112.9" y2="767.85" stroke="#9a9a9a" stroke-width="1.2"/>
<line x1="107.9" y1="728.12" x2="112.9" y2="728.12" stroke="#9a9a9a" stroke-width="1.2"/>
<line x1="107.9" y1="688.40" x2="112.9" y2="688.40" stroke="#9a9a9a" stroke-width="1.2"/>
<line x1="107.9" y1="648.67" x2="112.9" y2="648.67" stroke="#9a9a9a" stroke-width="1.2"/>
<line x1="107.9" y1="608.95" x2="112.9" y2="608.95" stroke="#9a9a9a" stroke-width="1.2"/>
<line x1="107.9" y1="569.23" x2="112.9" y2="569.23" stroke="#9a9a9a" stroke-width="1.2"/>
<line x1="107.9" y1="529.50" x2="112.9" y2="529.50" stroke="#9a9a9a" stroke-width="1.2"/>
<line x1="185.21" y1="847.3" x2="185.21" y2="900" stroke="#9a9a9a" stroke-width="1.2"/>
<line x1="257.52" y1="847.3" x2="257.52" y2="900" stroke="#9a9a9a" stroke-width="1.2"/>
<line x1="329.84" y1="847.3" x2="329.84" y2="900" stroke="#9a9a9a" stroke-width="1.2"/>
<line x1="402.15" y1="847.3" x2="402.15" y2="932.5" stroke="#9a9a9a" stroke-width="1.2"/>
<line x1="474.46" y1="847.3" x2="474.46" y2="900" stroke="#9a9a9a" stroke-width="1.2"/>
<line x1="546.77" y1="847.3" x2="546.77" y2="900" stroke="#9a9a9a" stroke-width="1.2"/>
<line x1="619.09" y1="847.3" x2="619.09" y2="900" stroke="#9a9a9a" stroke-width="1.2"/>
<line x1="691.40" y1="847.3" x2="691.40" y2="932.5" stroke="#9a9a9a" stroke-width="1.2"/>
<text x="99.2" y="852.00" text-anchor="end" class="t" style="font-size:15px">0</text>
<text x="99.2" y="812.27" text-anchor="end" class="t" style="font-size:15px">200</text>
<text x="99.2" y="772.55" text-anchor="end" class="t" style="font-size:15px">400</text>
<text x="99.2" y="732.83" text-anchor="end" class="t" style="font-size:15px">600</text>
<text x="99.2" y="693.10" text-anchor="end" class="t" style="font-size:15px">800</text>
<text x="99.2" y="653.38" text-anchor="end" class="t" style="font-size:15px">1000</text>
<text x="99.2" y="613.65" text-anchor="end" class="t" style="font-size:15px">1200</text>
<text x="99.2" y="573.93" text-anchor="end" class="t" style="font-size:15px">1400</text>
<text x="99.2" y="534.20" text-anchor="end" class="t" style="font-size:15px">1600</text>
<text x="122.81" y="873.4" class="t" style="font-size:15px" textLength="51.8" lengthAdjust="spacingAndGlyphs">IgG pre-</text>
<text x="131.56" y="894.3" class="t" style="font-size:15px" textLength="32.0" lengthAdjust="spacingAndGlyphs">vacc.</text>
<text x="193.72" y="873.4" class="t" style="font-size:15px" textLength="57.6" lengthAdjust="spacingAndGlyphs">IgG post-</text>
<text x="205.67" y="894.3" class="t" style="font-size:15px" textLength="32.0" lengthAdjust="spacingAndGlyphs">vacc.</text>
<text x="267.88" y="873.4" class="t" style="font-size:15px" textLength="51.7" lengthAdjust="spacingAndGlyphs">IgA pre-</text>
<text x="275.78" y="894.3" class="t" style="font-size:15px" textLength="32.0" lengthAdjust="spacingAndGlyphs">vacc.</text>
<text x="338.09" y="873.4" class="t" style="font-size:15px" textLength="55.1" lengthAdjust="spacingAndGlyphs">IgA post-</text>
<text x="349.79" y="894.3" class="t" style="font-size:15px" textLength="32.0" lengthAdjust="spacingAndGlyphs">vacc.</text>
<text x="412.06" y="873.4" class="t" style="font-size:15px" textLength="51.8" lengthAdjust="spacingAndGlyphs">IgG pre-</text>
<text x="422.31" y="894.3" class="t" style="font-size:15px" textLength="32.0" lengthAdjust="spacingAndGlyphs">vacc.</text>
<text x="482.97" y="873.4" class="t" style="font-size:15px" textLength="57.6" lengthAdjust="spacingAndGlyphs">IgG post-</text>
<text x="494.72" y="894.3" class="t" style="font-size:15px" textLength="32.0" lengthAdjust="spacingAndGlyphs">vacc.</text>
<text x="557.13" y="873.4" class="t" style="font-size:15px" textLength="51.7" lengthAdjust="spacingAndGlyphs">IgA pre-</text>
<text x="566.73" y="894.3" class="t" style="font-size:15px" textLength="32.0" lengthAdjust="spacingAndGlyphs">vacc.</text>
<text x="627.34" y="873.4" class="t" style="font-size:15px" textLength="55.1" lengthAdjust="spacingAndGlyphs">IgA post-</text>
<text x="639.04" y="894.3" class="t" style="font-size:15px" textLength="32.0" lengthAdjust="spacingAndGlyphs">vacc.</text>
<text x="233.70" y="926.0" class="t" style="font-size:15.3px" textLength="48.0" lengthAdjust="spacingAndGlyphs">ELISpot</text>
<text x="511.00" y="926.0" class="t" style="font-size:15.3px" textLength="72.0" lengthAdjust="spacingAndGlyphs">FluoroSpot</text>
<text x="0" y="0" text-anchor="middle" class="t" style="font-size:14.6px" transform="translate(52.8 692) rotate(-90)">ASC/250, 000 PBMC</text>
</svg>
</body></html>
